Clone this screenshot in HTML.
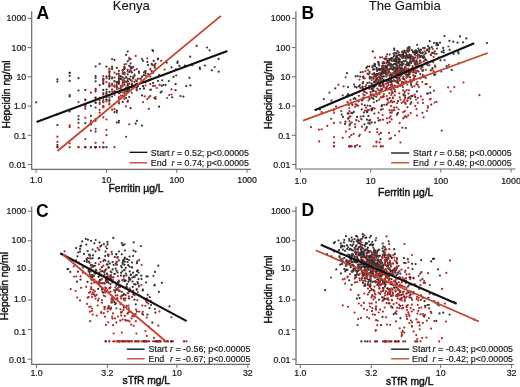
<!DOCTYPE html><html><head><meta charset="utf-8"><style>html,body{margin:0;padding:0;background:#fff;}svg{display:block;filter:blur(0.35px);}</style></head><body>
<svg width="520" height="387" viewBox="0 0 520 387" font-family='"Liberation Sans", sans-serif'>
<style>
text{font-family:"Liberation Sans",sans-serif;fill:#151515;}
.tk{font-size:8.8px;stroke:#151515;stroke-width:0.2px;}
.at{font-size:10.3px;stroke:#151515;stroke-width:0.45px;}
.lt{font-size:17.5px;font-weight:bold;fill:#000;}
.tt{font-size:13.1px;stroke:#151515;stroke-width:0.1px;}
.lg{font-size:8.9px;stroke:#151515;stroke-width:0.15px;}
</style>
<rect width="520" height="387" fill="#fff"/>
<g stroke="none">
<circle cx="150.3" cy="89.8" r="1.1" fill="#333333"/>
<circle cx="140.0" cy="78.6" r="1.1" fill="#a82c2c"/>
<circle cx="190.2" cy="56.7" r="1.1" fill="#333333"/>
<circle cx="103.3" cy="147.2" r="1.1" fill="#a82c2c"/>
<circle cx="171.5" cy="67.3" r="1.1" fill="#333333"/>
<circle cx="127.7" cy="101.8" r="1.1" fill="#333333"/>
<circle cx="127.7" cy="74.4" r="1.1" fill="#333333"/>
<circle cx="130.6" cy="70.7" r="1.1" fill="#a82c2c"/>
<circle cx="103.3" cy="89.9" r="1.1" fill="#333333"/>
<circle cx="189.4" cy="77.8" r="1.1" fill="#333333"/>
<circle cx="69.7" cy="147.2" r="1.1" fill="#a82c2c"/>
<circle cx="218.7" cy="71.7" r="1.1" fill="#333333"/>
<circle cx="106.5" cy="82.2" r="1.1" fill="#a82c2c"/>
<circle cx="109.4" cy="74.0" r="1.1" fill="#a82c2c"/>
<circle cx="127.7" cy="91.6" r="1.1" fill="#333333"/>
<circle cx="95.6" cy="78.2" r="1.1" fill="#a82c2c"/>
<circle cx="167.2" cy="98.0" r="1.1" fill="#a82c2c"/>
<circle cx="109.4" cy="83.4" r="1.1" fill="#a82c2c"/>
<circle cx="124.4" cy="96.7" r="1.1" fill="#a82c2c"/>
<circle cx="143.9" cy="72.5" r="1.1" fill="#333333"/>
<circle cx="116.8" cy="112.6" r="1.1" fill="#a82c2c"/>
<circle cx="95.6" cy="118.9" r="1.1" fill="#a82c2c"/>
<circle cx="120.8" cy="87.2" r="1.1" fill="#a82c2c"/>
<circle cx="161.7" cy="91.5" r="1.1" fill="#333333"/>
<circle cx="153.1" cy="82.9" r="1.1" fill="#333333"/>
<circle cx="137.9" cy="86.2" r="1.1" fill="#333333"/>
<circle cx="106.5" cy="119.5" r="1.1" fill="#a82c2c"/>
<circle cx="57.4" cy="147.2" r="1.1" fill="#a82c2c"/>
<circle cx="95.6" cy="88.8" r="1.1" fill="#a82c2c"/>
<circle cx="109.4" cy="86.3" r="1.1" fill="#a82c2c"/>
<circle cx="85.3" cy="123.1" r="1.1" fill="#333333"/>
<circle cx="103.3" cy="83.9" r="1.1" fill="#333333"/>
<circle cx="141.0" cy="81.5" r="1.1" fill="#333333"/>
<circle cx="148.1" cy="74.0" r="1.1" fill="#333333"/>
<circle cx="135.7" cy="84.3" r="1.1" fill="#a82c2c"/>
<circle cx="112.1" cy="69.1" r="1.1" fill="#333333"/>
<circle cx="57.4" cy="141.8" r="1.1" fill="#a82c2c"/>
<circle cx="175.9" cy="69.3" r="1.1" fill="#333333"/>
<circle cx="126.1" cy="81.8" r="1.1" fill="#333333"/>
<circle cx="95.6" cy="147.2" r="1.1" fill="#a82c2c"/>
<circle cx="162.2" cy="80.3" r="1.1" fill="#333333"/>
<circle cx="78.5" cy="147.2" r="1.1" fill="#333333"/>
<circle cx="154.4" cy="65.2" r="1.1" fill="#a82c2c"/>
<circle cx="95.6" cy="147.2" r="1.1" fill="#a82c2c"/>
<circle cx="127.7" cy="81.1" r="1.1" fill="#333333"/>
<circle cx="126.1" cy="136.8" r="1.1" fill="#a82c2c"/>
<circle cx="124.4" cy="72.7" r="1.1" fill="#a82c2c"/>
<circle cx="130.6" cy="79.8" r="1.1" fill="#333333"/>
<circle cx="106.5" cy="99.8" r="1.1" fill="#333333"/>
<circle cx="179.4" cy="65.9" r="1.1" fill="#333333"/>
<circle cx="116.8" cy="89.2" r="1.1" fill="#a82c2c"/>
<circle cx="152.4" cy="50.1" r="1.1" fill="#333333"/>
<circle cx="109.4" cy="104.5" r="1.1" fill="#a82c2c"/>
<circle cx="133.2" cy="77.5" r="1.1" fill="#333333"/>
<circle cx="114.5" cy="103.8" r="1.1" fill="#a82c2c"/>
<circle cx="95.6" cy="128.8" r="1.1" fill="#a82c2c"/>
<circle cx="114.5" cy="81.5" r="1.1" fill="#a82c2c"/>
<circle cx="103.3" cy="102.2" r="1.1" fill="#333333"/>
<circle cx="95.6" cy="97.9" r="1.1" fill="#a82c2c"/>
<circle cx="218.6" cy="58.9" r="1.1" fill="#333333"/>
<circle cx="57.4" cy="147.2" r="1.1" fill="#a82c2c"/>
<circle cx="186.2" cy="86.1" r="1.1" fill="#333333"/>
<circle cx="103.3" cy="94.4" r="1.1" fill="#333333"/>
<circle cx="106.5" cy="76.4" r="1.1" fill="#333333"/>
<circle cx="129.2" cy="90.0" r="1.1" fill="#333333"/>
<circle cx="145.6" cy="82.4" r="1.1" fill="#a82c2c"/>
<circle cx="99.7" cy="97.9" r="1.1" fill="#333333"/>
<circle cx="106.5" cy="101.4" r="1.1" fill="#a82c2c"/>
<circle cx="127.7" cy="91.1" r="1.1" fill="#333333"/>
<circle cx="112.1" cy="85.4" r="1.1" fill="#a82c2c"/>
<circle cx="116.8" cy="87.3" r="1.1" fill="#a82c2c"/>
<circle cx="130.6" cy="108.2" r="1.1" fill="#333333"/>
<circle cx="126.1" cy="106.3" r="1.1" fill="#a82c2c"/>
<circle cx="155.6" cy="98.9" r="1.1" fill="#a82c2c"/>
<circle cx="85.3" cy="147.2" r="1.1" fill="#333333"/>
<circle cx="57.4" cy="147.2" r="1.1" fill="#a82c2c"/>
<circle cx="129.2" cy="71.9" r="1.1" fill="#333333"/>
<circle cx="156.8" cy="88.0" r="1.1" fill="#a82c2c"/>
<circle cx="95.6" cy="147.2" r="1.1" fill="#333333"/>
<circle cx="103.3" cy="147.2" r="1.1" fill="#a82c2c"/>
<circle cx="69.7" cy="75.8" r="1.1" fill="#333333"/>
<circle cx="129.2" cy="65.8" r="1.1" fill="#333333"/>
<circle cx="161.7" cy="85.8" r="1.1" fill="#333333"/>
<circle cx="85.3" cy="105.2" r="1.1" fill="#a82c2c"/>
<circle cx="95.6" cy="89.9" r="1.1" fill="#333333"/>
<circle cx="124.4" cy="90.3" r="1.1" fill="#333333"/>
<circle cx="160.7" cy="92.4" r="1.1" fill="#333333"/>
<circle cx="95.6" cy="147.2" r="1.1" fill="#a82c2c"/>
<circle cx="144.7" cy="96.4" r="1.1" fill="#a82c2c"/>
<circle cx="114.5" cy="109.1" r="1.1" fill="#a82c2c"/>
<circle cx="69.7" cy="72.8" r="1.1" fill="#333333"/>
<circle cx="103.3" cy="92.9" r="1.1" fill="#a82c2c"/>
<circle cx="209.6" cy="50.3" r="1.1" fill="#333333"/>
<circle cx="99.7" cy="109.8" r="1.1" fill="#a82c2c"/>
<circle cx="85.3" cy="106.7" r="1.1" fill="#a82c2c"/>
<circle cx="103.3" cy="106.4" r="1.1" fill="#a82c2c"/>
<circle cx="118.9" cy="70.8" r="1.1" fill="#333333"/>
<circle cx="114.5" cy="91.4" r="1.1" fill="#a82c2c"/>
<circle cx="158.0" cy="59.3" r="1.1" fill="#333333"/>
<circle cx="122.7" cy="77.3" r="1.1" fill="#333333"/>
<circle cx="90.9" cy="120.6" r="1.1" fill="#a82c2c"/>
<circle cx="90.9" cy="92.7" r="1.1" fill="#a82c2c"/>
<circle cx="118.9" cy="81.8" r="1.1" fill="#333333"/>
<circle cx="109.4" cy="95.7" r="1.1" fill="#333333"/>
<circle cx="122.7" cy="80.0" r="1.1" fill="#a82c2c"/>
<circle cx="124.4" cy="68.7" r="1.1" fill="#333333"/>
<circle cx="57.4" cy="79.3" r="1.1" fill="#333333"/>
<circle cx="106.5" cy="129.8" r="1.1" fill="#a82c2c"/>
<circle cx="116.8" cy="86.6" r="1.1" fill="#333333"/>
<circle cx="118.9" cy="77.3" r="1.1" fill="#a82c2c"/>
<circle cx="122.7" cy="95.8" r="1.1" fill="#333333"/>
<circle cx="142.0" cy="58.8" r="1.1" fill="#333333"/>
<circle cx="171.5" cy="94.5" r="1.1" fill="#a82c2c"/>
<circle cx="95.6" cy="91.6" r="1.1" fill="#a82c2c"/>
<circle cx="85.3" cy="108.7" r="1.1" fill="#a82c2c"/>
<circle cx="169.2" cy="95.0" r="1.1" fill="#a82c2c"/>
<circle cx="147.3" cy="58.3" r="1.1" fill="#a82c2c"/>
<circle cx="78.5" cy="102.1" r="1.1" fill="#a82c2c"/>
<circle cx="95.6" cy="107.5" r="1.1" fill="#333333"/>
<circle cx="131.9" cy="92.8" r="1.1" fill="#a82c2c"/>
<circle cx="127.7" cy="91.4" r="1.1" fill="#333333"/>
<circle cx="155.0" cy="85.9" r="1.1" fill="#a82c2c"/>
<circle cx="69.7" cy="143.3" r="1.1" fill="#a82c2c"/>
<circle cx="130.6" cy="70.7" r="1.1" fill="#a82c2c"/>
<circle cx="106.5" cy="99.6" r="1.1" fill="#333333"/>
<circle cx="112.1" cy="77.4" r="1.1" fill="#a82c2c"/>
<circle cx="135.7" cy="87.3" r="1.1" fill="#a82c2c"/>
<circle cx="114.5" cy="77.6" r="1.1" fill="#a82c2c"/>
<circle cx="159.1" cy="75.2" r="1.1" fill="#333333"/>
<circle cx="120.8" cy="90.6" r="1.1" fill="#a82c2c"/>
<circle cx="129.2" cy="83.6" r="1.1" fill="#a82c2c"/>
<circle cx="57.4" cy="125.0" r="1.1" fill="#333333"/>
<circle cx="130.6" cy="66.9" r="1.1" fill="#333333"/>
<circle cx="122.7" cy="73.2" r="1.1" fill="#a82c2c"/>
<circle cx="145.6" cy="73.1" r="1.1" fill="#333333"/>
<circle cx="95.6" cy="131.5" r="1.1" fill="#333333"/>
<circle cx="116.8" cy="83.0" r="1.1" fill="#333333"/>
<circle cx="95.6" cy="102.8" r="1.1" fill="#333333"/>
<circle cx="175.6" cy="84.2" r="1.1" fill="#333333"/>
<circle cx="148.8" cy="108.9" r="1.1" fill="#a82c2c"/>
<circle cx="148.8" cy="97.4" r="1.1" fill="#a82c2c"/>
<circle cx="180.5" cy="96.0" r="1.1" fill="#333333"/>
<circle cx="127.7" cy="87.7" r="1.1" fill="#333333"/>
<circle cx="90.9" cy="122.8" r="1.1" fill="#a82c2c"/>
<circle cx="158.0" cy="80.8" r="1.1" fill="#333333"/>
<circle cx="122.7" cy="70.5" r="1.1" fill="#333333"/>
<circle cx="196.6" cy="45.8" r="1.1" fill="#333333"/>
<circle cx="126.1" cy="88.7" r="1.1" fill="#333333"/>
<circle cx="136.8" cy="69.1" r="1.1" fill="#a82c2c"/>
<circle cx="130.6" cy="71.4" r="1.1" fill="#a82c2c"/>
<circle cx="99.7" cy="147.2" r="1.1" fill="#a82c2c"/>
<circle cx="109.4" cy="97.7" r="1.1" fill="#a82c2c"/>
<circle cx="127.7" cy="100.6" r="1.1" fill="#a82c2c"/>
<circle cx="214.7" cy="67.1" r="1.1" fill="#a82c2c"/>
<circle cx="148.8" cy="80.2" r="1.1" fill="#333333"/>
<circle cx="103.3" cy="147.2" r="1.1" fill="#333333"/>
<circle cx="57.4" cy="81.6" r="1.1" fill="#333333"/>
<circle cx="78.5" cy="90.5" r="1.1" fill="#333333"/>
<circle cx="99.7" cy="104.0" r="1.1" fill="#a82c2c"/>
<circle cx="36.2" cy="102.3" r="1.1" fill="#333333"/>
<circle cx="122.7" cy="84.4" r="1.1" fill="#a82c2c"/>
<circle cx="116.8" cy="73.9" r="1.1" fill="#333333"/>
<circle cx="118.9" cy="98.4" r="1.1" fill="#a82c2c"/>
<circle cx="150.3" cy="84.1" r="1.1" fill="#a82c2c"/>
<circle cx="106.5" cy="93.3" r="1.1" fill="#333333"/>
<circle cx="142.0" cy="76.7" r="1.1" fill="#333333"/>
<circle cx="78.5" cy="119.3" r="1.1" fill="#333333"/>
<circle cx="129.2" cy="87.0" r="1.1" fill="#333333"/>
<circle cx="159.6" cy="84.9" r="1.1" fill="#a82c2c"/>
<circle cx="127.7" cy="89.2" r="1.1" fill="#333333"/>
<circle cx="134.5" cy="81.8" r="1.1" fill="#333333"/>
<circle cx="153.1" cy="85.9" r="1.1" fill="#a82c2c"/>
<circle cx="109.4" cy="86.4" r="1.1" fill="#333333"/>
<circle cx="106.5" cy="89.6" r="1.1" fill="#333333"/>
<circle cx="109.4" cy="71.6" r="1.1" fill="#333333"/>
<circle cx="118.9" cy="122.6" r="1.1" fill="#a82c2c"/>
<circle cx="159.1" cy="106.7" r="1.1" fill="#333333"/>
<circle cx="151.7" cy="63.9" r="1.1" fill="#333333"/>
<circle cx="153.7" cy="60.9" r="1.1" fill="#333333"/>
<circle cx="118.9" cy="80.2" r="1.1" fill="#a82c2c"/>
<circle cx="95.6" cy="142.8" r="1.1" fill="#a82c2c"/>
<circle cx="114.5" cy="72.6" r="1.1" fill="#a82c2c"/>
<circle cx="85.3" cy="90.1" r="1.1" fill="#333333"/>
<circle cx="69.7" cy="125.4" r="1.1" fill="#a82c2c"/>
<circle cx="99.7" cy="112.7" r="1.1" fill="#a82c2c"/>
<circle cx="129.2" cy="97.0" r="1.1" fill="#333333"/>
<circle cx="116.8" cy="111.1" r="1.1" fill="#a82c2c"/>
<circle cx="69.7" cy="80.9" r="1.1" fill="#333333"/>
<circle cx="127.7" cy="71.5" r="1.1" fill="#a82c2c"/>
<circle cx="124.4" cy="64.6" r="1.1" fill="#a82c2c"/>
<circle cx="95.6" cy="97.7" r="1.1" fill="#333333"/>
<circle cx="120.8" cy="88.8" r="1.1" fill="#a82c2c"/>
<circle cx="129.2" cy="124.3" r="1.1" fill="#a82c2c"/>
<circle cx="168.8" cy="81.0" r="1.1" fill="#333333"/>
<circle cx="124.4" cy="84.4" r="1.1" fill="#a82c2c"/>
<circle cx="109.4" cy="91.8" r="1.1" fill="#333333"/>
<circle cx="103.3" cy="107.3" r="1.1" fill="#a82c2c"/>
<circle cx="136.8" cy="90.2" r="1.1" fill="#333333"/>
<circle cx="95.6" cy="66.5" r="1.1" fill="#333333"/>
<circle cx="172.2" cy="97.3" r="1.1" fill="#333333"/>
<circle cx="109.4" cy="101.0" r="1.1" fill="#333333"/>
<circle cx="136.8" cy="83.6" r="1.1" fill="#a82c2c"/>
<circle cx="136.8" cy="87.8" r="1.1" fill="#333333"/>
<circle cx="127.7" cy="84.0" r="1.1" fill="#333333"/>
<circle cx="78.5" cy="127.7" r="1.1" fill="#a82c2c"/>
<circle cx="127.7" cy="78.8" r="1.1" fill="#a82c2c"/>
<circle cx="106.5" cy="147.2" r="1.1" fill="#333333"/>
<circle cx="90.9" cy="122.7" r="1.1" fill="#a82c2c"/>
<circle cx="147.3" cy="61.8" r="1.1" fill="#333333"/>
<circle cx="118.9" cy="78.8" r="1.1" fill="#333333"/>
<circle cx="95.6" cy="102.5" r="1.1" fill="#333333"/>
<circle cx="95.6" cy="147.2" r="1.1" fill="#a82c2c"/>
<circle cx="150.3" cy="69.1" r="1.1" fill="#333333"/>
<circle cx="143.0" cy="102.1" r="1.1" fill="#a82c2c"/>
<circle cx="57.4" cy="145.1" r="1.1" fill="#333333"/>
<circle cx="124.4" cy="92.1" r="1.1" fill="#a82c2c"/>
<circle cx="154.4" cy="98.1" r="1.1" fill="#333333"/>
<circle cx="112.1" cy="109.7" r="1.1" fill="#a82c2c"/>
<circle cx="144.7" cy="71.7" r="1.1" fill="#a82c2c"/>
<circle cx="103.3" cy="97.6" r="1.1" fill="#333333"/>
<circle cx="143.9" cy="75.2" r="1.1" fill="#333333"/>
<circle cx="109.4" cy="72.4" r="1.1" fill="#a82c2c"/>
<circle cx="124.4" cy="94.1" r="1.1" fill="#a82c2c"/>
<circle cx="199.7" cy="67.6" r="1.1" fill="#333333"/>
<circle cx="112.1" cy="59.2" r="1.1" fill="#a82c2c"/>
<circle cx="69.7" cy="96.4" r="1.1" fill="#333333"/>
<circle cx="143.0" cy="86.1" r="1.1" fill="#a82c2c"/>
<circle cx="112.1" cy="91.7" r="1.1" fill="#a82c2c"/>
<circle cx="116.8" cy="82.3" r="1.1" fill="#a82c2c"/>
<circle cx="131.9" cy="83.7" r="1.1" fill="#a82c2c"/>
<circle cx="69.7" cy="72.8" r="1.1" fill="#333333"/>
<circle cx="136.8" cy="81.1" r="1.1" fill="#333333"/>
<circle cx="112.1" cy="78.3" r="1.1" fill="#333333"/>
<circle cx="106.5" cy="135.2" r="1.1" fill="#a82c2c"/>
<circle cx="163.2" cy="85.0" r="1.1" fill="#333333"/>
<circle cx="122.7" cy="82.6" r="1.1" fill="#333333"/>
<circle cx="90.9" cy="147.2" r="1.1" fill="#a82c2c"/>
<circle cx="143.0" cy="60.8" r="1.1" fill="#333333"/>
<circle cx="185.0" cy="65.5" r="1.1" fill="#333333"/>
<circle cx="126.1" cy="98.0" r="1.1" fill="#333333"/>
<circle cx="122.7" cy="73.7" r="1.1" fill="#a82c2c"/>
<circle cx="161.2" cy="60.8" r="1.1" fill="#a82c2c"/>
<circle cx="154.4" cy="66.5" r="1.1" fill="#333333"/>
<circle cx="143.9" cy="88.5" r="1.1" fill="#333333"/>
<circle cx="114.5" cy="81.1" r="1.1" fill="#333333"/>
<circle cx="112.1" cy="89.4" r="1.1" fill="#a82c2c"/>
<circle cx="90.9" cy="124.6" r="1.1" fill="#333333"/>
<circle cx="120.8" cy="95.7" r="1.1" fill="#a82c2c"/>
<circle cx="114.5" cy="86.5" r="1.1" fill="#a82c2c"/>
<circle cx="120.8" cy="92.4" r="1.1" fill="#a82c2c"/>
<circle cx="126.1" cy="64.0" r="1.1" fill="#a82c2c"/>
<circle cx="112.1" cy="83.8" r="1.1" fill="#a82c2c"/>
<circle cx="130.6" cy="68.7" r="1.1" fill="#a82c2c"/>
<circle cx="124.4" cy="73.2" r="1.1" fill="#333333"/>
<circle cx="127.7" cy="61.3" r="1.1" fill="#333333"/>
<circle cx="151.0" cy="89.7" r="1.1" fill="#a82c2c"/>
<circle cx="136.8" cy="120.8" r="1.1" fill="#333333"/>
<circle cx="129.2" cy="57.9" r="1.1" fill="#a82c2c"/>
<circle cx="99.7" cy="85.1" r="1.1" fill="#333333"/>
<circle cx="131.9" cy="87.4" r="1.1" fill="#a82c2c"/>
<circle cx="120.8" cy="79.0" r="1.1" fill="#333333"/>
<circle cx="103.3" cy="78.7" r="1.1" fill="#a82c2c"/>
<circle cx="106.5" cy="92.1" r="1.1" fill="#333333"/>
<circle cx="124.4" cy="66.9" r="1.1" fill="#333333"/>
<circle cx="103.3" cy="76.0" r="1.1" fill="#a82c2c"/>
<circle cx="109.4" cy="71.7" r="1.1" fill="#a82c2c"/>
<circle cx="126.1" cy="91.6" r="1.1" fill="#333333"/>
<circle cx="129.2" cy="88.4" r="1.1" fill="#333333"/>
<circle cx="118.9" cy="73.7" r="1.1" fill="#a82c2c"/>
<circle cx="131.9" cy="87.3" r="1.1" fill="#a82c2c"/>
<circle cx="122.7" cy="70.4" r="1.1" fill="#333333"/>
<circle cx="141.0" cy="82.9" r="1.1" fill="#a82c2c"/>
<circle cx="116.8" cy="67.9" r="1.1" fill="#333333"/>
<circle cx="190.4" cy="85.4" r="1.1" fill="#333333"/>
<circle cx="109.4" cy="78.9" r="1.1" fill="#333333"/>
<circle cx="116.8" cy="122.4" r="1.1" fill="#333333"/>
<circle cx="166.8" cy="62.6" r="1.1" fill="#333333"/>
<circle cx="150.3" cy="96.0" r="1.1" fill="#333333"/>
<circle cx="109.4" cy="69.5" r="1.1" fill="#a82c2c"/>
<circle cx="118.9" cy="103.3" r="1.1" fill="#333333"/>
<circle cx="90.9" cy="147.2" r="1.1" fill="#a82c2c"/>
<circle cx="120.8" cy="85.8" r="1.1" fill="#a82c2c"/>
<circle cx="114.5" cy="59.8" r="1.1" fill="#333333"/>
<circle cx="173.6" cy="76.8" r="1.1" fill="#333333"/>
<circle cx="85.3" cy="100.2" r="1.1" fill="#a82c2c"/>
<circle cx="90.9" cy="147.2" r="1.1" fill="#333333"/>
<circle cx="90.9" cy="115.8" r="1.1" fill="#333333"/>
<circle cx="133.2" cy="86.8" r="1.1" fill="#a82c2c"/>
<circle cx="139.0" cy="73.1" r="1.1" fill="#a82c2c"/>
<circle cx="127.7" cy="88.8" r="1.1" fill="#333333"/>
<circle cx="114.5" cy="85.4" r="1.1" fill="#a82c2c"/>
<circle cx="155.6" cy="63.6" r="1.1" fill="#a82c2c"/>
<circle cx="103.3" cy="117.4" r="1.1" fill="#a82c2c"/>
<circle cx="134.5" cy="74.7" r="1.1" fill="#a82c2c"/>
<circle cx="131.9" cy="84.9" r="1.1" fill="#a82c2c"/>
<circle cx="85.3" cy="117.8" r="1.1" fill="#a82c2c"/>
<circle cx="127.7" cy="81.6" r="1.1" fill="#333333"/>
<circle cx="136.8" cy="89.7" r="1.1" fill="#a82c2c"/>
<circle cx="78.5" cy="147.2" r="1.1" fill="#a82c2c"/>
<circle cx="164.6" cy="69.5" r="1.1" fill="#a82c2c"/>
<circle cx="95.6" cy="147.2" r="1.1" fill="#333333"/>
<circle cx="109.4" cy="68.5" r="1.1" fill="#a82c2c"/>
<circle cx="139.0" cy="71.7" r="1.1" fill="#333333"/>
<circle cx="85.3" cy="139.1" r="1.1" fill="#a82c2c"/>
<circle cx="95.6" cy="81.3" r="1.1" fill="#333333"/>
<circle cx="204.9" cy="65.5" r="1.1" fill="#333333"/>
<circle cx="183.4" cy="96.6" r="1.1" fill="#333333"/>
<circle cx="90.9" cy="130.7" r="1.1" fill="#a82c2c"/>
<circle cx="114.5" cy="91.3" r="1.1" fill="#333333"/>
<circle cx="127.7" cy="88.7" r="1.1" fill="#a82c2c"/>
<circle cx="126.1" cy="54.8" r="1.1" fill="#333333"/>
<circle cx="155.0" cy="64.4" r="1.1" fill="#a82c2c"/>
<circle cx="112.1" cy="96.5" r="1.1" fill="#333333"/>
<circle cx="177.4" cy="62.9" r="1.1" fill="#333333"/>
<circle cx="78.5" cy="78.2" r="1.1" fill="#333333"/>
<circle cx="147.3" cy="99.1" r="1.1" fill="#a82c2c"/>
<circle cx="103.3" cy="79.4" r="1.1" fill="#333333"/>
<circle cx="112.1" cy="66.7" r="1.1" fill="#333333"/>
<circle cx="118.9" cy="88.6" r="1.1" fill="#a82c2c"/>
<circle cx="114.5" cy="92.9" r="1.1" fill="#a82c2c"/>
<circle cx="153.1" cy="72.8" r="1.1" fill="#a82c2c"/>
<circle cx="124.4" cy="67.7" r="1.1" fill="#a82c2c"/>
<circle cx="106.5" cy="94.3" r="1.1" fill="#a82c2c"/>
<circle cx="118.9" cy="97.0" r="1.1" fill="#a82c2c"/>
<circle cx="69.7" cy="95.0" r="1.1" fill="#333333"/>
<circle cx="103.3" cy="147.2" r="1.1" fill="#a82c2c"/>
<circle cx="133.2" cy="77.2" r="1.1" fill="#a82c2c"/>
<circle cx="155.6" cy="97.1" r="1.1" fill="#a82c2c"/>
<circle cx="95.6" cy="76.2" r="1.1" fill="#333333"/>
<circle cx="57.4" cy="136.7" r="1.1" fill="#a82c2c"/>
<circle cx="135.7" cy="55.9" r="1.1" fill="#a82c2c"/>
<circle cx="85.3" cy="147.2" r="1.1" fill="#a82c2c"/>
<circle cx="103.3" cy="106.4" r="1.1" fill="#a82c2c"/>
<circle cx="118.9" cy="100.8" r="1.1" fill="#a82c2c"/>
<circle cx="99.7" cy="115.9" r="1.1" fill="#333333"/>
<circle cx="120.8" cy="76.6" r="1.1" fill="#333333"/>
<circle cx="148.1" cy="64.9" r="1.1" fill="#333333"/>
<circle cx="131.9" cy="72.4" r="1.1" fill="#333333"/>
<circle cx="78.5" cy="116.0" r="1.1" fill="#333333"/>
<circle cx="118.9" cy="93.3" r="1.1" fill="#333333"/>
<circle cx="133.2" cy="66.8" r="1.1" fill="#333333"/>
<circle cx="124.4" cy="84.9" r="1.1" fill="#a82c2c"/>
<circle cx="155.0" cy="67.8" r="1.1" fill="#a82c2c"/>
<circle cx="137.9" cy="78.8" r="1.1" fill="#333333"/>
<circle cx="118.9" cy="83.8" r="1.1" fill="#333333"/>
<circle cx="124.4" cy="74.4" r="1.1" fill="#a82c2c"/>
<circle cx="130.6" cy="76.5" r="1.1" fill="#333333"/>
<circle cx="122.7" cy="101.9" r="1.1" fill="#333333"/>
<circle cx="211.8" cy="70.3" r="1.1" fill="#333333"/>
<circle cx="120.8" cy="98.3" r="1.1" fill="#a82c2c"/>
<circle cx="57.4" cy="114.4" r="1.1" fill="#333333"/>
<circle cx="192.3" cy="65.2" r="1.1" fill="#333333"/>
<circle cx="129.2" cy="78.8" r="1.1" fill="#333333"/>
<circle cx="106.5" cy="66.6" r="1.1" fill="#333333"/>
<circle cx="124.4" cy="99.0" r="1.1" fill="#a82c2c"/>
<circle cx="114.5" cy="94.8" r="1.1" fill="#a82c2c"/>
<circle cx="200.0" cy="68.9" r="1.1" fill="#333333"/>
<circle cx="158.0" cy="58.6" r="1.1" fill="#333333"/>
<circle cx="85.3" cy="105.0" r="1.1" fill="#a82c2c"/>
<circle cx="140.0" cy="88.8" r="1.1" fill="#333333"/>
<circle cx="118.9" cy="82.2" r="1.1" fill="#a82c2c"/>
<circle cx="141.0" cy="79.1" r="1.1" fill="#a82c2c"/>
<circle cx="95.6" cy="120.9" r="1.1" fill="#a82c2c"/>
<circle cx="118.9" cy="120.8" r="1.1" fill="#333333"/>
<circle cx="130.6" cy="63.5" r="1.1" fill="#333333"/>
<circle cx="99.7" cy="100.6" r="1.1" fill="#a82c2c"/>
<circle cx="120.8" cy="76.3" r="1.1" fill="#333333"/>
<circle cx="134.5" cy="70.1" r="1.1" fill="#333333"/>
<circle cx="207.1" cy="47.5" r="1.1" fill="#333333"/>
<circle cx="78.5" cy="122.9" r="1.1" fill="#a82c2c"/>
<circle cx="109.4" cy="86.1" r="1.1" fill="#a82c2c"/>
<circle cx="126.1" cy="94.4" r="1.1" fill="#a82c2c"/>
<circle cx="134.5" cy="75.8" r="1.1" fill="#333333"/>
<circle cx="131.9" cy="84.8" r="1.1" fill="#333333"/>
<circle cx="124.4" cy="78.7" r="1.1" fill="#333333"/>
<circle cx="148.8" cy="80.5" r="1.1" fill="#333333"/>
<circle cx="163.2" cy="75.3" r="1.1" fill="#a82c2c"/>
<circle cx="150.3" cy="80.0" r="1.1" fill="#333333"/>
<circle cx="124.4" cy="68.8" r="1.1" fill="#333333"/>
<circle cx="126.1" cy="89.4" r="1.1" fill="#333333"/>
<circle cx="109.4" cy="100.1" r="1.1" fill="#333333"/>
<circle cx="85.3" cy="99.5" r="1.1" fill="#333333"/>
<circle cx="120.8" cy="78.9" r="1.1" fill="#333333"/>
<circle cx="122.7" cy="86.4" r="1.1" fill="#a82c2c"/>
<circle cx="106.5" cy="78.2" r="1.1" fill="#a82c2c"/>
<circle cx="133.2" cy="78.5" r="1.1" fill="#333333"/>
<circle cx="127.7" cy="51.5" r="1.1" fill="#333333"/>
<circle cx="116.8" cy="84.9" r="1.1" fill="#a82c2c"/>
<circle cx="153.1" cy="51.1" r="1.1" fill="#333333"/>
<circle cx="118.9" cy="92.2" r="1.1" fill="#a82c2c"/>
<circle cx="135.7" cy="80.0" r="1.1" fill="#a82c2c"/>
<circle cx="127.7" cy="78.6" r="1.1" fill="#a82c2c"/>
<circle cx="114.5" cy="86.5" r="1.1" fill="#a82c2c"/>
<circle cx="103.3" cy="81.0" r="1.1" fill="#a82c2c"/>
<circle cx="165.5" cy="84.9" r="1.1" fill="#333333"/>
<circle cx="114.5" cy="112.1" r="1.1" fill="#333333"/>
<circle cx="122.7" cy="80.6" r="1.1" fill="#a82c2c"/>
<circle cx="176.2" cy="75.4" r="1.1" fill="#a82c2c"/>
<circle cx="118.9" cy="75.6" r="1.1" fill="#333333"/>
<circle cx="103.3" cy="106.0" r="1.1" fill="#a82c2c"/>
<circle cx="130.6" cy="59.0" r="1.1" fill="#333333"/>
<circle cx="135.7" cy="123.7" r="1.1" fill="#333333"/>
<circle cx="124.4" cy="81.7" r="1.1" fill="#333333"/>
<circle cx="103.3" cy="99.9" r="1.1" fill="#a82c2c"/>
<circle cx="124.4" cy="81.8" r="1.1" fill="#a82c2c"/>
<circle cx="131.9" cy="68.2" r="1.1" fill="#333333"/>
<circle cx="116.8" cy="81.9" r="1.1" fill="#333333"/>
<circle cx="122.7" cy="70.5" r="1.1" fill="#a82c2c"/>
<circle cx="103.3" cy="101.5" r="1.1" fill="#a82c2c"/>
<circle cx="142.0" cy="125.5" r="1.1" fill="#333333"/>
<circle cx="129.2" cy="59.7" r="1.1" fill="#a82c2c"/>
<circle cx="177.7" cy="61.5" r="1.1" fill="#333333"/>
<circle cx="103.3" cy="79.6" r="1.1" fill="#333333"/>
<circle cx="175.6" cy="90.2" r="1.1" fill="#333333"/>
<circle cx="131.9" cy="81.2" r="1.1" fill="#a82c2c"/>
<circle cx="143.9" cy="88.3" r="1.1" fill="#333333"/>
<circle cx="143.0" cy="86.0" r="1.1" fill="#333333"/>
<circle cx="106.5" cy="97.2" r="1.1" fill="#333333"/>
<circle cx="112.1" cy="67.1" r="1.1" fill="#a82c2c"/>
<circle cx="127.7" cy="85.4" r="1.1" fill="#333333"/>
<circle cx="118.9" cy="103.1" r="1.1" fill="#a82c2c"/>
<circle cx="152.4" cy="65.0" r="1.1" fill="#333333"/>
<circle cx="103.3" cy="142.7" r="1.1" fill="#a82c2c"/>
<circle cx="109.4" cy="76.9" r="1.1" fill="#333333"/>
<circle cx="126.1" cy="77.2" r="1.1" fill="#333333"/>
<circle cx="126.1" cy="87.3" r="1.1" fill="#a82c2c"/>
<circle cx="109.4" cy="75.9" r="1.1" fill="#333333"/>
<circle cx="114.5" cy="147.2" r="1.1" fill="#a82c2c"/>
<circle cx="124.4" cy="81.2" r="1.1" fill="#a82c2c"/>
<circle cx="109.4" cy="84.9" r="1.1" fill="#a82c2c"/>
<circle cx="145.6" cy="71.1" r="1.1" fill="#333333"/>
<circle cx="171.5" cy="89.3" r="1.1" fill="#a82c2c"/>
<circle cx="90.9" cy="105.8" r="1.1" fill="#333333"/>
<circle cx="122.7" cy="97.1" r="1.1" fill="#333333"/>
<circle cx="103.3" cy="82.6" r="1.1" fill="#333333"/>
<circle cx="145.6" cy="75.5" r="1.1" fill="#333333"/>
<circle cx="90.9" cy="147.2" r="1.1" fill="#a82c2c"/>
<circle cx="95.6" cy="147.2" r="1.1" fill="#333333"/>
<circle cx="127.7" cy="69.8" r="1.1" fill="#333333"/>
<circle cx="109.4" cy="103.3" r="1.1" fill="#a82c2c"/>
<circle cx="122.7" cy="92.4" r="1.1" fill="#a82c2c"/>
<circle cx="69.7" cy="111.5" r="1.1" fill="#333333"/>
<circle cx="103.3" cy="102.2" r="1.1" fill="#a82c2c"/>
<circle cx="103.3" cy="80.2" r="1.1" fill="#a82c2c"/>
<circle cx="99.7" cy="102.9" r="1.1" fill="#a82c2c"/>
<circle cx="151.7" cy="71.1" r="1.1" fill="#333333"/>
<circle cx="118.9" cy="82.4" r="1.1" fill="#333333"/>
<circle cx="129.2" cy="83.8" r="1.1" fill="#a82c2c"/>
<circle cx="85.3" cy="147.2" r="1.1" fill="#333333"/>
<circle cx="143.0" cy="81.6" r="1.1" fill="#333333"/>
<circle cx="116.8" cy="110.5" r="1.1" fill="#333333"/>
<circle cx="142.0" cy="95.4" r="1.1" fill="#333333"/>
<circle cx="69.7" cy="127.2" r="1.1" fill="#a82c2c"/>
<circle cx="99.7" cy="63.9" r="1.1" fill="#333333"/>
<circle cx="145.6" cy="85.5" r="1.1" fill="#a82c2c"/>
<circle cx="150.3" cy="76.7" r="1.1" fill="#a82c2c"/>
</g>
<line x1="36.5" y1="122.1" x2="227.4" y2="51.1" stroke="#111" stroke-width="2.1"/>
<line x1="57.5" y1="151.0" x2="220.9" y2="15.9" stroke="#c6432f" stroke-width="1.8"/>
<path d="M31.7 11.2 V169.3 H251.0" fill="none" stroke="#6c6c6c" stroke-width="1.2"/>
<line x1="27.7" y1="18.3" x2="31.7" y2="18.3" stroke="#6c6c6c" stroke-width="1"/>
<text x="26.2" y="21.3" class="tk" text-anchor="end">1000</text>
<line x1="27.7" y1="47.6" x2="31.7" y2="47.6" stroke="#6c6c6c" stroke-width="1"/>
<text x="26.2" y="50.6" class="tk" text-anchor="end">100</text>
<line x1="27.7" y1="76.8" x2="31.7" y2="76.8" stroke="#6c6c6c" stroke-width="1"/>
<text x="26.2" y="79.8" class="tk" text-anchor="end">10</text>
<line x1="27.7" y1="106.1" x2="31.7" y2="106.1" stroke="#6c6c6c" stroke-width="1"/>
<text x="26.2" y="109.1" class="tk" text-anchor="end">1.0</text>
<line x1="27.7" y1="135.3" x2="31.7" y2="135.3" stroke="#6c6c6c" stroke-width="1"/>
<text x="26.2" y="139.1" class="tk" text-anchor="end">0.1</text>
<line x1="27.7" y1="164.6" x2="31.7" y2="164.6" stroke="#6c6c6c" stroke-width="1"/>
<text x="26.2" y="168.4" class="tk" text-anchor="end">0.01</text>
<line x1="36.2" y1="169.3" x2="36.2" y2="172.8" stroke="#6c6c6c" stroke-width="1"/>
<text x="36.2" y="182.7" class="tk" text-anchor="middle">1.0</text>
<line x1="106.5" y1="169.3" x2="106.5" y2="172.8" stroke="#6c6c6c" stroke-width="1"/>
<text x="106.5" y="182.7" class="tk" text-anchor="middle">10</text>
<line x1="176.8" y1="169.3" x2="176.8" y2="172.8" stroke="#6c6c6c" stroke-width="1"/>
<text x="176.8" y="182.7" class="tk" text-anchor="middle">100</text>
<line x1="247.1" y1="169.3" x2="247.1" y2="172.8" stroke="#6c6c6c" stroke-width="1"/>
<text x="247.1" y="182.7" class="tk" text-anchor="middle">1000</text>
<text x="136.0" y="191.9" class="at" text-anchor="middle">Ferritin µg/L</text>
<text transform="translate(9.5,94.5) rotate(-90)" class="at" text-anchor="middle">Hepcidin ng/ml</text>
<text x="36.6" y="19.2" class="lt">A</text>
<text x="131.3" y="9.6" class="tt" text-anchor="middle">Kenya</text>
<line x1="129.5" y1="152.3" x2="147.4" y2="152.3" stroke="#111" stroke-width="1.35"/>
<line x1="129.5" y1="162.8" x2="147.4" y2="162.8" stroke="#c6432f" stroke-width="1.35"/>
<text x="150.8" y="156.2" class="lg">Start</text>
<text x="150.8" y="166.4" class="lg">End</text>
<text x="171.5" y="156.2" class="lg"><tspan font-style="italic">r</tspan> = 0.52; p&lt;0.00005</text>
<text x="171.5" y="166.4" class="lg"><tspan font-style="italic">r</tspan> = 0.74; p&lt;0.00005</text>
<g stroke="none">
<circle cx="345.9" cy="131.6" r="1.1" fill="#a82c2c"/>
<circle cx="367.1" cy="112.2" r="1.1" fill="#333333"/>
<circle cx="413.8" cy="59.0" r="1.1" fill="#333333"/>
<circle cx="384.2" cy="104.8" r="1.1" fill="#a82c2c"/>
<circle cx="376.2" cy="80.7" r="1.1" fill="#333333"/>
<circle cx="373.5" cy="99.1" r="1.1" fill="#333333"/>
<circle cx="423.5" cy="55.4" r="1.1" fill="#a82c2c"/>
<circle cx="411.9" cy="50.2" r="1.1" fill="#333333"/>
<circle cx="349.5" cy="125.4" r="1.1" fill="#a82c2c"/>
<circle cx="403.4" cy="64.2" r="1.1" fill="#333333"/>
<circle cx="440.0" cy="42.7" r="1.1" fill="#333333"/>
<circle cx="366.1" cy="107.7" r="1.1" fill="#a82c2c"/>
<circle cx="373.8" cy="78.8" r="1.1" fill="#a82c2c"/>
<circle cx="420.8" cy="53.0" r="1.1" fill="#333333"/>
<circle cx="398.6" cy="109.3" r="1.1" fill="#a82c2c"/>
<circle cx="371.6" cy="122.4" r="1.1" fill="#333333"/>
<circle cx="374.3" cy="75.4" r="1.1" fill="#a82c2c"/>
<circle cx="372.8" cy="51.4" r="1.1" fill="#333333"/>
<circle cx="418.8" cy="65.9" r="1.1" fill="#a82c2c"/>
<circle cx="397.7" cy="113.2" r="1.1" fill="#a82c2c"/>
<circle cx="423.0" cy="103.1" r="1.1" fill="#a82c2c"/>
<circle cx="363.3" cy="97.7" r="1.1" fill="#333333"/>
<circle cx="397.6" cy="87.2" r="1.1" fill="#a82c2c"/>
<circle cx="392.5" cy="102.3" r="1.1" fill="#a82c2c"/>
<circle cx="346.9" cy="73.2" r="1.1" fill="#333333"/>
<circle cx="429.5" cy="48.9" r="1.1" fill="#333333"/>
<circle cx="361.9" cy="104.2" r="1.1" fill="#a82c2c"/>
<circle cx="432.4" cy="68.9" r="1.1" fill="#a82c2c"/>
<circle cx="400.2" cy="73.2" r="1.1" fill="#333333"/>
<circle cx="432.1" cy="52.9" r="1.1" fill="#333333"/>
<circle cx="390.3" cy="112.6" r="1.1" fill="#333333"/>
<circle cx="410.8" cy="61.1" r="1.1" fill="#a82c2c"/>
<circle cx="387.6" cy="83.1" r="1.1" fill="#a82c2c"/>
<circle cx="380.6" cy="81.4" r="1.1" fill="#333333"/>
<circle cx="394.0" cy="60.5" r="1.1" fill="#a82c2c"/>
<circle cx="425.8" cy="69.8" r="1.1" fill="#a82c2c"/>
<circle cx="363.5" cy="76.3" r="1.1" fill="#a82c2c"/>
<circle cx="417.0" cy="115.5" r="1.1" fill="#a82c2c"/>
<circle cx="381.9" cy="96.8" r="1.1" fill="#a82c2c"/>
<circle cx="387.6" cy="74.6" r="1.1" fill="#a82c2c"/>
<circle cx="398.8" cy="73.5" r="1.1" fill="#333333"/>
<circle cx="367.4" cy="73.7" r="1.1" fill="#a82c2c"/>
<circle cx="396.8" cy="53.5" r="1.1" fill="#a82c2c"/>
<circle cx="393.3" cy="77.3" r="1.1" fill="#333333"/>
<circle cx="400.2" cy="86.1" r="1.1" fill="#a82c2c"/>
<circle cx="364.9" cy="110.7" r="1.1" fill="#a82c2c"/>
<circle cx="377.4" cy="78.0" r="1.1" fill="#333333"/>
<circle cx="412.7" cy="67.8" r="1.1" fill="#a82c2c"/>
<circle cx="416.7" cy="66.7" r="1.1" fill="#333333"/>
<circle cx="479.4" cy="95.2" r="1.1" fill="#a82c2c"/>
<circle cx="410.4" cy="57.0" r="1.1" fill="#a82c2c"/>
<circle cx="404.8" cy="52.0" r="1.1" fill="#333333"/>
<circle cx="413.2" cy="75.1" r="1.1" fill="#a82c2c"/>
<circle cx="369.0" cy="120.4" r="1.1" fill="#a82c2c"/>
<circle cx="390.4" cy="65.2" r="1.1" fill="#333333"/>
<circle cx="380.3" cy="73.2" r="1.1" fill="#a82c2c"/>
<circle cx="405.3" cy="98.5" r="1.1" fill="#a82c2c"/>
<circle cx="368.2" cy="123.1" r="1.1" fill="#333333"/>
<circle cx="411.1" cy="80.7" r="1.1" fill="#333333"/>
<circle cx="440.5" cy="60.3" r="1.1" fill="#333333"/>
<circle cx="411.7" cy="57.7" r="1.1" fill="#333333"/>
<circle cx="342.7" cy="95.4" r="1.1" fill="#a82c2c"/>
<circle cx="414.7" cy="64.1" r="1.1" fill="#333333"/>
<circle cx="396.1" cy="74.8" r="1.1" fill="#333333"/>
<circle cx="405.4" cy="67.9" r="1.1" fill="#a82c2c"/>
<circle cx="417.4" cy="51.4" r="1.1" fill="#333333"/>
<circle cx="408.7" cy="63.4" r="1.1" fill="#a82c2c"/>
<circle cx="382.2" cy="66.3" r="1.1" fill="#333333"/>
<circle cx="413.3" cy="60.6" r="1.1" fill="#333333"/>
<circle cx="379.4" cy="85.5" r="1.1" fill="#a82c2c"/>
<circle cx="412.2" cy="57.0" r="1.1" fill="#a82c2c"/>
<circle cx="402.3" cy="57.6" r="1.1" fill="#333333"/>
<circle cx="383.0" cy="146.3" r="1.1" fill="#a82c2c"/>
<circle cx="364.5" cy="124.3" r="1.1" fill="#333333"/>
<circle cx="402.4" cy="69.6" r="1.1" fill="#a82c2c"/>
<circle cx="376.0" cy="91.7" r="1.1" fill="#333333"/>
<circle cx="458.1" cy="52.0" r="1.1" fill="#333333"/>
<circle cx="417.1" cy="70.6" r="1.1" fill="#a82c2c"/>
<circle cx="413.5" cy="79.3" r="1.1" fill="#333333"/>
<circle cx="417.9" cy="85.1" r="1.1" fill="#a82c2c"/>
<circle cx="377.1" cy="71.1" r="1.1" fill="#333333"/>
<circle cx="404.3" cy="50.6" r="1.1" fill="#333333"/>
<circle cx="407.9" cy="74.8" r="1.1" fill="#a82c2c"/>
<circle cx="419.3" cy="50.2" r="1.1" fill="#333333"/>
<circle cx="374.0" cy="87.4" r="1.1" fill="#333333"/>
<circle cx="371.7" cy="83.6" r="1.1" fill="#333333"/>
<circle cx="385.3" cy="70.4" r="1.1" fill="#a82c2c"/>
<circle cx="414.0" cy="60.6" r="1.1" fill="#333333"/>
<circle cx="397.4" cy="66.4" r="1.1" fill="#a82c2c"/>
<circle cx="391.6" cy="90.4" r="1.1" fill="#a82c2c"/>
<circle cx="351.4" cy="146.3" r="1.1" fill="#a82c2c"/>
<circle cx="432.9" cy="52.8" r="1.1" fill="#333333"/>
<circle cx="403.7" cy="70.7" r="1.1" fill="#333333"/>
<circle cx="431.3" cy="104.6" r="1.1" fill="#333333"/>
<circle cx="349.5" cy="146.3" r="1.1" fill="#333333"/>
<circle cx="383.4" cy="62.4" r="1.1" fill="#333333"/>
<circle cx="384.6" cy="72.4" r="1.1" fill="#a82c2c"/>
<circle cx="349.5" cy="146.3" r="1.1" fill="#a82c2c"/>
<circle cx="386.6" cy="58.7" r="1.1" fill="#333333"/>
<circle cx="402.2" cy="85.5" r="1.1" fill="#a82c2c"/>
<circle cx="400.5" cy="99.5" r="1.1" fill="#a82c2c"/>
<circle cx="403.8" cy="56.5" r="1.1" fill="#333333"/>
<circle cx="366.3" cy="67.9" r="1.1" fill="#333333"/>
<circle cx="411.6" cy="57.1" r="1.1" fill="#333333"/>
<circle cx="394.0" cy="107.6" r="1.1" fill="#a82c2c"/>
<circle cx="323.8" cy="99.1" r="1.1" fill="#333333"/>
<circle cx="345.5" cy="121.7" r="1.1" fill="#333333"/>
<circle cx="399.3" cy="75.2" r="1.1" fill="#a82c2c"/>
<circle cx="404.2" cy="72.2" r="1.1" fill="#333333"/>
<circle cx="394.7" cy="60.4" r="1.1" fill="#333333"/>
<circle cx="416.9" cy="91.4" r="1.1" fill="#333333"/>
<circle cx="391.1" cy="75.0" r="1.1" fill="#333333"/>
<circle cx="422.7" cy="99.6" r="1.1" fill="#a82c2c"/>
<circle cx="383.4" cy="80.5" r="1.1" fill="#333333"/>
<circle cx="385.5" cy="71.9" r="1.1" fill="#333333"/>
<circle cx="360.5" cy="87.9" r="1.1" fill="#a82c2c"/>
<circle cx="374.1" cy="95.8" r="1.1" fill="#333333"/>
<circle cx="351.6" cy="146.3" r="1.1" fill="#a82c2c"/>
<circle cx="416.8" cy="52.8" r="1.1" fill="#333333"/>
<circle cx="350.0" cy="124.1" r="1.1" fill="#333333"/>
<circle cx="403.2" cy="56.3" r="1.1" fill="#333333"/>
<circle cx="371.7" cy="80.1" r="1.1" fill="#a82c2c"/>
<circle cx="380.4" cy="119.8" r="1.1" fill="#a82c2c"/>
<circle cx="406.0" cy="53.3" r="1.1" fill="#333333"/>
<circle cx="381.1" cy="70.3" r="1.1" fill="#333333"/>
<circle cx="387.4" cy="86.1" r="1.1" fill="#a82c2c"/>
<circle cx="404.2" cy="61.5" r="1.1" fill="#333333"/>
<circle cx="372.7" cy="67.4" r="1.1" fill="#a82c2c"/>
<circle cx="406.7" cy="117.1" r="1.1" fill="#a82c2c"/>
<circle cx="403.4" cy="101.6" r="1.1" fill="#a82c2c"/>
<circle cx="453.6" cy="54.0" r="1.1" fill="#333333"/>
<circle cx="421.0" cy="68.8" r="1.1" fill="#a82c2c"/>
<circle cx="383.3" cy="96.7" r="1.1" fill="#a82c2c"/>
<circle cx="390.6" cy="73.0" r="1.1" fill="#a82c2c"/>
<circle cx="411.8" cy="68.8" r="1.1" fill="#333333"/>
<circle cx="402.9" cy="87.1" r="1.1" fill="#a82c2c"/>
<circle cx="349.4" cy="137.2" r="1.1" fill="#a82c2c"/>
<circle cx="393.2" cy="73.1" r="1.1" fill="#333333"/>
<circle cx="401.8" cy="54.8" r="1.1" fill="#333333"/>
<circle cx="400.2" cy="68.8" r="1.1" fill="#a82c2c"/>
<circle cx="378.5" cy="69.9" r="1.1" fill="#333333"/>
<circle cx="427.5" cy="64.9" r="1.1" fill="#333333"/>
<circle cx="348.1" cy="87.1" r="1.1" fill="#333333"/>
<circle cx="405.8" cy="128.0" r="1.1" fill="#333333"/>
<circle cx="412.6" cy="67.9" r="1.1" fill="#333333"/>
<circle cx="394.7" cy="85.6" r="1.1" fill="#a82c2c"/>
<circle cx="393.5" cy="53.5" r="1.1" fill="#333333"/>
<circle cx="391.6" cy="74.8" r="1.1" fill="#a82c2c"/>
<circle cx="466.3" cy="38.4" r="1.1" fill="#333333"/>
<circle cx="403.5" cy="78.9" r="1.1" fill="#333333"/>
<circle cx="362.8" cy="71.9" r="1.1" fill="#a82c2c"/>
<circle cx="372.8" cy="77.9" r="1.1" fill="#a82c2c"/>
<circle cx="421.3" cy="62.5" r="1.1" fill="#a82c2c"/>
<circle cx="386.2" cy="56.7" r="1.1" fill="#a82c2c"/>
<circle cx="394.3" cy="50.0" r="1.1" fill="#333333"/>
<circle cx="449.7" cy="49.8" r="1.1" fill="#333333"/>
<circle cx="407.3" cy="84.6" r="1.1" fill="#a82c2c"/>
<circle cx="386.4" cy="76.4" r="1.1" fill="#333333"/>
<circle cx="400.5" cy="75.9" r="1.1" fill="#333333"/>
<circle cx="392.0" cy="60.8" r="1.1" fill="#333333"/>
<circle cx="377.4" cy="88.6" r="1.1" fill="#333333"/>
<circle cx="398.0" cy="73.1" r="1.1" fill="#333333"/>
<circle cx="415.6" cy="62.2" r="1.1" fill="#333333"/>
<circle cx="389.7" cy="80.7" r="1.1" fill="#333333"/>
<circle cx="410.5" cy="59.1" r="1.1" fill="#333333"/>
<circle cx="460.0" cy="36.4" r="1.1" fill="#333333"/>
<circle cx="381.0" cy="86.3" r="1.1" fill="#333333"/>
<circle cx="383.7" cy="70.1" r="1.1" fill="#a82c2c"/>
<circle cx="365.5" cy="86.5" r="1.1" fill="#333333"/>
<circle cx="369.4" cy="86.0" r="1.1" fill="#333333"/>
<circle cx="448.8" cy="64.8" r="1.1" fill="#a82c2c"/>
<circle cx="397.2" cy="67.0" r="1.1" fill="#a82c2c"/>
<circle cx="396.5" cy="78.1" r="1.1" fill="#333333"/>
<circle cx="341.7" cy="114.6" r="1.1" fill="#333333"/>
<circle cx="354.1" cy="84.4" r="1.1" fill="#a82c2c"/>
<circle cx="430.4" cy="92.8" r="1.1" fill="#333333"/>
<circle cx="444.6" cy="60.2" r="1.1" fill="#a82c2c"/>
<circle cx="397.9" cy="74.4" r="1.1" fill="#a82c2c"/>
<circle cx="399.1" cy="70.4" r="1.1" fill="#a82c2c"/>
<circle cx="353.6" cy="133.8" r="1.1" fill="#a82c2c"/>
<circle cx="379.1" cy="134.3" r="1.1" fill="#a82c2c"/>
<circle cx="378.7" cy="77.2" r="1.1" fill="#a82c2c"/>
<circle cx="373.0" cy="90.3" r="1.1" fill="#a82c2c"/>
<circle cx="403.6" cy="57.6" r="1.1" fill="#333333"/>
<circle cx="387.0" cy="70.6" r="1.1" fill="#333333"/>
<circle cx="401.9" cy="70.4" r="1.1" fill="#a82c2c"/>
<circle cx="370.9" cy="77.5" r="1.1" fill="#333333"/>
<circle cx="407.9" cy="56.2" r="1.1" fill="#a82c2c"/>
<circle cx="385.6" cy="59.3" r="1.1" fill="#333333"/>
<circle cx="422.4" cy="112.8" r="1.1" fill="#a82c2c"/>
<circle cx="387.1" cy="54.4" r="1.1" fill="#a82c2c"/>
<circle cx="396.7" cy="81.9" r="1.1" fill="#333333"/>
<circle cx="334.0" cy="142.7" r="1.1" fill="#a82c2c"/>
<circle cx="392.0" cy="93.0" r="1.1" fill="#a82c2c"/>
<circle cx="416.5" cy="109.2" r="1.1" fill="#a82c2c"/>
<circle cx="415.0" cy="51.4" r="1.1" fill="#333333"/>
<circle cx="367.6" cy="105.5" r="1.1" fill="#333333"/>
<circle cx="406.2" cy="56.0" r="1.1" fill="#333333"/>
<circle cx="396.5" cy="66.7" r="1.1" fill="#a82c2c"/>
<circle cx="408.1" cy="52.0" r="1.1" fill="#a82c2c"/>
<circle cx="389.8" cy="98.0" r="1.1" fill="#333333"/>
<circle cx="394.3" cy="110.0" r="1.1" fill="#333333"/>
<circle cx="385.6" cy="65.6" r="1.1" fill="#333333"/>
<circle cx="375.6" cy="85.8" r="1.1" fill="#333333"/>
<circle cx="394.0" cy="80.1" r="1.1" fill="#a82c2c"/>
<circle cx="390.4" cy="80.9" r="1.1" fill="#a82c2c"/>
<circle cx="395.2" cy="77.0" r="1.1" fill="#333333"/>
<circle cx="416.0" cy="73.0" r="1.1" fill="#a82c2c"/>
<circle cx="411.3" cy="63.0" r="1.1" fill="#a82c2c"/>
<circle cx="395.6" cy="63.6" r="1.1" fill="#333333"/>
<circle cx="349.5" cy="121.2" r="1.1" fill="#a82c2c"/>
<circle cx="395.6" cy="68.3" r="1.1" fill="#a82c2c"/>
<circle cx="364.8" cy="105.3" r="1.1" fill="#333333"/>
<circle cx="411.2" cy="71.6" r="1.1" fill="#a82c2c"/>
<circle cx="395.0" cy="135.3" r="1.1" fill="#a82c2c"/>
<circle cx="403.7" cy="95.5" r="1.1" fill="#a82c2c"/>
<circle cx="434.0" cy="90.7" r="1.1" fill="#a82c2c"/>
<circle cx="408.3" cy="74.8" r="1.1" fill="#333333"/>
<circle cx="407.0" cy="50.5" r="1.1" fill="#333333"/>
<circle cx="407.0" cy="65.4" r="1.1" fill="#333333"/>
<circle cx="408.9" cy="56.8" r="1.1" fill="#333333"/>
<circle cx="380.6" cy="97.6" r="1.1" fill="#a82c2c"/>
<circle cx="351.1" cy="112.9" r="1.1" fill="#a82c2c"/>
<circle cx="404.4" cy="117.1" r="1.1" fill="#a82c2c"/>
<circle cx="379.0" cy="80.2" r="1.1" fill="#333333"/>
<circle cx="417.5" cy="57.9" r="1.1" fill="#a82c2c"/>
<circle cx="386.7" cy="96.0" r="1.1" fill="#a82c2c"/>
<circle cx="390.0" cy="65.5" r="1.1" fill="#333333"/>
<circle cx="389.4" cy="75.8" r="1.1" fill="#a82c2c"/>
<circle cx="398.0" cy="113.2" r="1.1" fill="#a82c2c"/>
<circle cx="421.0" cy="49.7" r="1.1" fill="#333333"/>
<circle cx="437.1" cy="43.1" r="1.1" fill="#333333"/>
<circle cx="355.1" cy="146.3" r="1.1" fill="#a82c2c"/>
<circle cx="403.5" cy="94.7" r="1.1" fill="#a82c2c"/>
<circle cx="383.7" cy="69.6" r="1.1" fill="#a82c2c"/>
<circle cx="443.6" cy="50.3" r="1.1" fill="#333333"/>
<circle cx="398.1" cy="59.1" r="1.1" fill="#a82c2c"/>
<circle cx="407.5" cy="107.2" r="1.1" fill="#a82c2c"/>
<circle cx="416.4" cy="61.9" r="1.1" fill="#a82c2c"/>
<circle cx="417.2" cy="44.8" r="1.1" fill="#333333"/>
<circle cx="419.6" cy="51.9" r="1.1" fill="#333333"/>
<circle cx="334.0" cy="146.3" r="1.1" fill="#a82c2c"/>
<circle cx="391.9" cy="84.4" r="1.1" fill="#333333"/>
<circle cx="385.5" cy="68.5" r="1.1" fill="#333333"/>
<circle cx="409.8" cy="61.9" r="1.1" fill="#333333"/>
<circle cx="420.3" cy="74.1" r="1.1" fill="#333333"/>
<circle cx="402.0" cy="65.7" r="1.1" fill="#a82c2c"/>
<circle cx="372.5" cy="74.2" r="1.1" fill="#a82c2c"/>
<circle cx="391.7" cy="60.6" r="1.1" fill="#a82c2c"/>
<circle cx="372.1" cy="94.9" r="1.1" fill="#a82c2c"/>
<circle cx="414.1" cy="60.1" r="1.1" fill="#333333"/>
<circle cx="415.2" cy="72.5" r="1.1" fill="#a82c2c"/>
<circle cx="349.3" cy="108.0" r="1.1" fill="#a82c2c"/>
<circle cx="386.9" cy="66.7" r="1.1" fill="#a82c2c"/>
<circle cx="389.8" cy="80.2" r="1.1" fill="#a82c2c"/>
<circle cx="356.6" cy="87.4" r="1.1" fill="#333333"/>
<circle cx="373.2" cy="65.5" r="1.1" fill="#333333"/>
<circle cx="389.7" cy="121.9" r="1.1" fill="#a82c2c"/>
<circle cx="422.5" cy="53.1" r="1.1" fill="#a82c2c"/>
<circle cx="362.0" cy="126.7" r="1.1" fill="#a82c2c"/>
<circle cx="380.9" cy="146.3" r="1.1" fill="#a82c2c"/>
<circle cx="407.0" cy="55.1" r="1.1" fill="#333333"/>
<circle cx="386.2" cy="87.8" r="1.1" fill="#333333"/>
<circle cx="375.8" cy="80.6" r="1.1" fill="#a82c2c"/>
<circle cx="382.6" cy="66.7" r="1.1" fill="#333333"/>
<circle cx="391.2" cy="82.6" r="1.1" fill="#333333"/>
<circle cx="422.7" cy="52.4" r="1.1" fill="#333333"/>
<circle cx="375.1" cy="66.2" r="1.1" fill="#333333"/>
<circle cx="401.4" cy="68.0" r="1.1" fill="#333333"/>
<circle cx="382.5" cy="85.0" r="1.1" fill="#a82c2c"/>
<circle cx="398.8" cy="58.3" r="1.1" fill="#333333"/>
<circle cx="399.2" cy="62.4" r="1.1" fill="#a82c2c"/>
<circle cx="431.1" cy="55.2" r="1.1" fill="#a82c2c"/>
<circle cx="387.8" cy="100.1" r="1.1" fill="#a82c2c"/>
<circle cx="404.5" cy="69.1" r="1.1" fill="#a82c2c"/>
<circle cx="463.4" cy="82.5" r="1.1" fill="#a82c2c"/>
<circle cx="406.3" cy="72.3" r="1.1" fill="#333333"/>
<circle cx="399.3" cy="93.3" r="1.1" fill="#a82c2c"/>
<circle cx="359.8" cy="85.4" r="1.1" fill="#333333"/>
<circle cx="394.0" cy="101.7" r="1.1" fill="#a82c2c"/>
<circle cx="410.1" cy="77.2" r="1.1" fill="#a82c2c"/>
<circle cx="348.9" cy="105.0" r="1.1" fill="#333333"/>
<circle cx="392.6" cy="92.5" r="1.1" fill="#333333"/>
<circle cx="410.4" cy="103.9" r="1.1" fill="#a82c2c"/>
<circle cx="376.7" cy="69.6" r="1.1" fill="#333333"/>
<circle cx="383.0" cy="119.7" r="1.1" fill="#a82c2c"/>
<circle cx="408.5" cy="81.8" r="1.1" fill="#333333"/>
<circle cx="385.4" cy="65.9" r="1.1" fill="#a82c2c"/>
<circle cx="397.6" cy="79.4" r="1.1" fill="#333333"/>
<circle cx="394.2" cy="48.6" r="1.1" fill="#333333"/>
<circle cx="378.4" cy="90.0" r="1.1" fill="#a82c2c"/>
<circle cx="395.3" cy="75.0" r="1.1" fill="#a82c2c"/>
<circle cx="417.9" cy="97.8" r="1.1" fill="#a82c2c"/>
<circle cx="419.8" cy="61.3" r="1.1" fill="#a82c2c"/>
<circle cx="414.7" cy="54.4" r="1.1" fill="#333333"/>
<circle cx="409.3" cy="56.5" r="1.1" fill="#a82c2c"/>
<circle cx="387.5" cy="61.4" r="1.1" fill="#a82c2c"/>
<circle cx="368.0" cy="70.0" r="1.1" fill="#a82c2c"/>
<circle cx="422.3" cy="77.0" r="1.1" fill="#333333"/>
<circle cx="426.9" cy="49.6" r="1.1" fill="#a82c2c"/>
<circle cx="382.2" cy="72.6" r="1.1" fill="#333333"/>
<circle cx="399.7" cy="62.1" r="1.1" fill="#333333"/>
<circle cx="396.7" cy="63.0" r="1.1" fill="#333333"/>
<circle cx="402.8" cy="54.9" r="1.1" fill="#333333"/>
<circle cx="429.4" cy="47.8" r="1.1" fill="#333333"/>
<circle cx="389.1" cy="132.9" r="1.1" fill="#a82c2c"/>
<circle cx="407.4" cy="63.4" r="1.1" fill="#333333"/>
<circle cx="369.9" cy="120.5" r="1.1" fill="#333333"/>
<circle cx="408.5" cy="64.8" r="1.1" fill="#a82c2c"/>
<circle cx="404.6" cy="79.6" r="1.1" fill="#a82c2c"/>
<circle cx="370.1" cy="119.8" r="1.1" fill="#a82c2c"/>
<circle cx="373.9" cy="102.3" r="1.1" fill="#a82c2c"/>
<circle cx="398.3" cy="83.3" r="1.1" fill="#333333"/>
<circle cx="406.7" cy="69.1" r="1.1" fill="#a82c2c"/>
<circle cx="398.7" cy="55.0" r="1.1" fill="#333333"/>
<circle cx="396.4" cy="56.2" r="1.1" fill="#333333"/>
<circle cx="399.7" cy="123.1" r="1.1" fill="#a82c2c"/>
<circle cx="401.6" cy="68.2" r="1.1" fill="#333333"/>
<circle cx="367.1" cy="111.2" r="1.1" fill="#333333"/>
<circle cx="362.8" cy="83.3" r="1.1" fill="#333333"/>
<circle cx="389.5" cy="110.2" r="1.1" fill="#a82c2c"/>
<circle cx="414.5" cy="79.3" r="1.1" fill="#a82c2c"/>
<circle cx="354.9" cy="86.7" r="1.1" fill="#333333"/>
<circle cx="403.3" cy="118.4" r="1.1" fill="#a82c2c"/>
<circle cx="414.7" cy="52.7" r="1.1" fill="#333333"/>
<circle cx="374.9" cy="122.5" r="1.1" fill="#333333"/>
<circle cx="371.8" cy="110.5" r="1.1" fill="#333333"/>
<circle cx="406.4" cy="71.3" r="1.1" fill="#a82c2c"/>
<circle cx="362.8" cy="77.1" r="1.1" fill="#333333"/>
<circle cx="384.0" cy="62.9" r="1.1" fill="#333333"/>
<circle cx="396.9" cy="56.3" r="1.1" fill="#333333"/>
<circle cx="379.3" cy="85.8" r="1.1" fill="#333333"/>
<circle cx="387.4" cy="122.9" r="1.1" fill="#a82c2c"/>
<circle cx="410.6" cy="56.5" r="1.1" fill="#333333"/>
<circle cx="386.3" cy="62.9" r="1.1" fill="#a82c2c"/>
<circle cx="398.6" cy="52.4" r="1.1" fill="#333333"/>
<circle cx="385.7" cy="67.5" r="1.1" fill="#333333"/>
<circle cx="393.2" cy="75.0" r="1.1" fill="#a82c2c"/>
<circle cx="416.3" cy="72.2" r="1.1" fill="#a82c2c"/>
<circle cx="397.0" cy="61.4" r="1.1" fill="#a82c2c"/>
<circle cx="429.1" cy="51.3" r="1.1" fill="#333333"/>
<circle cx="391.2" cy="67.1" r="1.1" fill="#333333"/>
<circle cx="373.6" cy="146.3" r="1.1" fill="#a82c2c"/>
<circle cx="411.1" cy="85.1" r="1.1" fill="#333333"/>
<circle cx="385.9" cy="74.5" r="1.1" fill="#333333"/>
<circle cx="417.0" cy="61.9" r="1.1" fill="#333333"/>
<circle cx="406.4" cy="74.8" r="1.1" fill="#333333"/>
<circle cx="402.5" cy="56.6" r="1.1" fill="#a82c2c"/>
<circle cx="367.6" cy="110.2" r="1.1" fill="#a82c2c"/>
<circle cx="410.9" cy="83.1" r="1.1" fill="#333333"/>
<circle cx="423.3" cy="58.0" r="1.1" fill="#333333"/>
<circle cx="410.4" cy="58.9" r="1.1" fill="#333333"/>
<circle cx="424.7" cy="60.4" r="1.1" fill="#a82c2c"/>
<circle cx="415.1" cy="76.0" r="1.1" fill="#a82c2c"/>
<circle cx="400.7" cy="75.1" r="1.1" fill="#a82c2c"/>
<circle cx="360.7" cy="116.6" r="1.1" fill="#a82c2c"/>
<circle cx="409.0" cy="72.6" r="1.1" fill="#333333"/>
<circle cx="334.0" cy="146.3" r="1.1" fill="#a82c2c"/>
<circle cx="397.2" cy="103.0" r="1.1" fill="#a82c2c"/>
<circle cx="382.7" cy="115.0" r="1.1" fill="#a82c2c"/>
<circle cx="371.4" cy="109.3" r="1.1" fill="#a82c2c"/>
<circle cx="399.7" cy="66.0" r="1.1" fill="#333333"/>
<circle cx="416.3" cy="52.3" r="1.1" fill="#333333"/>
<circle cx="374.4" cy="85.9" r="1.1" fill="#333333"/>
<circle cx="390.6" cy="116.3" r="1.1" fill="#a82c2c"/>
<circle cx="349.5" cy="129.0" r="1.1" fill="#a82c2c"/>
<circle cx="383.9" cy="94.0" r="1.1" fill="#a82c2c"/>
<circle cx="423.1" cy="75.9" r="1.1" fill="#a82c2c"/>
<circle cx="403.8" cy="72.2" r="1.1" fill="#a82c2c"/>
<circle cx="355.1" cy="127.2" r="1.1" fill="#a82c2c"/>
<circle cx="378.0" cy="74.2" r="1.1" fill="#a82c2c"/>
<circle cx="355.6" cy="76.3" r="1.1" fill="#333333"/>
<circle cx="374.7" cy="108.6" r="1.1" fill="#a82c2c"/>
<circle cx="411.3" cy="102.4" r="1.1" fill="#333333"/>
<circle cx="376.7" cy="79.7" r="1.1" fill="#333333"/>
<circle cx="397.7" cy="62.2" r="1.1" fill="#333333"/>
<circle cx="388.3" cy="89.1" r="1.1" fill="#a82c2c"/>
<circle cx="413.3" cy="60.5" r="1.1" fill="#a82c2c"/>
<circle cx="436.5" cy="101.8" r="1.1" fill="#a82c2c"/>
<circle cx="343.0" cy="116.9" r="1.1" fill="#333333"/>
<circle cx="393.8" cy="67.0" r="1.1" fill="#333333"/>
<circle cx="390.4" cy="79.0" r="1.1" fill="#a82c2c"/>
<circle cx="373.9" cy="85.2" r="1.1" fill="#a82c2c"/>
<circle cx="413.8" cy="78.9" r="1.1" fill="#a82c2c"/>
<circle cx="411.5" cy="96.4" r="1.1" fill="#333333"/>
<circle cx="382.9" cy="71.5" r="1.1" fill="#333333"/>
<circle cx="358.9" cy="95.8" r="1.1" fill="#a82c2c"/>
<circle cx="431.8" cy="47.1" r="1.1" fill="#333333"/>
<circle cx="411.2" cy="96.1" r="1.1" fill="#a82c2c"/>
<circle cx="384.2" cy="70.8" r="1.1" fill="#a82c2c"/>
<circle cx="369.7" cy="123.6" r="1.1" fill="#333333"/>
<circle cx="369.7" cy="132.0" r="1.1" fill="#a82c2c"/>
<circle cx="416.3" cy="50.6" r="1.1" fill="#333333"/>
<circle cx="389.8" cy="54.5" r="1.1" fill="#333333"/>
<circle cx="391.6" cy="86.9" r="1.1" fill="#a82c2c"/>
<circle cx="382.5" cy="63.1" r="1.1" fill="#333333"/>
<circle cx="400.5" cy="70.9" r="1.1" fill="#333333"/>
<circle cx="391.7" cy="110.3" r="1.1" fill="#a82c2c"/>
<circle cx="403.5" cy="52.1" r="1.1" fill="#333333"/>
<circle cx="368.4" cy="115.9" r="1.1" fill="#333333"/>
<circle cx="433.5" cy="71.1" r="1.1" fill="#a82c2c"/>
<circle cx="373.8" cy="91.0" r="1.1" fill="#333333"/>
<circle cx="427.0" cy="93.7" r="1.1" fill="#a82c2c"/>
<circle cx="422.4" cy="57.0" r="1.1" fill="#333333"/>
<circle cx="401.4" cy="70.2" r="1.1" fill="#333333"/>
<circle cx="428.5" cy="48.9" r="1.1" fill="#a82c2c"/>
<circle cx="373.0" cy="94.7" r="1.1" fill="#a82c2c"/>
<circle cx="406.7" cy="57.0" r="1.1" fill="#333333"/>
<circle cx="423.0" cy="70.2" r="1.1" fill="#a82c2c"/>
<circle cx="396.7" cy="55.5" r="1.1" fill="#333333"/>
<circle cx="370.9" cy="94.3" r="1.1" fill="#333333"/>
<circle cx="412.4" cy="66.1" r="1.1" fill="#a82c2c"/>
<circle cx="404.8" cy="111.1" r="1.1" fill="#a82c2c"/>
<circle cx="404.9" cy="67.0" r="1.1" fill="#a82c2c"/>
<circle cx="432.4" cy="68.0" r="1.1" fill="#333333"/>
<circle cx="359.0" cy="136.1" r="1.1" fill="#a82c2c"/>
<circle cx="392.1" cy="68.9" r="1.1" fill="#333333"/>
<circle cx="361.8" cy="109.3" r="1.1" fill="#333333"/>
<circle cx="407.6" cy="48.3" r="1.1" fill="#333333"/>
<circle cx="329.4" cy="92.7" r="1.1" fill="#a82c2c"/>
<circle cx="398.3" cy="71.2" r="1.1" fill="#a82c2c"/>
<circle cx="405.1" cy="97.9" r="1.1" fill="#a82c2c"/>
<circle cx="350.4" cy="116.4" r="1.1" fill="#a82c2c"/>
<circle cx="400.6" cy="71.4" r="1.1" fill="#333333"/>
<circle cx="380.3" cy="69.2" r="1.1" fill="#333333"/>
<circle cx="406.6" cy="72.5" r="1.1" fill="#333333"/>
<circle cx="372.0" cy="109.5" r="1.1" fill="#333333"/>
<circle cx="368.5" cy="100.5" r="1.1" fill="#a82c2c"/>
<circle cx="372.8" cy="88.8" r="1.1" fill="#a82c2c"/>
<circle cx="399.6" cy="60.1" r="1.1" fill="#a82c2c"/>
<circle cx="405.4" cy="116.1" r="1.1" fill="#a82c2c"/>
<circle cx="408.3" cy="57.6" r="1.1" fill="#333333"/>
<circle cx="370.2" cy="105.9" r="1.1" fill="#333333"/>
<circle cx="375.6" cy="82.6" r="1.1" fill="#a82c2c"/>
<circle cx="441.7" cy="130.7" r="1.1" fill="#a82c2c"/>
<circle cx="416.1" cy="63.7" r="1.1" fill="#333333"/>
<circle cx="413.0" cy="57.4" r="1.1" fill="#333333"/>
<circle cx="395.1" cy="60.9" r="1.1" fill="#333333"/>
<circle cx="402.1" cy="63.7" r="1.1" fill="#333333"/>
<circle cx="391.1" cy="66.7" r="1.1" fill="#333333"/>
<circle cx="396.8" cy="69.8" r="1.1" fill="#333333"/>
<circle cx="430.7" cy="98.8" r="1.1" fill="#a82c2c"/>
<circle cx="410.5" cy="55.7" r="1.1" fill="#333333"/>
<circle cx="376.9" cy="74.5" r="1.1" fill="#a82c2c"/>
<circle cx="394.8" cy="95.4" r="1.1" fill="#a82c2c"/>
<circle cx="406.5" cy="57.5" r="1.1" fill="#a82c2c"/>
<circle cx="415.2" cy="105.9" r="1.1" fill="#a82c2c"/>
<circle cx="391.6" cy="75.9" r="1.1" fill="#333333"/>
<circle cx="438.0" cy="45.3" r="1.1" fill="#333333"/>
<circle cx="400.1" cy="55.3" r="1.1" fill="#333333"/>
<circle cx="458.6" cy="53.4" r="1.1" fill="#333333"/>
<circle cx="395.8" cy="53.2" r="1.1" fill="#333333"/>
<circle cx="381.9" cy="105.2" r="1.1" fill="#a82c2c"/>
<circle cx="412.6" cy="95.8" r="1.1" fill="#333333"/>
<circle cx="429.4" cy="65.4" r="1.1" fill="#a82c2c"/>
<circle cx="403.2" cy="53.9" r="1.1" fill="#333333"/>
<circle cx="347.8" cy="113.4" r="1.1" fill="#333333"/>
<circle cx="404.8" cy="91.8" r="1.1" fill="#333333"/>
<circle cx="415.2" cy="96.9" r="1.1" fill="#333333"/>
<circle cx="373.9" cy="73.7" r="1.1" fill="#333333"/>
<circle cx="380.2" cy="78.1" r="1.1" fill="#a82c2c"/>
<circle cx="379.2" cy="70.1" r="1.1" fill="#a82c2c"/>
<circle cx="427.0" cy="110.8" r="1.1" fill="#a82c2c"/>
<circle cx="390.8" cy="64.1" r="1.1" fill="#333333"/>
<circle cx="393.7" cy="73.1" r="1.1" fill="#a82c2c"/>
<circle cx="425.6" cy="63.2" r="1.1" fill="#a82c2c"/>
<circle cx="386.8" cy="81.4" r="1.1" fill="#a82c2c"/>
<circle cx="386.3" cy="66.3" r="1.1" fill="#a82c2c"/>
<circle cx="360.1" cy="76.5" r="1.1" fill="#333333"/>
<circle cx="387.3" cy="60.6" r="1.1" fill="#a82c2c"/>
<circle cx="321.6" cy="129.3" r="1.1" fill="#a82c2c"/>
<circle cx="392.9" cy="97.5" r="1.1" fill="#333333"/>
<circle cx="382.4" cy="82.9" r="1.1" fill="#333333"/>
<circle cx="409.0" cy="50.5" r="1.1" fill="#333333"/>
<circle cx="432.8" cy="49.0" r="1.1" fill="#a82c2c"/>
<circle cx="408.1" cy="98.2" r="1.1" fill="#a82c2c"/>
<circle cx="353.8" cy="111.9" r="1.1" fill="#333333"/>
<circle cx="355.7" cy="99.0" r="1.1" fill="#a82c2c"/>
<circle cx="365.1" cy="130.3" r="1.1" fill="#a82c2c"/>
<circle cx="388.2" cy="61.1" r="1.1" fill="#333333"/>
<circle cx="372.4" cy="89.6" r="1.1" fill="#333333"/>
<circle cx="373.5" cy="77.2" r="1.1" fill="#a82c2c"/>
<circle cx="367.4" cy="66.7" r="1.1" fill="#333333"/>
<circle cx="390.8" cy="80.5" r="1.1" fill="#a82c2c"/>
<circle cx="408.5" cy="93.7" r="1.1" fill="#a82c2c"/>
<circle cx="390.6" cy="89.7" r="1.1" fill="#a82c2c"/>
<circle cx="391.0" cy="65.5" r="1.1" fill="#a82c2c"/>
<circle cx="399.5" cy="78.3" r="1.1" fill="#a82c2c"/>
<circle cx="378.1" cy="82.0" r="1.1" fill="#333333"/>
<circle cx="382.5" cy="72.6" r="1.1" fill="#333333"/>
<circle cx="423.6" cy="117.3" r="1.1" fill="#a82c2c"/>
<circle cx="402.5" cy="78.3" r="1.1" fill="#a82c2c"/>
<circle cx="374.4" cy="113.5" r="1.1" fill="#333333"/>
<circle cx="402.2" cy="82.0" r="1.1" fill="#a82c2c"/>
<circle cx="486.9" cy="43.0" r="1.1" fill="#333333"/>
<circle cx="401.8" cy="62.6" r="1.1" fill="#a82c2c"/>
<circle cx="382.1" cy="73.6" r="1.1" fill="#333333"/>
<circle cx="382.2" cy="89.2" r="1.1" fill="#333333"/>
<circle cx="418.3" cy="48.5" r="1.1" fill="#333333"/>
<circle cx="397.2" cy="72.4" r="1.1" fill="#a82c2c"/>
<circle cx="409.8" cy="74.0" r="1.1" fill="#333333"/>
<circle cx="396.4" cy="86.8" r="1.1" fill="#a82c2c"/>
<circle cx="396.2" cy="60.8" r="1.1" fill="#333333"/>
<circle cx="383.6" cy="68.9" r="1.1" fill="#333333"/>
<circle cx="395.3" cy="73.6" r="1.1" fill="#333333"/>
<circle cx="391.6" cy="58.0" r="1.1" fill="#333333"/>
<circle cx="363.1" cy="82.2" r="1.1" fill="#333333"/>
<circle cx="401.5" cy="62.3" r="1.1" fill="#333333"/>
<circle cx="374.6" cy="63.8" r="1.1" fill="#333333"/>
<circle cx="386.9" cy="69.3" r="1.1" fill="#a82c2c"/>
<circle cx="399.6" cy="64.6" r="1.1" fill="#333333"/>
<circle cx="377.4" cy="94.6" r="1.1" fill="#a82c2c"/>
<circle cx="420.1" cy="60.6" r="1.1" fill="#333333"/>
<circle cx="395.1" cy="91.4" r="1.1" fill="#333333"/>
<circle cx="394.2" cy="63.9" r="1.1" fill="#333333"/>
<circle cx="446.6" cy="66.1" r="1.1" fill="#333333"/>
<circle cx="397.2" cy="65.7" r="1.1" fill="#a82c2c"/>
<circle cx="412.2" cy="57.8" r="1.1" fill="#a82c2c"/>
<circle cx="409.2" cy="97.3" r="1.1" fill="#333333"/>
<circle cx="399.2" cy="131.4" r="1.1" fill="#a82c2c"/>
<circle cx="383.3" cy="96.4" r="1.1" fill="#a82c2c"/>
<circle cx="377.2" cy="129.1" r="1.1" fill="#a82c2c"/>
<circle cx="393.6" cy="68.6" r="1.1" fill="#333333"/>
<circle cx="362.6" cy="86.5" r="1.1" fill="#333333"/>
<circle cx="391.7" cy="112.7" r="1.1" fill="#a82c2c"/>
<circle cx="370.5" cy="92.2" r="1.1" fill="#a82c2c"/>
<circle cx="389.1" cy="78.5" r="1.1" fill="#a82c2c"/>
<circle cx="399.9" cy="73.3" r="1.1" fill="#a82c2c"/>
<circle cx="318.9" cy="129.6" r="1.1" fill="#a82c2c"/>
<circle cx="387.3" cy="99.0" r="1.1" fill="#a82c2c"/>
<circle cx="424.3" cy="57.6" r="1.1" fill="#333333"/>
<circle cx="376.6" cy="67.9" r="1.1" fill="#333333"/>
<circle cx="375.1" cy="64.7" r="1.1" fill="#333333"/>
<circle cx="405.6" cy="74.6" r="1.1" fill="#a82c2c"/>
<circle cx="374.8" cy="76.6" r="1.1" fill="#a82c2c"/>
<circle cx="400.4" cy="142.5" r="1.1" fill="#a82c2c"/>
<circle cx="397.3" cy="71.1" r="1.1" fill="#a82c2c"/>
<circle cx="406.6" cy="77.7" r="1.1" fill="#a82c2c"/>
<circle cx="398.2" cy="77.6" r="1.1" fill="#a82c2c"/>
<circle cx="396.5" cy="72.4" r="1.1" fill="#a82c2c"/>
<circle cx="334.0" cy="109.5" r="1.1" fill="#a82c2c"/>
<circle cx="380.9" cy="86.1" r="1.1" fill="#a82c2c"/>
<circle cx="434.6" cy="102.5" r="1.1" fill="#a82c2c"/>
<circle cx="428.1" cy="46.2" r="1.1" fill="#333333"/>
<circle cx="390.8" cy="101.7" r="1.1" fill="#a82c2c"/>
<circle cx="365.2" cy="92.0" r="1.1" fill="#a82c2c"/>
<circle cx="392.7" cy="92.4" r="1.1" fill="#a82c2c"/>
<circle cx="410.9" cy="55.4" r="1.1" fill="#a82c2c"/>
<circle cx="406.4" cy="58.8" r="1.1" fill="#a82c2c"/>
<circle cx="394.9" cy="52.9" r="1.1" fill="#a82c2c"/>
<circle cx="417.1" cy="53.1" r="1.1" fill="#333333"/>
<circle cx="409.2" cy="70.6" r="1.1" fill="#a82c2c"/>
<circle cx="417.2" cy="64.2" r="1.1" fill="#333333"/>
<circle cx="408.9" cy="65.3" r="1.1" fill="#333333"/>
<circle cx="393.8" cy="56.6" r="1.1" fill="#333333"/>
<circle cx="413.5" cy="60.8" r="1.1" fill="#333333"/>
<circle cx="359.0" cy="86.4" r="1.1" fill="#333333"/>
<circle cx="409.0" cy="90.3" r="1.1" fill="#a82c2c"/>
<circle cx="373.9" cy="81.7" r="1.1" fill="#a82c2c"/>
<circle cx="399.0" cy="62.9" r="1.1" fill="#333333"/>
<circle cx="374.7" cy="75.5" r="1.1" fill="#a82c2c"/>
<circle cx="416.0" cy="67.9" r="1.1" fill="#333333"/>
<circle cx="449.4" cy="40.8" r="1.1" fill="#333333"/>
<circle cx="413.3" cy="59.3" r="1.1" fill="#333333"/>
<circle cx="378.7" cy="112.7" r="1.1" fill="#a82c2c"/>
<circle cx="363.7" cy="78.5" r="1.1" fill="#a82c2c"/>
<circle cx="374.3" cy="82.4" r="1.1" fill="#333333"/>
<circle cx="390.9" cy="106.1" r="1.1" fill="#a82c2c"/>
<circle cx="380.7" cy="79.2" r="1.1" fill="#a82c2c"/>
<circle cx="457.5" cy="42.7" r="1.1" fill="#333333"/>
<circle cx="389.1" cy="71.4" r="1.1" fill="#333333"/>
<circle cx="387.7" cy="65.7" r="1.1" fill="#333333"/>
<circle cx="351.3" cy="135.2" r="1.1" fill="#a82c2c"/>
<circle cx="426.7" cy="83.9" r="1.1" fill="#a82c2c"/>
<circle cx="419.6" cy="63.4" r="1.1" fill="#333333"/>
<circle cx="399.4" cy="54.7" r="1.1" fill="#333333"/>
<circle cx="349.5" cy="146.3" r="1.1" fill="#a82c2c"/>
<circle cx="381.0" cy="89.9" r="1.1" fill="#a82c2c"/>
<circle cx="362.4" cy="87.7" r="1.1" fill="#333333"/>
<circle cx="435.3" cy="74.3" r="1.1" fill="#a82c2c"/>
<circle cx="399.6" cy="85.7" r="1.1" fill="#a82c2c"/>
<circle cx="380.9" cy="146.3" r="1.1" fill="#a82c2c"/>
<circle cx="411.4" cy="55.6" r="1.1" fill="#a82c2c"/>
<circle cx="370.8" cy="77.4" r="1.1" fill="#333333"/>
<circle cx="424.6" cy="54.3" r="1.1" fill="#a82c2c"/>
<circle cx="427.0" cy="50.3" r="1.1" fill="#333333"/>
<circle cx="413.1" cy="52.3" r="1.1" fill="#333333"/>
<circle cx="395.7" cy="69.2" r="1.1" fill="#333333"/>
<circle cx="381.7" cy="72.2" r="1.1" fill="#333333"/>
<circle cx="402.9" cy="73.5" r="1.1" fill="#333333"/>
<circle cx="369.3" cy="66.3" r="1.1" fill="#333333"/>
<circle cx="391.7" cy="66.8" r="1.1" fill="#333333"/>
<circle cx="404.7" cy="56.0" r="1.1" fill="#333333"/>
<circle cx="319.2" cy="141.4" r="1.1" fill="#a82c2c"/>
<circle cx="342.7" cy="137.8" r="1.1" fill="#a82c2c"/>
<circle cx="413.9" cy="61.7" r="1.1" fill="#a82c2c"/>
<circle cx="397.7" cy="82.8" r="1.1" fill="#a82c2c"/>
<circle cx="375.9" cy="74.8" r="1.1" fill="#333333"/>
<circle cx="355.1" cy="146.3" r="1.1" fill="#333333"/>
<circle cx="430.8" cy="54.3" r="1.1" fill="#a82c2c"/>
<circle cx="434.5" cy="74.5" r="1.1" fill="#333333"/>
<circle cx="422.5" cy="70.9" r="1.1" fill="#333333"/>
<circle cx="423.5" cy="61.6" r="1.1" fill="#a82c2c"/>
<circle cx="407.5" cy="75.9" r="1.1" fill="#a82c2c"/>
<circle cx="363.4" cy="116.2" r="1.1" fill="#333333"/>
<circle cx="373.0" cy="108.2" r="1.1" fill="#a82c2c"/>
<circle cx="384.3" cy="63.0" r="1.1" fill="#333333"/>
<circle cx="428.2" cy="93.5" r="1.1" fill="#333333"/>
<circle cx="444.5" cy="36.1" r="1.1" fill="#333333"/>
<circle cx="441.2" cy="71.6" r="1.1" fill="#a82c2c"/>
<circle cx="415.5" cy="72.7" r="1.1" fill="#a82c2c"/>
<circle cx="392.6" cy="85.7" r="1.1" fill="#a82c2c"/>
<circle cx="450.6" cy="91.5" r="1.1" fill="#a82c2c"/>
<circle cx="378.1" cy="61.8" r="1.1" fill="#333333"/>
<circle cx="380.4" cy="82.5" r="1.1" fill="#a82c2c"/>
<circle cx="355.1" cy="124.3" r="1.1" fill="#a82c2c"/>
<circle cx="434.7" cy="51.3" r="1.1" fill="#333333"/>
<circle cx="414.7" cy="94.7" r="1.1" fill="#a82c2c"/>
<circle cx="406.3" cy="51.0" r="1.1" fill="#a82c2c"/>
<circle cx="362.7" cy="89.5" r="1.1" fill="#333333"/>
<circle cx="383.9" cy="76.4" r="1.1" fill="#333333"/>
<circle cx="419.7" cy="57.4" r="1.1" fill="#333333"/>
<circle cx="389.7" cy="60.2" r="1.1" fill="#333333"/>
<circle cx="377.4" cy="82.6" r="1.1" fill="#333333"/>
<circle cx="352.5" cy="104.9" r="1.1" fill="#333333"/>
<circle cx="382.9" cy="76.5" r="1.1" fill="#333333"/>
<circle cx="398.2" cy="67.7" r="1.1" fill="#a82c2c"/>
<circle cx="344.9" cy="123.9" r="1.1" fill="#333333"/>
<circle cx="425.9" cy="53.1" r="1.1" fill="#333333"/>
<circle cx="415.3" cy="76.1" r="1.1" fill="#333333"/>
<circle cx="413.1" cy="51.6" r="1.1" fill="#333333"/>
<circle cx="372.2" cy="66.9" r="1.1" fill="#a82c2c"/>
<circle cx="394.1" cy="61.0" r="1.1" fill="#333333"/>
<circle cx="387.8" cy="62.2" r="1.1" fill="#333333"/>
<circle cx="401.6" cy="65.1" r="1.1" fill="#333333"/>
<circle cx="425.6" cy="84.2" r="1.1" fill="#a82c2c"/>
<circle cx="409.3" cy="54.7" r="1.1" fill="#333333"/>
<circle cx="419.1" cy="55.3" r="1.1" fill="#333333"/>
<circle cx="401.5" cy="68.0" r="1.1" fill="#333333"/>
<circle cx="354.6" cy="98.0" r="1.1" fill="#333333"/>
<circle cx="410.7" cy="71.8" r="1.1" fill="#a82c2c"/>
<circle cx="379.6" cy="90.9" r="1.1" fill="#a82c2c"/>
<circle cx="398.6" cy="78.1" r="1.1" fill="#a82c2c"/>
<circle cx="369.5" cy="82.6" r="1.1" fill="#333333"/>
<circle cx="361.9" cy="100.6" r="1.1" fill="#333333"/>
<circle cx="331.5" cy="100.6" r="1.1" fill="#333333"/>
<circle cx="443.2" cy="47.9" r="1.1" fill="#333333"/>
<circle cx="429.7" cy="41.2" r="1.1" fill="#333333"/>
<circle cx="434.7" cy="53.6" r="1.1" fill="#333333"/>
<circle cx="383.6" cy="87.1" r="1.1" fill="#a82c2c"/>
<circle cx="430.3" cy="87.1" r="1.1" fill="#a82c2c"/>
<circle cx="348.6" cy="118.3" r="1.1" fill="#333333"/>
<circle cx="391.8" cy="81.3" r="1.1" fill="#a82c2c"/>
<circle cx="390.2" cy="74.3" r="1.1" fill="#a82c2c"/>
<circle cx="369.1" cy="97.1" r="1.1" fill="#333333"/>
<circle cx="382.5" cy="70.6" r="1.1" fill="#333333"/>
<circle cx="393.6" cy="89.1" r="1.1" fill="#a82c2c"/>
<circle cx="334.0" cy="137.1" r="1.1" fill="#a82c2c"/>
<circle cx="371.8" cy="88.6" r="1.1" fill="#333333"/>
<circle cx="353.7" cy="98.8" r="1.1" fill="#333333"/>
<circle cx="402.4" cy="72.0" r="1.1" fill="#a82c2c"/>
<circle cx="412.3" cy="86.9" r="1.1" fill="#a82c2c"/>
<circle cx="443.7" cy="52.4" r="1.1" fill="#333333"/>
<circle cx="363.2" cy="88.6" r="1.1" fill="#333333"/>
<circle cx="361.4" cy="119.2" r="1.1" fill="#333333"/>
<circle cx="334.0" cy="122.9" r="1.1" fill="#a82c2c"/>
<circle cx="421.0" cy="53.3" r="1.1" fill="#333333"/>
<circle cx="389.5" cy="93.2" r="1.1" fill="#a82c2c"/>
<circle cx="448.1" cy="87.3" r="1.1" fill="#a82c2c"/>
<circle cx="399.1" cy="77.5" r="1.1" fill="#333333"/>
<circle cx="376.5" cy="141.6" r="1.1" fill="#a82c2c"/>
<circle cx="392.6" cy="69.6" r="1.1" fill="#333333"/>
<circle cx="369.5" cy="73.0" r="1.1" fill="#333333"/>
<circle cx="355.1" cy="107.0" r="1.1" fill="#a82c2c"/>
<circle cx="379.1" cy="73.3" r="1.1" fill="#a82c2c"/>
<circle cx="383.6" cy="96.7" r="1.1" fill="#a82c2c"/>
<circle cx="356.6" cy="104.6" r="1.1" fill="#333333"/>
<circle cx="381.2" cy="75.9" r="1.1" fill="#333333"/>
<circle cx="388.7" cy="102.4" r="1.1" fill="#a82c2c"/>
<circle cx="416.7" cy="64.6" r="1.1" fill="#333333"/>
<circle cx="424.7" cy="51.3" r="1.1" fill="#a82c2c"/>
<circle cx="383.5" cy="62.2" r="1.1" fill="#a82c2c"/>
<circle cx="395.7" cy="70.2" r="1.1" fill="#a82c2c"/>
<circle cx="433.6" cy="56.9" r="1.1" fill="#a82c2c"/>
<circle cx="400.6" cy="56.3" r="1.1" fill="#333333"/>
<circle cx="392.6" cy="87.0" r="1.1" fill="#a82c2c"/>
<circle cx="383.5" cy="84.6" r="1.1" fill="#333333"/>
<circle cx="380.1" cy="74.4" r="1.1" fill="#a82c2c"/>
<circle cx="403.6" cy="56.3" r="1.1" fill="#333333"/>
<circle cx="331.1" cy="118.8" r="1.1" fill="#a82c2c"/>
<circle cx="409.6" cy="55.8" r="1.1" fill="#333333"/>
<circle cx="364.3" cy="91.9" r="1.1" fill="#a82c2c"/>
<circle cx="400.4" cy="75.1" r="1.1" fill="#333333"/>
<circle cx="424.2" cy="57.0" r="1.1" fill="#333333"/>
<circle cx="375.3" cy="85.4" r="1.1" fill="#a82c2c"/>
<circle cx="410.0" cy="57.6" r="1.1" fill="#333333"/>
<circle cx="408.4" cy="68.7" r="1.1" fill="#a82c2c"/>
<circle cx="403.1" cy="82.2" r="1.1" fill="#a82c2c"/>
<circle cx="375.0" cy="57.7" r="1.1" fill="#a82c2c"/>
<circle cx="389.3" cy="80.8" r="1.1" fill="#a82c2c"/>
<circle cx="403.5" cy="78.3" r="1.1" fill="#333333"/>
<circle cx="422.4" cy="66.8" r="1.1" fill="#333333"/>
<circle cx="393.3" cy="81.5" r="1.1" fill="#a82c2c"/>
<circle cx="399.3" cy="63.0" r="1.1" fill="#a82c2c"/>
<circle cx="408.9" cy="73.6" r="1.1" fill="#333333"/>
<circle cx="403.8" cy="60.8" r="1.1" fill="#a82c2c"/>
<circle cx="310.9" cy="127.2" r="1.1" fill="#a82c2c"/>
<circle cx="419.6" cy="51.4" r="1.1" fill="#333333"/>
<circle cx="399.8" cy="59.6" r="1.1" fill="#333333"/>
<circle cx="369.0" cy="87.3" r="1.1" fill="#333333"/>
<circle cx="389.5" cy="138.8" r="1.1" fill="#a82c2c"/>
<circle cx="390.2" cy="77.6" r="1.1" fill="#a82c2c"/>
<circle cx="409.0" cy="63.3" r="1.1" fill="#333333"/>
<circle cx="434.9" cy="65.7" r="1.1" fill="#a82c2c"/>
<circle cx="391.6" cy="119.4" r="1.1" fill="#a82c2c"/>
<circle cx="399.3" cy="61.0" r="1.1" fill="#333333"/>
<circle cx="377.6" cy="74.5" r="1.1" fill="#333333"/>
<circle cx="385.5" cy="72.8" r="1.1" fill="#a82c2c"/>
<circle cx="363.1" cy="99.4" r="1.1" fill="#a82c2c"/>
<circle cx="389.5" cy="117.8" r="1.1" fill="#a82c2c"/>
<circle cx="369.7" cy="123.6" r="1.1" fill="#a82c2c"/>
<circle cx="451.7" cy="69.9" r="1.1" fill="#333333"/>
<circle cx="390.1" cy="68.8" r="1.1" fill="#333333"/>
<circle cx="395.4" cy="77.2" r="1.1" fill="#333333"/>
<circle cx="386.1" cy="73.3" r="1.1" fill="#333333"/>
<circle cx="402.3" cy="58.0" r="1.1" fill="#333333"/>
<circle cx="401.7" cy="102.8" r="1.1" fill="#a82c2c"/>
<circle cx="417.8" cy="55.9" r="1.1" fill="#333333"/>
<circle cx="409.4" cy="49.3" r="1.1" fill="#333333"/>
<circle cx="425.8" cy="77.9" r="1.1" fill="#a82c2c"/>
<circle cx="402.3" cy="62.0" r="1.1" fill="#333333"/>
<circle cx="402.1" cy="83.9" r="1.1" fill="#a82c2c"/>
<circle cx="414.0" cy="79.5" r="1.1" fill="#333333"/>
<circle cx="351.1" cy="102.5" r="1.1" fill="#a82c2c"/>
<circle cx="383.5" cy="85.5" r="1.1" fill="#333333"/>
<circle cx="413.7" cy="67.6" r="1.1" fill="#a82c2c"/>
<circle cx="434.0" cy="43.0" r="1.1" fill="#333333"/>
<circle cx="411.7" cy="70.1" r="1.1" fill="#a82c2c"/>
<circle cx="362.8" cy="82.6" r="1.1" fill="#a82c2c"/>
<circle cx="381.7" cy="81.6" r="1.1" fill="#a82c2c"/>
<circle cx="395.3" cy="70.9" r="1.1" fill="#333333"/>
<circle cx="397.2" cy="57.1" r="1.1" fill="#333333"/>
<circle cx="372.5" cy="91.5" r="1.1" fill="#a82c2c"/>
<circle cx="374.3" cy="85.6" r="1.1" fill="#333333"/>
<circle cx="426.5" cy="60.3" r="1.1" fill="#a82c2c"/>
<circle cx="382.8" cy="109.0" r="1.1" fill="#a82c2c"/>
<circle cx="406.0" cy="81.3" r="1.1" fill="#a82c2c"/>
<circle cx="413.0" cy="72.5" r="1.1" fill="#a82c2c"/>
<circle cx="382.8" cy="73.3" r="1.1" fill="#333333"/>
<circle cx="375.6" cy="80.6" r="1.1" fill="#333333"/>
<circle cx="383.6" cy="66.4" r="1.1" fill="#333333"/>
<circle cx="380.1" cy="84.3" r="1.1" fill="#333333"/>
<circle cx="380.0" cy="79.9" r="1.1" fill="#a82c2c"/>
<circle cx="387.4" cy="98.9" r="1.1" fill="#a82c2c"/>
<circle cx="371.6" cy="97.7" r="1.1" fill="#333333"/>
<circle cx="395.2" cy="77.1" r="1.1" fill="#333333"/>
<circle cx="448.0" cy="67.4" r="1.1" fill="#333333"/>
<circle cx="417.1" cy="63.5" r="1.1" fill="#a82c2c"/>
<circle cx="424.1" cy="76.8" r="1.1" fill="#333333"/>
<circle cx="402.4" cy="57.6" r="1.1" fill="#a82c2c"/>
<circle cx="421.3" cy="56.1" r="1.1" fill="#333333"/>
<circle cx="388.8" cy="82.3" r="1.1" fill="#333333"/>
<circle cx="416.6" cy="60.1" r="1.1" fill="#a82c2c"/>
<circle cx="348.5" cy="113.6" r="1.1" fill="#333333"/>
<circle cx="398.2" cy="59.4" r="1.1" fill="#333333"/>
<circle cx="421.6" cy="67.4" r="1.1" fill="#a82c2c"/>
<circle cx="410.4" cy="98.8" r="1.1" fill="#a82c2c"/>
<circle cx="399.4" cy="67.7" r="1.1" fill="#333333"/>
<circle cx="364.8" cy="78.3" r="1.1" fill="#a82c2c"/>
<circle cx="383.7" cy="87.0" r="1.1" fill="#a82c2c"/>
<circle cx="334.0" cy="146.3" r="1.1" fill="#a82c2c"/>
<circle cx="392.6" cy="69.3" r="1.1" fill="#333333"/>
<circle cx="358.7" cy="121.3" r="1.1" fill="#a82c2c"/>
<circle cx="390.7" cy="64.2" r="1.1" fill="#333333"/>
<circle cx="404.9" cy="82.5" r="1.1" fill="#a82c2c"/>
<circle cx="401.9" cy="74.2" r="1.1" fill="#333333"/>
<circle cx="355.1" cy="146.3" r="1.1" fill="#333333"/>
<circle cx="415.8" cy="55.5" r="1.1" fill="#a82c2c"/>
<circle cx="367.5" cy="82.9" r="1.1" fill="#333333"/>
<circle cx="379.2" cy="99.7" r="1.1" fill="#a82c2c"/>
<circle cx="378.6" cy="64.0" r="1.1" fill="#333333"/>
<circle cx="383.4" cy="83.0" r="1.1" fill="#a82c2c"/>
<circle cx="386.6" cy="87.1" r="1.1" fill="#a82c2c"/>
<circle cx="397.1" cy="81.2" r="1.1" fill="#a82c2c"/>
<circle cx="429.1" cy="62.2" r="1.1" fill="#333333"/>
<circle cx="364.6" cy="95.3" r="1.1" fill="#333333"/>
<circle cx="388.5" cy="64.1" r="1.1" fill="#333333"/>
<circle cx="404.3" cy="70.2" r="1.1" fill="#333333"/>
<circle cx="417.2" cy="82.0" r="1.1" fill="#a82c2c"/>
<circle cx="395.3" cy="60.1" r="1.1" fill="#a82c2c"/>
<circle cx="333.7" cy="110.6" r="1.1" fill="#a82c2c"/>
<circle cx="371.6" cy="108.7" r="1.1" fill="#333333"/>
<circle cx="403.6" cy="72.5" r="1.1" fill="#a82c2c"/>
<circle cx="374.3" cy="69.3" r="1.1" fill="#333333"/>
<circle cx="405.4" cy="67.4" r="1.1" fill="#a82c2c"/>
<circle cx="436.4" cy="45.1" r="1.1" fill="#333333"/>
<circle cx="397.3" cy="82.4" r="1.1" fill="#333333"/>
<circle cx="412.8" cy="60.2" r="1.1" fill="#a82c2c"/>
<circle cx="371.7" cy="84.3" r="1.1" fill="#333333"/>
<circle cx="381.6" cy="106.2" r="1.1" fill="#333333"/>
<circle cx="438.6" cy="57.5" r="1.1" fill="#333333"/>
<circle cx="396.1" cy="59.1" r="1.1" fill="#333333"/>
<circle cx="376.2" cy="96.7" r="1.1" fill="#333333"/>
<circle cx="382.8" cy="65.4" r="1.1" fill="#333333"/>
<circle cx="398.1" cy="101.1" r="1.1" fill="#333333"/>
<circle cx="418.7" cy="71.6" r="1.1" fill="#333333"/>
<circle cx="397.0" cy="73.9" r="1.1" fill="#333333"/>
<circle cx="396.5" cy="107.4" r="1.1" fill="#a82c2c"/>
<circle cx="397.4" cy="51.1" r="1.1" fill="#333333"/>
<circle cx="369.6" cy="88.9" r="1.1" fill="#a82c2c"/>
<circle cx="338.4" cy="84.8" r="1.1" fill="#a82c2c"/>
<circle cx="349.5" cy="146.3" r="1.1" fill="#333333"/>
<circle cx="386.5" cy="104.8" r="1.1" fill="#333333"/>
<circle cx="403.3" cy="112.2" r="1.1" fill="#a82c2c"/>
<circle cx="380.9" cy="146.3" r="1.1" fill="#a82c2c"/>
<circle cx="399.9" cy="75.2" r="1.1" fill="#a82c2c"/>
<circle cx="414.0" cy="77.0" r="1.1" fill="#a82c2c"/>
<circle cx="387.9" cy="70.3" r="1.1" fill="#a82c2c"/>
<circle cx="385.3" cy="58.9" r="1.1" fill="#a82c2c"/>
<circle cx="408.6" cy="76.2" r="1.1" fill="#a82c2c"/>
<circle cx="366.2" cy="88.1" r="1.1" fill="#a82c2c"/>
<circle cx="418.2" cy="54.7" r="1.1" fill="#333333"/>
<circle cx="379.9" cy="77.6" r="1.1" fill="#333333"/>
<circle cx="418.1" cy="55.1" r="1.1" fill="#a82c2c"/>
<circle cx="376.4" cy="79.1" r="1.1" fill="#333333"/>
<circle cx="401.9" cy="52.0" r="1.1" fill="#333333"/>
<circle cx="376.8" cy="100.9" r="1.1" fill="#333333"/>
<circle cx="359.8" cy="134.8" r="1.1" fill="#a82c2c"/>
<circle cx="365.4" cy="71.1" r="1.1" fill="#a82c2c"/>
<circle cx="396.9" cy="114.7" r="1.1" fill="#333333"/>
<circle cx="341.3" cy="111.0" r="1.1" fill="#a82c2c"/>
<circle cx="356.3" cy="120.2" r="1.1" fill="#333333"/>
<circle cx="350.5" cy="100.1" r="1.1" fill="#a82c2c"/>
<circle cx="359.8" cy="146.3" r="1.1" fill="#333333"/>
<circle cx="411.1" cy="62.4" r="1.1" fill="#333333"/>
<circle cx="401.8" cy="82.2" r="1.1" fill="#a82c2c"/>
<circle cx="380.5" cy="139.1" r="1.1" fill="#333333"/>
<circle cx="423.1" cy="48.0" r="1.1" fill="#333333"/>
<circle cx="399.7" cy="97.3" r="1.1" fill="#a82c2c"/>
<circle cx="355.1" cy="146.3" r="1.1" fill="#a82c2c"/>
<circle cx="414.0" cy="80.1" r="1.1" fill="#a82c2c"/>
<circle cx="396.3" cy="74.6" r="1.1" fill="#a82c2c"/>
<circle cx="391.2" cy="60.0" r="1.1" fill="#333333"/>
<circle cx="433.3" cy="62.1" r="1.1" fill="#a82c2c"/>
<circle cx="397.9" cy="68.8" r="1.1" fill="#a82c2c"/>
<circle cx="355.6" cy="104.3" r="1.1" fill="#a82c2c"/>
<circle cx="425.6" cy="59.4" r="1.1" fill="#333333"/>
<circle cx="380.7" cy="75.4" r="1.1" fill="#a82c2c"/>
<circle cx="403.5" cy="69.4" r="1.1" fill="#333333"/>
<circle cx="360.6" cy="72.3" r="1.1" fill="#333333"/>
<circle cx="335.3" cy="88.3" r="1.1" fill="#333333"/>
<circle cx="376.5" cy="142.3" r="1.1" fill="#a82c2c"/>
<circle cx="376.4" cy="74.2" r="1.1" fill="#333333"/>
<circle cx="420.7" cy="56.0" r="1.1" fill="#333333"/>
<circle cx="405.7" cy="53.5" r="1.1" fill="#333333"/>
<circle cx="392.9" cy="64.9" r="1.1" fill="#333333"/>
<circle cx="321.6" cy="112.1" r="1.1" fill="#a82c2c"/>
<circle cx="395.6" cy="68.0" r="1.1" fill="#333333"/>
<circle cx="366.8" cy="127.2" r="1.1" fill="#333333"/>
<circle cx="407.5" cy="100.4" r="1.1" fill="#a82c2c"/>
<circle cx="381.3" cy="89.6" r="1.1" fill="#a82c2c"/>
<circle cx="386.0" cy="88.4" r="1.1" fill="#a82c2c"/>
<circle cx="404.3" cy="100.3" r="1.1" fill="#a82c2c"/>
<circle cx="378.9" cy="64.6" r="1.1" fill="#a82c2c"/>
<circle cx="349.5" cy="146.3" r="1.1" fill="#a82c2c"/>
<circle cx="448.4" cy="46.5" r="1.1" fill="#a82c2c"/>
<circle cx="349.5" cy="111.2" r="1.1" fill="#a82c2c"/>
<circle cx="394.7" cy="89.3" r="1.1" fill="#a82c2c"/>
<circle cx="396.3" cy="70.7" r="1.1" fill="#a82c2c"/>
<circle cx="389.7" cy="80.8" r="1.1" fill="#333333"/>
<circle cx="408.5" cy="70.3" r="1.1" fill="#333333"/>
<circle cx="377.3" cy="75.2" r="1.1" fill="#333333"/>
<circle cx="392.3" cy="58.3" r="1.1" fill="#333333"/>
<circle cx="349.5" cy="146.3" r="1.1" fill="#a82c2c"/>
<circle cx="427.9" cy="107.7" r="1.1" fill="#a82c2c"/>
<circle cx="379.6" cy="142.4" r="1.1" fill="#a82c2c"/>
<circle cx="336.1" cy="106.5" r="1.1" fill="#333333"/>
<circle cx="407.0" cy="62.3" r="1.1" fill="#333333"/>
<circle cx="369.8" cy="78.5" r="1.1" fill="#333333"/>
<circle cx="420.3" cy="78.5" r="1.1" fill="#333333"/>
<circle cx="383.2" cy="73.3" r="1.1" fill="#333333"/>
<circle cx="415.2" cy="53.3" r="1.1" fill="#333333"/>
<circle cx="409.2" cy="51.1" r="1.1" fill="#a82c2c"/>
<circle cx="369.8" cy="77.2" r="1.1" fill="#333333"/>
<circle cx="405.5" cy="60.9" r="1.1" fill="#333333"/>
<circle cx="349.5" cy="146.3" r="1.1" fill="#333333"/>
<circle cx="408.3" cy="115.3" r="1.1" fill="#a82c2c"/>
<circle cx="390.1" cy="64.7" r="1.1" fill="#333333"/>
<circle cx="390.9" cy="74.9" r="1.1" fill="#333333"/>
<circle cx="380.1" cy="57.4" r="1.1" fill="#a82c2c"/>
<circle cx="420.8" cy="96.4" r="1.1" fill="#a82c2c"/>
<circle cx="357.2" cy="145.0" r="1.1" fill="#a82c2c"/>
<circle cx="387.1" cy="79.8" r="1.1" fill="#a82c2c"/>
<circle cx="347.6" cy="102.1" r="1.1" fill="#333333"/>
<circle cx="380.7" cy="80.0" r="1.1" fill="#a82c2c"/>
<circle cx="357.0" cy="116.9" r="1.1" fill="#333333"/>
<circle cx="403.9" cy="93.8" r="1.1" fill="#a82c2c"/>
<circle cx="388.4" cy="72.7" r="1.1" fill="#333333"/>
<circle cx="463.0" cy="42.3" r="1.1" fill="#333333"/>
<circle cx="413.5" cy="71.9" r="1.1" fill="#a82c2c"/>
<circle cx="389.1" cy="62.1" r="1.1" fill="#333333"/>
<circle cx="347.9" cy="118.5" r="1.1" fill="#333333"/>
<circle cx="441.7" cy="51.8" r="1.1" fill="#333333"/>
<circle cx="395.0" cy="71.6" r="1.1" fill="#333333"/>
<circle cx="395.3" cy="81.2" r="1.1" fill="#333333"/>
<circle cx="386.2" cy="66.8" r="1.1" fill="#333333"/>
<circle cx="383.6" cy="79.9" r="1.1" fill="#333333"/>
<circle cx="422.3" cy="82.0" r="1.1" fill="#a82c2c"/>
<circle cx="406.0" cy="70.2" r="1.1" fill="#a82c2c"/>
<circle cx="400.0" cy="80.2" r="1.1" fill="#333333"/>
<circle cx="368.5" cy="74.5" r="1.1" fill="#333333"/>
<circle cx="369.5" cy="71.5" r="1.1" fill="#a82c2c"/>
<circle cx="386.3" cy="72.8" r="1.1" fill="#333333"/>
<circle cx="436.6" cy="53.9" r="1.1" fill="#a82c2c"/>
<circle cx="379.2" cy="69.7" r="1.1" fill="#333333"/>
<circle cx="382.2" cy="71.2" r="1.1" fill="#a82c2c"/>
<circle cx="384.4" cy="58.5" r="1.1" fill="#333333"/>
<circle cx="416.1" cy="99.5" r="1.1" fill="#a82c2c"/>
<circle cx="384.9" cy="72.4" r="1.1" fill="#333333"/>
<circle cx="416.4" cy="84.0" r="1.1" fill="#333333"/>
<circle cx="407.2" cy="101.1" r="1.1" fill="#a82c2c"/>
<circle cx="352.1" cy="104.3" r="1.1" fill="#a82c2c"/>
<circle cx="381.0" cy="74.6" r="1.1" fill="#333333"/>
<circle cx="413.5" cy="70.5" r="1.1" fill="#333333"/>
<circle cx="376.2" cy="146.3" r="1.1" fill="#a82c2c"/>
<circle cx="392.8" cy="110.6" r="1.1" fill="#a82c2c"/>
<circle cx="382.1" cy="78.4" r="1.1" fill="#333333"/>
<circle cx="366.9" cy="119.7" r="1.1" fill="#333333"/>
<circle cx="389.8" cy="87.9" r="1.1" fill="#a82c2c"/>
<circle cx="382.7" cy="67.0" r="1.1" fill="#333333"/>
<circle cx="358.7" cy="101.3" r="1.1" fill="#a82c2c"/>
<circle cx="369.6" cy="99.1" r="1.1" fill="#333333"/>
<circle cx="372.9" cy="87.4" r="1.1" fill="#a82c2c"/>
<circle cx="411.3" cy="69.1" r="1.1" fill="#333333"/>
<circle cx="417.8" cy="102.8" r="1.1" fill="#a82c2c"/>
<circle cx="400.6" cy="73.1" r="1.1" fill="#333333"/>
<circle cx="409.5" cy="65.2" r="1.1" fill="#a82c2c"/>
<circle cx="414.4" cy="86.1" r="1.1" fill="#a82c2c"/>
<circle cx="382.7" cy="66.7" r="1.1" fill="#a82c2c"/>
<circle cx="406.1" cy="71.4" r="1.1" fill="#a82c2c"/>
<circle cx="400.4" cy="84.8" r="1.1" fill="#a82c2c"/>
<circle cx="409.8" cy="77.5" r="1.1" fill="#a82c2c"/>
<circle cx="427.8" cy="106.0" r="1.1" fill="#a82c2c"/>
<circle cx="424.2" cy="48.4" r="1.1" fill="#a82c2c"/>
<circle cx="358.2" cy="105.8" r="1.1" fill="#a82c2c"/>
<circle cx="391.4" cy="100.7" r="1.1" fill="#a82c2c"/>
<circle cx="405.7" cy="103.8" r="1.1" fill="#a82c2c"/>
<circle cx="382.8" cy="97.1" r="1.1" fill="#a82c2c"/>
<circle cx="402.5" cy="127.7" r="1.1" fill="#a82c2c"/>
<circle cx="379.2" cy="65.5" r="1.1" fill="#333333"/>
<circle cx="406.6" cy="90.2" r="1.1" fill="#a82c2c"/>
<circle cx="428.8" cy="51.7" r="1.1" fill="#333333"/>
<circle cx="391.3" cy="79.3" r="1.1" fill="#a82c2c"/>
<circle cx="412.8" cy="60.5" r="1.1" fill="#a82c2c"/>
<circle cx="415.7" cy="73.2" r="1.1" fill="#a82c2c"/>
<circle cx="395.9" cy="63.5" r="1.1" fill="#333333"/>
<circle cx="381.3" cy="68.6" r="1.1" fill="#a82c2c"/>
<circle cx="415.1" cy="70.4" r="1.1" fill="#a82c2c"/>
<circle cx="363.2" cy="94.3" r="1.1" fill="#a82c2c"/>
<circle cx="377.3" cy="132.1" r="1.1" fill="#a82c2c"/>
<circle cx="408.5" cy="64.2" r="1.1" fill="#333333"/>
<circle cx="346.9" cy="95.9" r="1.1" fill="#333333"/>
<circle cx="356.6" cy="105.5" r="1.1" fill="#a82c2c"/>
<circle cx="380.8" cy="89.4" r="1.1" fill="#a82c2c"/>
<circle cx="388.8" cy="69.3" r="1.1" fill="#333333"/>
<circle cx="351.7" cy="122.6" r="1.1" fill="#333333"/>
<circle cx="340.4" cy="122.7" r="1.1" fill="#a82c2c"/>
<circle cx="394.2" cy="59.3" r="1.1" fill="#333333"/>
<circle cx="378.6" cy="62.8" r="1.1" fill="#333333"/>
<circle cx="410.1" cy="71.7" r="1.1" fill="#333333"/>
<circle cx="391.1" cy="138.2" r="1.1" fill="#a82c2c"/>
<circle cx="389.8" cy="63.3" r="1.1" fill="#a82c2c"/>
<circle cx="368.8" cy="110.2" r="1.1" fill="#a82c2c"/>
<circle cx="327.3" cy="125.9" r="1.1" fill="#a82c2c"/>
<circle cx="405.0" cy="102.7" r="1.1" fill="#a82c2c"/>
<circle cx="415.9" cy="66.8" r="1.1" fill="#333333"/>
<circle cx="409.1" cy="65.2" r="1.1" fill="#333333"/>
<circle cx="381.0" cy="109.7" r="1.1" fill="#333333"/>
<circle cx="390.1" cy="68.4" r="1.1" fill="#a82c2c"/>
<circle cx="401.3" cy="71.3" r="1.1" fill="#333333"/>
<circle cx="357.7" cy="76.1" r="1.1" fill="#333333"/>
<circle cx="418.9" cy="87.0" r="1.1" fill="#a82c2c"/>
<circle cx="388.8" cy="64.6" r="1.1" fill="#333333"/>
<circle cx="415.0" cy="57.5" r="1.1" fill="#333333"/>
<circle cx="373.0" cy="69.6" r="1.1" fill="#333333"/>
<circle cx="390.4" cy="58.5" r="1.1" fill="#333333"/>
<circle cx="417.7" cy="64.2" r="1.1" fill="#a82c2c"/>
<circle cx="352.4" cy="113.2" r="1.1" fill="#333333"/>
<circle cx="386.9" cy="68.1" r="1.1" fill="#333333"/>
<circle cx="408.4" cy="47.7" r="1.1" fill="#333333"/>
<circle cx="378.0" cy="118.1" r="1.1" fill="#a82c2c"/>
<circle cx="343.6" cy="86.4" r="1.1" fill="#a82c2c"/>
<circle cx="406.0" cy="64.6" r="1.1" fill="#333333"/>
<circle cx="397.5" cy="78.3" r="1.1" fill="#a82c2c"/>
<circle cx="395.9" cy="57.9" r="1.1" fill="#333333"/>
<circle cx="376.7" cy="81.2" r="1.1" fill="#a82c2c"/>
<circle cx="434.4" cy="74.9" r="1.1" fill="#333333"/>
<circle cx="387.4" cy="103.7" r="1.1" fill="#a82c2c"/>
<circle cx="363.8" cy="90.6" r="1.1" fill="#a82c2c"/>
<circle cx="394.4" cy="71.4" r="1.1" fill="#333333"/>
<circle cx="359.5" cy="79.6" r="1.1" fill="#a82c2c"/>
<circle cx="405.1" cy="95.7" r="1.1" fill="#333333"/>
<circle cx="384.5" cy="73.0" r="1.1" fill="#333333"/>
<circle cx="386.4" cy="72.5" r="1.1" fill="#a82c2c"/>
<circle cx="403.0" cy="84.2" r="1.1" fill="#a82c2c"/>
<circle cx="400.3" cy="71.1" r="1.1" fill="#333333"/>
<circle cx="369.5" cy="86.2" r="1.1" fill="#a82c2c"/>
<circle cx="389.2" cy="59.2" r="1.1" fill="#333333"/>
<circle cx="405.6" cy="57.9" r="1.1" fill="#333333"/>
<circle cx="412.1" cy="81.4" r="1.1" fill="#a82c2c"/>
<circle cx="388.8" cy="61.3" r="1.1" fill="#a82c2c"/>
<circle cx="436.5" cy="43.1" r="1.1" fill="#333333"/>
<circle cx="415.9" cy="63.0" r="1.1" fill="#333333"/>
<circle cx="349.5" cy="146.3" r="1.1" fill="#a82c2c"/>
<circle cx="395.0" cy="86.8" r="1.1" fill="#333333"/>
<circle cx="402.7" cy="73.3" r="1.1" fill="#a82c2c"/>
<circle cx="374.2" cy="73.4" r="1.1" fill="#333333"/>
<circle cx="391.6" cy="74.5" r="1.1" fill="#333333"/>
<circle cx="410.2" cy="80.1" r="1.1" fill="#a82c2c"/>
<circle cx="409.5" cy="48.0" r="1.1" fill="#333333"/>
<circle cx="385.7" cy="88.9" r="1.1" fill="#a82c2c"/>
<circle cx="430.8" cy="70.4" r="1.1" fill="#333333"/>
<circle cx="386.0" cy="83.8" r="1.1" fill="#a82c2c"/>
<circle cx="378.8" cy="120.6" r="1.1" fill="#333333"/>
<circle cx="394.3" cy="55.1" r="1.1" fill="#333333"/>
<circle cx="398.4" cy="61.9" r="1.1" fill="#333333"/>
<circle cx="375.9" cy="76.5" r="1.1" fill="#333333"/>
<circle cx="413.3" cy="61.2" r="1.1" fill="#333333"/>
<circle cx="416.4" cy="64.7" r="1.1" fill="#a82c2c"/>
<circle cx="415.5" cy="50.3" r="1.1" fill="#333333"/>
<circle cx="319.9" cy="109.5" r="1.1" fill="#333333"/>
<circle cx="382.4" cy="72.1" r="1.1" fill="#333333"/>
<circle cx="390.7" cy="85.1" r="1.1" fill="#a82c2c"/>
<circle cx="396.0" cy="64.7" r="1.1" fill="#333333"/>
<circle cx="352.0" cy="95.2" r="1.1" fill="#a82c2c"/>
<circle cx="386.5" cy="89.2" r="1.1" fill="#333333"/>
<circle cx="391.8" cy="80.9" r="1.1" fill="#333333"/>
<circle cx="389.5" cy="88.2" r="1.1" fill="#333333"/>
<circle cx="372.8" cy="97.9" r="1.1" fill="#a82c2c"/>
<circle cx="409.4" cy="47.1" r="1.1" fill="#333333"/>
<circle cx="388.5" cy="84.8" r="1.1" fill="#a82c2c"/>
<circle cx="422.8" cy="75.1" r="1.1" fill="#a82c2c"/>
<circle cx="409.9" cy="71.5" r="1.1" fill="#a82c2c"/>
<circle cx="376.1" cy="77.2" r="1.1" fill="#a82c2c"/>
<circle cx="380.9" cy="132.9" r="1.1" fill="#a82c2c"/>
<circle cx="334.0" cy="113.0" r="1.1" fill="#a82c2c"/>
<circle cx="391.4" cy="94.9" r="1.1" fill="#a82c2c"/>
<circle cx="366.2" cy="128.4" r="1.1" fill="#a82c2c"/>
<circle cx="409.2" cy="70.1" r="1.1" fill="#333333"/>
<circle cx="410.6" cy="113.2" r="1.1" fill="#a82c2c"/>
<circle cx="366.2" cy="85.1" r="1.1" fill="#a82c2c"/>
<circle cx="379.5" cy="93.9" r="1.1" fill="#a82c2c"/>
<circle cx="403.4" cy="76.5" r="1.1" fill="#a82c2c"/>
<circle cx="345.1" cy="123.8" r="1.1" fill="#a82c2c"/>
<circle cx="454.3" cy="87.1" r="1.1" fill="#a82c2c"/>
<circle cx="379.4" cy="69.4" r="1.1" fill="#333333"/>
<circle cx="407.4" cy="50.6" r="1.1" fill="#333333"/>
<circle cx="397.0" cy="65.4" r="1.1" fill="#333333"/>
<circle cx="382.3" cy="68.9" r="1.1" fill="#333333"/>
<circle cx="394.9" cy="68.4" r="1.1" fill="#333333"/>
<circle cx="399.1" cy="80.8" r="1.1" fill="#a82c2c"/>
<circle cx="398.3" cy="74.2" r="1.1" fill="#a82c2c"/>
<circle cx="407.7" cy="74.9" r="1.1" fill="#333333"/>
<circle cx="382.2" cy="57.4" r="1.1" fill="#a82c2c"/>
<circle cx="366.8" cy="93.2" r="1.1" fill="#a82c2c"/>
<circle cx="411.5" cy="70.0" r="1.1" fill="#a82c2c"/>
<circle cx="402.3" cy="51.5" r="1.1" fill="#a82c2c"/>
<circle cx="458.4" cy="63.4" r="1.1" fill="#333333"/>
<circle cx="406.6" cy="77.2" r="1.1" fill="#a82c2c"/>
<circle cx="401.0" cy="64.9" r="1.1" fill="#333333"/>
<circle cx="414.6" cy="60.5" r="1.1" fill="#a82c2c"/>
<circle cx="429.8" cy="99.5" r="1.1" fill="#a82c2c"/>
<circle cx="395.1" cy="61.0" r="1.1" fill="#333333"/>
<circle cx="438.0" cy="44.6" r="1.1" fill="#333333"/>
<circle cx="403.1" cy="90.4" r="1.1" fill="#a82c2c"/>
<circle cx="415.6" cy="66.1" r="1.1" fill="#a82c2c"/>
<circle cx="424.6" cy="47.8" r="1.1" fill="#333333"/>
<circle cx="391.2" cy="66.7" r="1.1" fill="#a82c2c"/>
<circle cx="392.9" cy="98.2" r="1.1" fill="#a82c2c"/>
<circle cx="427.1" cy="62.6" r="1.1" fill="#a82c2c"/>
<circle cx="385.2" cy="69.6" r="1.1" fill="#a82c2c"/>
<circle cx="349.5" cy="116.8" r="1.1" fill="#a82c2c"/>
<circle cx="397.1" cy="69.2" r="1.1" fill="#333333"/>
<circle cx="378.4" cy="68.9" r="1.1" fill="#333333"/>
<circle cx="387.8" cy="61.6" r="1.1" fill="#333333"/>
<circle cx="385.4" cy="67.4" r="1.1" fill="#333333"/>
<circle cx="408.0" cy="57.5" r="1.1" fill="#333333"/>
<circle cx="453.3" cy="41.7" r="1.1" fill="#333333"/>
<circle cx="403.3" cy="69.9" r="1.1" fill="#a82c2c"/>
<circle cx="363.9" cy="112.5" r="1.1" fill="#333333"/>
<circle cx="384.8" cy="70.8" r="1.1" fill="#333333"/>
<circle cx="379.7" cy="76.5" r="1.1" fill="#a82c2c"/>
<circle cx="385.5" cy="69.2" r="1.1" fill="#a82c2c"/>
<circle cx="410.5" cy="60.1" r="1.1" fill="#a82c2c"/>
<circle cx="405.5" cy="73.6" r="1.1" fill="#a82c2c"/>
<circle cx="348.1" cy="94.2" r="1.1" fill="#333333"/>
<circle cx="437.0" cy="48.6" r="1.1" fill="#a82c2c"/>
<circle cx="435.3" cy="66.9" r="1.1" fill="#a82c2c"/>
<circle cx="345.6" cy="77.3" r="1.1" fill="#a82c2c"/>
<circle cx="413.4" cy="52.2" r="1.1" fill="#333333"/>
<circle cx="387.0" cy="118.3" r="1.1" fill="#a82c2c"/>
<circle cx="400.2" cy="71.2" r="1.1" fill="#333333"/>
<circle cx="399.7" cy="70.9" r="1.1" fill="#a82c2c"/>
</g>
<line x1="314.6" y1="110.2" x2="474.2" y2="43.3" stroke="#111" stroke-width="2.1"/>
<line x1="303.0" y1="120.6" x2="487.7" y2="53.0" stroke="#c6432f" stroke-width="1.8"/>
<path d="M295.9 11.2 V169.0 H515.4" fill="none" stroke="#6c6c6c" stroke-width="1.2"/>
<line x1="291.9" y1="18.3" x2="295.9" y2="18.3" stroke="#6c6c6c" stroke-width="1"/>
<text x="290.4" y="21.3" class="tk" text-anchor="end">1000</text>
<line x1="291.9" y1="47.6" x2="295.9" y2="47.6" stroke="#6c6c6c" stroke-width="1"/>
<text x="290.4" y="50.6" class="tk" text-anchor="end">100</text>
<line x1="291.9" y1="76.8" x2="295.9" y2="76.8" stroke="#6c6c6c" stroke-width="1"/>
<text x="290.4" y="79.8" class="tk" text-anchor="end">10</text>
<line x1="291.9" y1="106.1" x2="295.9" y2="106.1" stroke="#6c6c6c" stroke-width="1"/>
<text x="290.4" y="109.1" class="tk" text-anchor="end">1.0</text>
<line x1="291.9" y1="135.3" x2="295.9" y2="135.3" stroke="#6c6c6c" stroke-width="1"/>
<text x="290.4" y="139.1" class="tk" text-anchor="end">0.1</text>
<line x1="291.9" y1="164.6" x2="295.9" y2="164.6" stroke="#6c6c6c" stroke-width="1"/>
<text x="290.4" y="168.4" class="tk" text-anchor="end">0.01</text>
<line x1="300.5" y1="169.0" x2="300.5" y2="172.5" stroke="#6c6c6c" stroke-width="1"/>
<text x="300.5" y="183.8" class="tk" text-anchor="middle">1.0</text>
<line x1="370.7" y1="169.0" x2="370.7" y2="172.5" stroke="#6c6c6c" stroke-width="1"/>
<text x="370.7" y="183.8" class="tk" text-anchor="middle">10</text>
<line x1="440.8" y1="169.0" x2="440.8" y2="172.5" stroke="#6c6c6c" stroke-width="1"/>
<text x="440.8" y="183.8" class="tk" text-anchor="middle">100</text>
<line x1="511.0" y1="169.0" x2="511.0" y2="172.5" stroke="#6c6c6c" stroke-width="1"/>
<text x="511.0" y="183.8" class="tk" text-anchor="middle">1000</text>
<text x="405.7" y="195.8" class="at" text-anchor="middle">Ferritin µg/L</text>
<text transform="translate(271.5,95.0) rotate(-90)" class="at" text-anchor="middle">Hepcidin ng/ml</text>
<text x="301.6" y="19.1" class="lt">B</text>
<text x="404.7" y="9.6" class="tt" text-anchor="middle">The Gambia</text>
<line x1="391.1" y1="153.0" x2="409.2" y2="153.0" stroke="#111" stroke-width="1.35"/>
<line x1="391.1" y1="162.8" x2="409.2" y2="162.8" stroke="#c6432f" stroke-width="1.35"/>
<text x="413.1" y="156.2" class="lg">Start</text>
<text x="413.1" y="166.3" class="lg">End</text>
<text x="434.2" y="156.2" class="lg"><tspan font-style="italic">r</tspan> = 0.58; p&lt;0.00005</text>
<text x="434.2" y="166.3" class="lg"><tspan font-style="italic">r</tspan> = 0.49; p&lt;0.00005</text>
<g stroke="none">
<circle cx="118.8" cy="260.4" r="1.1" fill="#333333"/>
<circle cx="92.6" cy="265.8" r="1.1" fill="#333333"/>
<circle cx="145.5" cy="331.1" r="1.1" fill="#a82c2c"/>
<circle cx="87.7" cy="251.1" r="1.1" fill="#333333"/>
<circle cx="84.5" cy="261.0" r="1.1" fill="#333333"/>
<circle cx="156.7" cy="341.3" r="1.1" fill="#a82c2c"/>
<circle cx="146.9" cy="341.3" r="1.1" fill="#a82c2c"/>
<circle cx="113.0" cy="313.4" r="1.1" fill="#a82c2c"/>
<circle cx="91.0" cy="271.6" r="1.1" fill="#a82c2c"/>
<circle cx="70.3" cy="271.9" r="1.1" fill="#333333"/>
<circle cx="113.6" cy="333.5" r="1.1" fill="#a82c2c"/>
<circle cx="133.6" cy="250.6" r="1.1" fill="#333333"/>
<circle cx="149.3" cy="341.3" r="1.1" fill="#a82c2c"/>
<circle cx="138.4" cy="341.3" r="1.1" fill="#a82c2c"/>
<circle cx="120.9" cy="312.5" r="1.1" fill="#333333"/>
<circle cx="107.7" cy="311.5" r="1.1" fill="#a82c2c"/>
<circle cx="104.5" cy="283.8" r="1.1" fill="#a82c2c"/>
<circle cx="85.8" cy="238.9" r="1.1" fill="#333333"/>
<circle cx="167.8" cy="341.3" r="1.1" fill="#a82c2c"/>
<circle cx="122.8" cy="264.1" r="1.1" fill="#333333"/>
<circle cx="108.5" cy="307.7" r="1.1" fill="#333333"/>
<circle cx="101.2" cy="271.5" r="1.1" fill="#333333"/>
<circle cx="110.8" cy="308.5" r="1.1" fill="#a82c2c"/>
<circle cx="105.9" cy="324.9" r="1.1" fill="#a82c2c"/>
<circle cx="109.3" cy="341.3" r="1.1" fill="#a82c2c"/>
<circle cx="146.7" cy="317.6" r="1.1" fill="#a82c2c"/>
<circle cx="92.3" cy="276.9" r="1.1" fill="#333333"/>
<circle cx="119.4" cy="341.3" r="1.1" fill="#a82c2c"/>
<circle cx="81.1" cy="287.8" r="1.1" fill="#a82c2c"/>
<circle cx="144.5" cy="341.3" r="1.1" fill="#a82c2c"/>
<circle cx="94.6" cy="281.9" r="1.1" fill="#333333"/>
<circle cx="97.6" cy="247.8" r="1.1" fill="#a82c2c"/>
<circle cx="80.5" cy="279.6" r="1.1" fill="#333333"/>
<circle cx="158.1" cy="341.3" r="1.1" fill="#a82c2c"/>
<circle cx="121.9" cy="311.8" r="1.1" fill="#a82c2c"/>
<circle cx="145.9" cy="341.3" r="1.1" fill="#a82c2c"/>
<circle cx="131.2" cy="324.6" r="1.1" fill="#a82c2c"/>
<circle cx="73.8" cy="266.4" r="1.1" fill="#a82c2c"/>
<circle cx="133.1" cy="272.7" r="1.1" fill="#333333"/>
<circle cx="136.7" cy="289.2" r="1.1" fill="#a82c2c"/>
<circle cx="90.3" cy="291.9" r="1.1" fill="#a82c2c"/>
<circle cx="136.0" cy="309.6" r="1.1" fill="#a82c2c"/>
<circle cx="124.0" cy="279.5" r="1.1" fill="#333333"/>
<circle cx="89.2" cy="269.5" r="1.1" fill="#333333"/>
<circle cx="128.5" cy="305.5" r="1.1" fill="#a82c2c"/>
<circle cx="118.6" cy="341.3" r="1.1" fill="#a82c2c"/>
<circle cx="116.4" cy="308.3" r="1.1" fill="#a82c2c"/>
<circle cx="99.9" cy="279.9" r="1.1" fill="#333333"/>
<circle cx="108.2" cy="279.5" r="1.1" fill="#333333"/>
<circle cx="142.7" cy="290.4" r="1.1" fill="#333333"/>
<circle cx="121.0" cy="275.6" r="1.1" fill="#333333"/>
<circle cx="94.2" cy="282.6" r="1.1" fill="#a82c2c"/>
<circle cx="157.7" cy="341.3" r="1.1" fill="#a82c2c"/>
<circle cx="123.9" cy="299.4" r="1.1" fill="#333333"/>
<circle cx="125.2" cy="341.3" r="1.1" fill="#a82c2c"/>
<circle cx="128.1" cy="312.5" r="1.1" fill="#a82c2c"/>
<circle cx="100.8" cy="279.9" r="1.1" fill="#333333"/>
<circle cx="145.7" cy="299.7" r="1.1" fill="#333333"/>
<circle cx="139.1" cy="259.9" r="1.1" fill="#a82c2c"/>
<circle cx="116.9" cy="264.6" r="1.1" fill="#333333"/>
<circle cx="126.5" cy="286.4" r="1.1" fill="#333333"/>
<circle cx="92.1" cy="311.0" r="1.1" fill="#a82c2c"/>
<circle cx="96.0" cy="269.9" r="1.1" fill="#333333"/>
<circle cx="105.4" cy="341.3" r="1.1" fill="#a82c2c"/>
<circle cx="86.3" cy="244.5" r="1.1" fill="#333333"/>
<circle cx="148.3" cy="303.6" r="1.1" fill="#a82c2c"/>
<circle cx="110.4" cy="309.4" r="1.1" fill="#333333"/>
<circle cx="87.1" cy="303.9" r="1.1" fill="#a82c2c"/>
<circle cx="137.8" cy="270.3" r="1.1" fill="#333333"/>
<circle cx="146.1" cy="301.1" r="1.1" fill="#a82c2c"/>
<circle cx="136.1" cy="341.3" r="1.1" fill="#a82c2c"/>
<circle cx="115.9" cy="303.1" r="1.1" fill="#a82c2c"/>
<circle cx="128.2" cy="341.3" r="1.1" fill="#a82c2c"/>
<circle cx="105.4" cy="292.5" r="1.1" fill="#a82c2c"/>
<circle cx="109.4" cy="278.8" r="1.1" fill="#333333"/>
<circle cx="116.5" cy="261.8" r="1.1" fill="#a82c2c"/>
<circle cx="128.7" cy="308.2" r="1.1" fill="#a82c2c"/>
<circle cx="124.7" cy="281.2" r="1.1" fill="#333333"/>
<circle cx="119.0" cy="290.9" r="1.1" fill="#a82c2c"/>
<circle cx="123.5" cy="294.8" r="1.1" fill="#333333"/>
<circle cx="137.5" cy="282.1" r="1.1" fill="#333333"/>
<circle cx="82.7" cy="267.6" r="1.1" fill="#a82c2c"/>
<circle cx="122.6" cy="319.6" r="1.1" fill="#a82c2c"/>
<circle cx="133.1" cy="256.0" r="1.1" fill="#333333"/>
<circle cx="158.9" cy="291.8" r="1.1" fill="#333333"/>
<circle cx="88.6" cy="297.1" r="1.1" fill="#a82c2c"/>
<circle cx="112.4" cy="282.5" r="1.1" fill="#a82c2c"/>
<circle cx="102.8" cy="283.3" r="1.1" fill="#333333"/>
<circle cx="112.1" cy="254.2" r="1.1" fill="#a82c2c"/>
<circle cx="91.9" cy="294.3" r="1.1" fill="#a82c2c"/>
<circle cx="118.9" cy="251.5" r="1.1" fill="#333333"/>
<circle cx="154.9" cy="341.3" r="1.1" fill="#a82c2c"/>
<circle cx="172.8" cy="341.3" r="1.1" fill="#a82c2c"/>
<circle cx="127.2" cy="284.1" r="1.1" fill="#333333"/>
<circle cx="107.6" cy="244.4" r="1.1" fill="#333333"/>
<circle cx="131.8" cy="341.3" r="1.1" fill="#a82c2c"/>
<circle cx="115.3" cy="290.6" r="1.1" fill="#333333"/>
<circle cx="137.8" cy="292.3" r="1.1" fill="#a82c2c"/>
<circle cx="87.7" cy="297.7" r="1.1" fill="#a82c2c"/>
<circle cx="91.0" cy="289.3" r="1.1" fill="#a82c2c"/>
<circle cx="134.1" cy="284.1" r="1.1" fill="#333333"/>
<circle cx="148.8" cy="326.7" r="1.1" fill="#a82c2c"/>
<circle cx="124.8" cy="341.3" r="1.1" fill="#a82c2c"/>
<circle cx="90.6" cy="275.7" r="1.1" fill="#333333"/>
<circle cx="145.6" cy="341.3" r="1.1" fill="#a82c2c"/>
<circle cx="104.3" cy="272.5" r="1.1" fill="#a82c2c"/>
<circle cx="119.1" cy="286.2" r="1.1" fill="#a82c2c"/>
<circle cx="133.3" cy="294.3" r="1.1" fill="#333333"/>
<circle cx="124.1" cy="279.6" r="1.1" fill="#a82c2c"/>
<circle cx="86.8" cy="262.0" r="1.1" fill="#333333"/>
<circle cx="97.9" cy="300.5" r="1.1" fill="#333333"/>
<circle cx="141.3" cy="284.8" r="1.1" fill="#a82c2c"/>
<circle cx="123.7" cy="276.6" r="1.1" fill="#a82c2c"/>
<circle cx="81.1" cy="245.7" r="1.1" fill="#333333"/>
<circle cx="138.9" cy="286.4" r="1.1" fill="#333333"/>
<circle cx="113.3" cy="237.9" r="1.1" fill="#333333"/>
<circle cx="96.9" cy="281.5" r="1.1" fill="#a82c2c"/>
<circle cx="132.7" cy="286.9" r="1.1" fill="#333333"/>
<circle cx="141.6" cy="265.0" r="1.1" fill="#a82c2c"/>
<circle cx="123.9" cy="294.1" r="1.1" fill="#333333"/>
<circle cx="68.2" cy="269.0" r="1.1" fill="#333333"/>
<circle cx="125.6" cy="295.0" r="1.1" fill="#333333"/>
<circle cx="123.0" cy="245.2" r="1.1" fill="#333333"/>
<circle cx="103.9" cy="244.1" r="1.1" fill="#333333"/>
<circle cx="95.4" cy="296.0" r="1.1" fill="#a82c2c"/>
<circle cx="131.7" cy="267.3" r="1.1" fill="#a82c2c"/>
<circle cx="111.2" cy="279.1" r="1.1" fill="#a82c2c"/>
<circle cx="121.8" cy="243.1" r="1.1" fill="#333333"/>
<circle cx="108.6" cy="267.2" r="1.1" fill="#333333"/>
<circle cx="115.8" cy="263.6" r="1.1" fill="#333333"/>
<circle cx="149.5" cy="308.1" r="1.1" fill="#333333"/>
<circle cx="124.8" cy="261.8" r="1.1" fill="#333333"/>
<circle cx="142.3" cy="305.6" r="1.1" fill="#a82c2c"/>
<circle cx="109.8" cy="263.6" r="1.1" fill="#333333"/>
<circle cx="154.9" cy="309.1" r="1.1" fill="#a82c2c"/>
<circle cx="134.5" cy="299.7" r="1.1" fill="#333333"/>
<circle cx="151.0" cy="305.0" r="1.1" fill="#333333"/>
<circle cx="129.7" cy="271.4" r="1.1" fill="#333333"/>
<circle cx="127.8" cy="341.3" r="1.1" fill="#a82c2c"/>
<circle cx="117.3" cy="257.5" r="1.1" fill="#a82c2c"/>
<circle cx="106.0" cy="341.3" r="1.1" fill="#333333"/>
<circle cx="118.8" cy="281.9" r="1.1" fill="#a82c2c"/>
<circle cx="160.3" cy="341.3" r="1.1" fill="#a82c2c"/>
<circle cx="111.5" cy="272.3" r="1.1" fill="#333333"/>
<circle cx="112.5" cy="318.6" r="1.1" fill="#a82c2c"/>
<circle cx="116.8" cy="262.0" r="1.1" fill="#a82c2c"/>
<circle cx="122.6" cy="341.3" r="1.1" fill="#a82c2c"/>
<circle cx="121.8" cy="267.5" r="1.1" fill="#333333"/>
<circle cx="146.6" cy="341.3" r="1.1" fill="#a82c2c"/>
<circle cx="105.3" cy="287.3" r="1.1" fill="#a82c2c"/>
<circle cx="95.6" cy="298.6" r="1.1" fill="#a82c2c"/>
<circle cx="90.7" cy="258.4" r="1.1" fill="#333333"/>
<circle cx="106.0" cy="279.3" r="1.1" fill="#a82c2c"/>
<circle cx="114.2" cy="290.4" r="1.1" fill="#333333"/>
<circle cx="113.6" cy="264.8" r="1.1" fill="#333333"/>
<circle cx="135.9" cy="341.3" r="1.1" fill="#a82c2c"/>
<circle cx="120.4" cy="304.1" r="1.1" fill="#a82c2c"/>
<circle cx="76.1" cy="260.4" r="1.1" fill="#a82c2c"/>
<circle cx="106.1" cy="278.9" r="1.1" fill="#333333"/>
<circle cx="117.3" cy="298.4" r="1.1" fill="#a82c2c"/>
<circle cx="140.9" cy="246.0" r="1.1" fill="#333333"/>
<circle cx="130.8" cy="274.6" r="1.1" fill="#333333"/>
<circle cx="117.1" cy="289.8" r="1.1" fill="#333333"/>
<circle cx="109.6" cy="287.9" r="1.1" fill="#333333"/>
<circle cx="117.2" cy="298.6" r="1.1" fill="#333333"/>
<circle cx="144.9" cy="341.3" r="1.1" fill="#a82c2c"/>
<circle cx="105.8" cy="280.8" r="1.1" fill="#333333"/>
<circle cx="77.5" cy="256.3" r="1.1" fill="#333333"/>
<circle cx="135.8" cy="275.3" r="1.1" fill="#333333"/>
<circle cx="113.3" cy="341.3" r="1.1" fill="#a82c2c"/>
<circle cx="95.5" cy="251.3" r="1.1" fill="#333333"/>
<circle cx="157.5" cy="341.3" r="1.1" fill="#a82c2c"/>
<circle cx="104.6" cy="274.7" r="1.1" fill="#333333"/>
<circle cx="124.9" cy="250.5" r="1.1" fill="#333333"/>
<circle cx="117.9" cy="316.5" r="1.1" fill="#a82c2c"/>
<circle cx="127.5" cy="313.5" r="1.1" fill="#a82c2c"/>
<circle cx="125.9" cy="273.5" r="1.1" fill="#333333"/>
<circle cx="93.4" cy="290.1" r="1.1" fill="#a82c2c"/>
<circle cx="127.1" cy="259.2" r="1.1" fill="#333333"/>
<circle cx="98.7" cy="258.5" r="1.1" fill="#333333"/>
<circle cx="123.4" cy="309.9" r="1.1" fill="#a82c2c"/>
<circle cx="158.8" cy="341.3" r="1.1" fill="#a82c2c"/>
<circle cx="107.4" cy="281.1" r="1.1" fill="#a82c2c"/>
<circle cx="94.8" cy="295.4" r="1.1" fill="#a82c2c"/>
<circle cx="91.3" cy="277.2" r="1.1" fill="#333333"/>
<circle cx="124.8" cy="315.9" r="1.1" fill="#a82c2c"/>
<circle cx="106.2" cy="269.2" r="1.1" fill="#a82c2c"/>
<circle cx="133.7" cy="325.8" r="1.1" fill="#a82c2c"/>
<circle cx="90.0" cy="258.3" r="1.1" fill="#a82c2c"/>
<circle cx="129.1" cy="260.0" r="1.1" fill="#333333"/>
<circle cx="102.1" cy="278.8" r="1.1" fill="#a82c2c"/>
<circle cx="125.8" cy="267.8" r="1.1" fill="#333333"/>
<circle cx="92.1" cy="308.5" r="1.1" fill="#a82c2c"/>
<circle cx="126.8" cy="305.9" r="1.1" fill="#a82c2c"/>
<circle cx="124.2" cy="259.6" r="1.1" fill="#333333"/>
<circle cx="124.9" cy="257.7" r="1.1" fill="#333333"/>
<circle cx="136.7" cy="289.8" r="1.1" fill="#333333"/>
<circle cx="124.1" cy="275.6" r="1.1" fill="#333333"/>
<circle cx="171.7" cy="341.3" r="1.1" fill="#a82c2c"/>
<circle cx="129.4" cy="311.8" r="1.1" fill="#a82c2c"/>
<circle cx="64.6" cy="251.3" r="1.1" fill="#a82c2c"/>
<circle cx="108.6" cy="308.0" r="1.1" fill="#a82c2c"/>
<circle cx="115.3" cy="287.5" r="1.1" fill="#a82c2c"/>
<circle cx="124.8" cy="300.4" r="1.1" fill="#a82c2c"/>
<circle cx="143.3" cy="341.3" r="1.1" fill="#a82c2c"/>
<circle cx="104.3" cy="307.0" r="1.1" fill="#a82c2c"/>
<circle cx="87.9" cy="239.7" r="1.1" fill="#333333"/>
<circle cx="121.8" cy="254.3" r="1.1" fill="#333333"/>
<circle cx="128.9" cy="290.9" r="1.1" fill="#333333"/>
<circle cx="109.5" cy="288.3" r="1.1" fill="#a82c2c"/>
<circle cx="102.4" cy="271.0" r="1.1" fill="#333333"/>
<circle cx="116.5" cy="341.3" r="1.1" fill="#a82c2c"/>
<circle cx="116.4" cy="285.6" r="1.1" fill="#333333"/>
<circle cx="93.1" cy="255.3" r="1.1" fill="#333333"/>
<circle cx="86.2" cy="286.9" r="1.1" fill="#a82c2c"/>
<circle cx="99.4" cy="281.2" r="1.1" fill="#a82c2c"/>
<circle cx="91.1" cy="240.8" r="1.1" fill="#333333"/>
<circle cx="127.9" cy="341.3" r="1.1" fill="#a82c2c"/>
<circle cx="129.5" cy="321.4" r="1.1" fill="#a82c2c"/>
<circle cx="87.9" cy="258.2" r="1.1" fill="#333333"/>
<circle cx="107.8" cy="254.8" r="1.1" fill="#333333"/>
<circle cx="133.7" cy="276.7" r="1.1" fill="#333333"/>
<circle cx="142.1" cy="313.6" r="1.1" fill="#a82c2c"/>
<circle cx="89.1" cy="292.8" r="1.1" fill="#a82c2c"/>
<circle cx="171.1" cy="341.3" r="1.1" fill="#a82c2c"/>
<circle cx="104.8" cy="290.2" r="1.1" fill="#a82c2c"/>
<circle cx="103.3" cy="292.7" r="1.1" fill="#333333"/>
<circle cx="150.8" cy="301.0" r="1.1" fill="#333333"/>
<circle cx="132.0" cy="296.9" r="1.1" fill="#a82c2c"/>
<circle cx="158.3" cy="325.7" r="1.1" fill="#a82c2c"/>
<circle cx="103.4" cy="265.6" r="1.1" fill="#a82c2c"/>
<circle cx="104.3" cy="282.9" r="1.1" fill="#a82c2c"/>
<circle cx="122.9" cy="280.4" r="1.1" fill="#a82c2c"/>
<circle cx="116.4" cy="322.4" r="1.1" fill="#a82c2c"/>
<circle cx="146.4" cy="276.5" r="1.1" fill="#333333"/>
<circle cx="80.5" cy="276.4" r="1.1" fill="#a82c2c"/>
<circle cx="100.4" cy="286.6" r="1.1" fill="#a82c2c"/>
<circle cx="89.3" cy="307.0" r="1.1" fill="#a82c2c"/>
<circle cx="123.6" cy="298.4" r="1.1" fill="#a82c2c"/>
<circle cx="184.3" cy="341.3" r="1.1" fill="#a82c2c"/>
<circle cx="118.8" cy="280.7" r="1.1" fill="#333333"/>
<circle cx="125.8" cy="280.6" r="1.1" fill="#333333"/>
<circle cx="103.7" cy="295.6" r="1.1" fill="#a82c2c"/>
<circle cx="101.5" cy="245.3" r="1.1" fill="#333333"/>
<circle cx="159.5" cy="311.4" r="1.1" fill="#a82c2c"/>
<circle cx="124.5" cy="259.0" r="1.1" fill="#333333"/>
<circle cx="112.2" cy="316.7" r="1.1" fill="#a82c2c"/>
<circle cx="114.7" cy="257.1" r="1.1" fill="#333333"/>
<circle cx="159.3" cy="341.3" r="1.1" fill="#a82c2c"/>
<circle cx="132.2" cy="277.6" r="1.1" fill="#a82c2c"/>
<circle cx="124.0" cy="306.4" r="1.1" fill="#333333"/>
<circle cx="146.8" cy="335.9" r="1.1" fill="#a82c2c"/>
<circle cx="117.7" cy="257.0" r="1.1" fill="#333333"/>
<circle cx="122.4" cy="279.9" r="1.1" fill="#a82c2c"/>
<circle cx="128.5" cy="281.6" r="1.1" fill="#333333"/>
<circle cx="112.6" cy="269.4" r="1.1" fill="#333333"/>
<circle cx="122.7" cy="341.3" r="1.1" fill="#a82c2c"/>
<circle cx="122.6" cy="262.8" r="1.1" fill="#333333"/>
<circle cx="109.4" cy="341.3" r="1.1" fill="#a82c2c"/>
<circle cx="171.9" cy="341.3" r="1.1" fill="#a82c2c"/>
<circle cx="122.3" cy="271.3" r="1.1" fill="#333333"/>
<circle cx="106.5" cy="282.4" r="1.1" fill="#a82c2c"/>
<circle cx="112.8" cy="280.0" r="1.1" fill="#a82c2c"/>
<circle cx="161.9" cy="282.8" r="1.1" fill="#333333"/>
<circle cx="110.5" cy="287.3" r="1.1" fill="#a82c2c"/>
<circle cx="146.1" cy="282.5" r="1.1" fill="#333333"/>
<circle cx="117.8" cy="341.3" r="1.1" fill="#a82c2c"/>
<circle cx="135.5" cy="284.4" r="1.1" fill="#333333"/>
<circle cx="90.9" cy="265.2" r="1.1" fill="#333333"/>
<circle cx="125.7" cy="288.1" r="1.1" fill="#333333"/>
<circle cx="129.0" cy="277.6" r="1.1" fill="#333333"/>
<circle cx="144.1" cy="341.3" r="1.1" fill="#a82c2c"/>
<circle cx="91.2" cy="287.1" r="1.1" fill="#a82c2c"/>
<circle cx="78.8" cy="262.5" r="1.1" fill="#a82c2c"/>
<circle cx="123.8" cy="307.5" r="1.1" fill="#333333"/>
<circle cx="105.1" cy="270.4" r="1.1" fill="#333333"/>
<circle cx="121.9" cy="292.0" r="1.1" fill="#a82c2c"/>
<circle cx="129.5" cy="266.6" r="1.1" fill="#333333"/>
<circle cx="119.9" cy="341.3" r="1.1" fill="#a82c2c"/>
<circle cx="122.9" cy="260.7" r="1.1" fill="#333333"/>
<circle cx="131.9" cy="341.3" r="1.1" fill="#a82c2c"/>
<circle cx="111.6" cy="299.0" r="1.1" fill="#a82c2c"/>
<circle cx="102.0" cy="300.0" r="1.1" fill="#a82c2c"/>
<circle cx="89.3" cy="271.9" r="1.1" fill="#333333"/>
<circle cx="110.5" cy="291.7" r="1.1" fill="#a82c2c"/>
<circle cx="119.2" cy="341.3" r="1.1" fill="#a82c2c"/>
<circle cx="110.4" cy="275.5" r="1.1" fill="#a82c2c"/>
<circle cx="142.9" cy="289.7" r="1.1" fill="#333333"/>
<circle cx="76.1" cy="248.1" r="1.1" fill="#333333"/>
<circle cx="114.8" cy="273.8" r="1.1" fill="#a82c2c"/>
<circle cx="92.9" cy="292.6" r="1.1" fill="#a82c2c"/>
<circle cx="166.3" cy="341.3" r="1.1" fill="#a82c2c"/>
<circle cx="67.5" cy="269.2" r="1.1" fill="#333333"/>
<circle cx="111.4" cy="277.2" r="1.1" fill="#a82c2c"/>
<circle cx="105.1" cy="307.1" r="1.1" fill="#a82c2c"/>
<circle cx="124.5" cy="341.3" r="1.1" fill="#a82c2c"/>
<circle cx="113.5" cy="277.0" r="1.1" fill="#a82c2c"/>
<circle cx="129.0" cy="298.4" r="1.1" fill="#333333"/>
<circle cx="105.7" cy="341.3" r="1.1" fill="#a82c2c"/>
<circle cx="89.6" cy="262.8" r="1.1" fill="#333333"/>
<circle cx="124.6" cy="269.9" r="1.1" fill="#a82c2c"/>
<circle cx="96.4" cy="270.7" r="1.1" fill="#a82c2c"/>
<circle cx="129.7" cy="278.6" r="1.1" fill="#333333"/>
<circle cx="135.8" cy="304.3" r="1.1" fill="#333333"/>
<circle cx="91.6" cy="283.4" r="1.1" fill="#a82c2c"/>
<circle cx="129.1" cy="341.3" r="1.1" fill="#a82c2c"/>
<circle cx="111.6" cy="251.9" r="1.1" fill="#a82c2c"/>
<circle cx="121.2" cy="266.1" r="1.1" fill="#333333"/>
<circle cx="108.5" cy="254.6" r="1.1" fill="#333333"/>
<circle cx="94.7" cy="280.0" r="1.1" fill="#a82c2c"/>
<circle cx="108.4" cy="261.7" r="1.1" fill="#333333"/>
<circle cx="136.4" cy="333.5" r="1.1" fill="#a82c2c"/>
<circle cx="101.2" cy="312.1" r="1.1" fill="#a82c2c"/>
<circle cx="155.0" cy="271.9" r="1.1" fill="#333333"/>
<circle cx="123.3" cy="341.3" r="1.1" fill="#a82c2c"/>
<circle cx="92.7" cy="249.6" r="1.1" fill="#333333"/>
<circle cx="121.3" cy="312.4" r="1.1" fill="#a82c2c"/>
<circle cx="99.5" cy="242.4" r="1.1" fill="#333333"/>
<circle cx="101.8" cy="267.2" r="1.1" fill="#333333"/>
<circle cx="183.9" cy="341.3" r="1.1" fill="#a82c2c"/>
<circle cx="107.8" cy="264.6" r="1.1" fill="#a82c2c"/>
<circle cx="95.7" cy="240.0" r="1.1" fill="#333333"/>
<circle cx="139.2" cy="311.6" r="1.1" fill="#a82c2c"/>
<circle cx="149.7" cy="297.0" r="1.1" fill="#333333"/>
<circle cx="100.2" cy="269.5" r="1.1" fill="#a82c2c"/>
<circle cx="115.1" cy="304.2" r="1.1" fill="#333333"/>
<circle cx="110.6" cy="271.3" r="1.1" fill="#a82c2c"/>
<circle cx="124.2" cy="270.1" r="1.1" fill="#333333"/>
<circle cx="103.4" cy="260.8" r="1.1" fill="#333333"/>
<circle cx="100.6" cy="262.1" r="1.1" fill="#a82c2c"/>
<circle cx="144.0" cy="298.6" r="1.1" fill="#a82c2c"/>
<circle cx="92.2" cy="297.1" r="1.1" fill="#a82c2c"/>
<circle cx="102.0" cy="288.8" r="1.1" fill="#a82c2c"/>
<circle cx="108.7" cy="267.8" r="1.1" fill="#333333"/>
<circle cx="111.3" cy="302.6" r="1.1" fill="#a82c2c"/>
<circle cx="98.9" cy="264.3" r="1.1" fill="#a82c2c"/>
<circle cx="127.7" cy="293.2" r="1.1" fill="#a82c2c"/>
<circle cx="126.8" cy="287.8" r="1.1" fill="#333333"/>
<circle cx="117.9" cy="288.0" r="1.1" fill="#a82c2c"/>
<circle cx="113.5" cy="299.8" r="1.1" fill="#333333"/>
<circle cx="139.7" cy="295.5" r="1.1" fill="#333333"/>
<circle cx="153.9" cy="337.9" r="1.1" fill="#a82c2c"/>
<circle cx="115.6" cy="268.7" r="1.1" fill="#333333"/>
<circle cx="99.0" cy="282.6" r="1.1" fill="#333333"/>
<circle cx="171.3" cy="341.3" r="1.1" fill="#333333"/>
<circle cx="147.7" cy="294.8" r="1.1" fill="#333333"/>
<circle cx="86.5" cy="258.6" r="1.1" fill="#a82c2c"/>
<circle cx="128.4" cy="292.9" r="1.1" fill="#a82c2c"/>
<circle cx="116.7" cy="288.8" r="1.1" fill="#a82c2c"/>
<circle cx="102.0" cy="289.4" r="1.1" fill="#333333"/>
<circle cx="92.3" cy="264.9" r="1.1" fill="#a82c2c"/>
<circle cx="142.8" cy="311.8" r="1.1" fill="#a82c2c"/>
<circle cx="80.0" cy="300.4" r="1.1" fill="#a82c2c"/>
<circle cx="117.3" cy="257.8" r="1.1" fill="#a82c2c"/>
<circle cx="155.4" cy="312.6" r="1.1" fill="#333333"/>
<circle cx="131.5" cy="318.4" r="1.1" fill="#a82c2c"/>
<circle cx="115.2" cy="292.5" r="1.1" fill="#a82c2c"/>
<circle cx="91.3" cy="267.7" r="1.1" fill="#a82c2c"/>
<circle cx="119.9" cy="291.2" r="1.1" fill="#a82c2c"/>
<circle cx="105.5" cy="251.6" r="1.1" fill="#333333"/>
<circle cx="110.5" cy="279.5" r="1.1" fill="#333333"/>
<circle cx="122.6" cy="245.1" r="1.1" fill="#333333"/>
<circle cx="92.0" cy="275.0" r="1.1" fill="#333333"/>
<circle cx="104.4" cy="259.9" r="1.1" fill="#333333"/>
<circle cx="80.4" cy="246.3" r="1.1" fill="#333333"/>
<circle cx="112.2" cy="297.5" r="1.1" fill="#a82c2c"/>
<circle cx="98.1" cy="288.9" r="1.1" fill="#333333"/>
<circle cx="117.5" cy="272.5" r="1.1" fill="#333333"/>
<circle cx="93.4" cy="275.3" r="1.1" fill="#a82c2c"/>
<circle cx="120.4" cy="309.3" r="1.1" fill="#a82c2c"/>
<circle cx="86.9" cy="260.2" r="1.1" fill="#333333"/>
<circle cx="141.3" cy="275.7" r="1.1" fill="#333333"/>
<circle cx="133.1" cy="290.9" r="1.1" fill="#333333"/>
<circle cx="153.4" cy="275.9" r="1.1" fill="#a82c2c"/>
<circle cx="80.0" cy="248.9" r="1.1" fill="#333333"/>
<circle cx="144.0" cy="341.3" r="1.1" fill="#a82c2c"/>
<circle cx="108.5" cy="282.8" r="1.1" fill="#333333"/>
<circle cx="107.4" cy="241.9" r="1.1" fill="#333333"/>
<circle cx="158.3" cy="265.7" r="1.1" fill="#333333"/>
<circle cx="121.1" cy="315.5" r="1.1" fill="#a82c2c"/>
<circle cx="125.2" cy="319.9" r="1.1" fill="#a82c2c"/>
<circle cx="135.6" cy="314.2" r="1.1" fill="#a82c2c"/>
<circle cx="80.0" cy="251.6" r="1.1" fill="#333333"/>
<circle cx="112.6" cy="262.1" r="1.1" fill="#333333"/>
<circle cx="171.3" cy="317.3" r="1.1" fill="#a82c2c"/>
<circle cx="107.4" cy="281.8" r="1.1" fill="#333333"/>
<circle cx="82.9" cy="272.7" r="1.1" fill="#a82c2c"/>
<circle cx="113.1" cy="277.6" r="1.1" fill="#a82c2c"/>
<circle cx="115.1" cy="290.3" r="1.1" fill="#a82c2c"/>
<circle cx="120.3" cy="320.7" r="1.1" fill="#a82c2c"/>
<circle cx="76.3" cy="276.5" r="1.1" fill="#a82c2c"/>
<circle cx="141.5" cy="341.3" r="1.1" fill="#a82c2c"/>
<circle cx="128.3" cy="341.3" r="1.1" fill="#a82c2c"/>
<circle cx="113.1" cy="325.2" r="1.1" fill="#a82c2c"/>
<circle cx="147.6" cy="276.3" r="1.1" fill="#333333"/>
<circle cx="169.5" cy="306.4" r="1.1" fill="#333333"/>
<circle cx="114.4" cy="274.0" r="1.1" fill="#333333"/>
<circle cx="134.8" cy="341.3" r="1.1" fill="#a82c2c"/>
<circle cx="93.1" cy="266.7" r="1.1" fill="#333333"/>
<circle cx="120.7" cy="296.6" r="1.1" fill="#a82c2c"/>
<circle cx="91.4" cy="279.8" r="1.1" fill="#333333"/>
<circle cx="157.4" cy="341.3" r="1.1" fill="#a82c2c"/>
<circle cx="121.9" cy="341.3" r="1.1" fill="#a82c2c"/>
<circle cx="136.9" cy="311.6" r="1.1" fill="#333333"/>
<circle cx="127.9" cy="320.5" r="1.1" fill="#a82c2c"/>
<circle cx="129.7" cy="341.3" r="1.1" fill="#a82c2c"/>
<circle cx="115.7" cy="295.5" r="1.1" fill="#a82c2c"/>
<circle cx="128.8" cy="296.3" r="1.1" fill="#a82c2c"/>
<circle cx="94.3" cy="272.8" r="1.1" fill="#a82c2c"/>
<circle cx="127.7" cy="313.6" r="1.1" fill="#a82c2c"/>
<circle cx="106.9" cy="248.5" r="1.1" fill="#333333"/>
<circle cx="154.6" cy="284.9" r="1.1" fill="#333333"/>
<circle cx="109.1" cy="278.7" r="1.1" fill="#333333"/>
<circle cx="87.5" cy="281.9" r="1.1" fill="#333333"/>
<circle cx="106.9" cy="277.4" r="1.1" fill="#a82c2c"/>
<circle cx="99.1" cy="249.8" r="1.1" fill="#333333"/>
<circle cx="129.5" cy="256.5" r="1.1" fill="#333333"/>
<circle cx="108.2" cy="322.3" r="1.1" fill="#a82c2c"/>
<circle cx="146.9" cy="298.4" r="1.1" fill="#a82c2c"/>
<circle cx="124.5" cy="264.8" r="1.1" fill="#333333"/>
<circle cx="152.3" cy="322.7" r="1.1" fill="#333333"/>
<circle cx="130.3" cy="341.3" r="1.1" fill="#a82c2c"/>
<circle cx="126.5" cy="275.5" r="1.1" fill="#333333"/>
<circle cx="99.3" cy="272.7" r="1.1" fill="#a82c2c"/>
<circle cx="132.5" cy="316.2" r="1.1" fill="#a82c2c"/>
<circle cx="116.2" cy="254.4" r="1.1" fill="#333333"/>
<circle cx="105.2" cy="296.3" r="1.1" fill="#a82c2c"/>
<circle cx="108.8" cy="276.6" r="1.1" fill="#a82c2c"/>
<circle cx="132.5" cy="315.8" r="1.1" fill="#a82c2c"/>
<circle cx="95.6" cy="263.1" r="1.1" fill="#333333"/>
<circle cx="112.1" cy="299.6" r="1.1" fill="#a82c2c"/>
<circle cx="108.4" cy="256.1" r="1.1" fill="#a82c2c"/>
<circle cx="136.7" cy="275.1" r="1.1" fill="#333333"/>
<circle cx="77.9" cy="271.7" r="1.1" fill="#333333"/>
<circle cx="135.6" cy="251.6" r="1.1" fill="#333333"/>
<circle cx="111.1" cy="307.5" r="1.1" fill="#a82c2c"/>
<circle cx="147.4" cy="314.7" r="1.1" fill="#333333"/>
<circle cx="146.8" cy="302.4" r="1.1" fill="#a82c2c"/>
<circle cx="130.1" cy="289.9" r="1.1" fill="#333333"/>
<circle cx="104.1" cy="271.5" r="1.1" fill="#333333"/>
<circle cx="109.9" cy="277.4" r="1.1" fill="#a82c2c"/>
<circle cx="139.0" cy="285.8" r="1.1" fill="#a82c2c"/>
<circle cx="137.3" cy="261.4" r="1.1" fill="#333333"/>
<circle cx="121.1" cy="272.8" r="1.1" fill="#333333"/>
<circle cx="91.5" cy="289.1" r="1.1" fill="#a82c2c"/>
<circle cx="121.8" cy="332.5" r="1.1" fill="#a82c2c"/>
<circle cx="110.2" cy="308.6" r="1.1" fill="#a82c2c"/>
<circle cx="141.5" cy="279.1" r="1.1" fill="#333333"/>
<circle cx="134.6" cy="277.1" r="1.1" fill="#333333"/>
<circle cx="137.0" cy="271.2" r="1.1" fill="#333333"/>
<circle cx="160.7" cy="341.3" r="1.1" fill="#a82c2c"/>
<circle cx="105.2" cy="256.0" r="1.1" fill="#333333"/>
<circle cx="90.8" cy="306.5" r="1.1" fill="#a82c2c"/>
<circle cx="116.1" cy="264.7" r="1.1" fill="#a82c2c"/>
<circle cx="119.9" cy="286.9" r="1.1" fill="#333333"/>
<circle cx="102.0" cy="302.7" r="1.1" fill="#a82c2c"/>
<circle cx="117.4" cy="295.4" r="1.1" fill="#a82c2c"/>
<circle cx="106.1" cy="288.3" r="1.1" fill="#a82c2c"/>
<circle cx="126.0" cy="341.3" r="1.1" fill="#a82c2c"/>
<circle cx="99.3" cy="284.2" r="1.1" fill="#a82c2c"/>
<circle cx="82.2" cy="241.4" r="1.1" fill="#333333"/>
<circle cx="101.0" cy="283.2" r="1.1" fill="#a82c2c"/>
<circle cx="186.5" cy="341.3" r="1.1" fill="#a82c2c"/>
<circle cx="93.3" cy="279.8" r="1.1" fill="#a82c2c"/>
<circle cx="99.5" cy="275.8" r="1.1" fill="#333333"/>
<circle cx="122.6" cy="341.3" r="1.1" fill="#a82c2c"/>
<circle cx="138.5" cy="341.3" r="1.1" fill="#a82c2c"/>
<circle cx="121.4" cy="296.3" r="1.1" fill="#a82c2c"/>
<circle cx="145.4" cy="305.8" r="1.1" fill="#a82c2c"/>
<circle cx="137.3" cy="300.3" r="1.1" fill="#a82c2c"/>
<circle cx="100.3" cy="246.4" r="1.1" fill="#333333"/>
<circle cx="92.7" cy="258.3" r="1.1" fill="#333333"/>
<circle cx="129.6" cy="288.3" r="1.1" fill="#a82c2c"/>
<circle cx="77.2" cy="297.6" r="1.1" fill="#a82c2c"/>
<circle cx="116.4" cy="254.1" r="1.1" fill="#333333"/>
<circle cx="132.5" cy="281.5" r="1.1" fill="#333333"/>
<circle cx="98.5" cy="276.8" r="1.1" fill="#333333"/>
<circle cx="125.7" cy="298.3" r="1.1" fill="#a82c2c"/>
<circle cx="99.4" cy="258.0" r="1.1" fill="#333333"/>
<circle cx="88.8" cy="261.7" r="1.1" fill="#333333"/>
<circle cx="148.3" cy="341.3" r="1.1" fill="#a82c2c"/>
<circle cx="121.1" cy="298.5" r="1.1" fill="#a82c2c"/>
<circle cx="102.0" cy="267.2" r="1.1" fill="#a82c2c"/>
<circle cx="118.5" cy="282.6" r="1.1" fill="#333333"/>
<circle cx="122.2" cy="341.3" r="1.1" fill="#a82c2c"/>
<circle cx="119.0" cy="290.3" r="1.1" fill="#a82c2c"/>
<circle cx="104.5" cy="309.2" r="1.1" fill="#a82c2c"/>
<circle cx="111.5" cy="301.3" r="1.1" fill="#a82c2c"/>
<circle cx="107.0" cy="277.2" r="1.1" fill="#333333"/>
<circle cx="107.6" cy="308.7" r="1.1" fill="#a82c2c"/>
<circle cx="130.3" cy="279.7" r="1.1" fill="#333333"/>
<circle cx="128.2" cy="265.2" r="1.1" fill="#333333"/>
<circle cx="155.5" cy="341.3" r="1.1" fill="#a82c2c"/>
<circle cx="102.3" cy="291.6" r="1.1" fill="#a82c2c"/>
<circle cx="164.2" cy="341.3" r="1.1" fill="#a82c2c"/>
<circle cx="119.6" cy="341.3" r="1.1" fill="#a82c2c"/>
<circle cx="93.8" cy="294.2" r="1.1" fill="#a82c2c"/>
<circle cx="95.4" cy="273.7" r="1.1" fill="#333333"/>
<circle cx="133.4" cy="314.0" r="1.1" fill="#a82c2c"/>
<circle cx="108.7" cy="306.1" r="1.1" fill="#333333"/>
<circle cx="135.8" cy="321.2" r="1.1" fill="#a82c2c"/>
<circle cx="105.4" cy="260.6" r="1.1" fill="#a82c2c"/>
<circle cx="96.7" cy="294.8" r="1.1" fill="#a82c2c"/>
<circle cx="111.8" cy="299.2" r="1.1" fill="#333333"/>
<circle cx="160.4" cy="341.3" r="1.1" fill="#a82c2c"/>
<circle cx="108.9" cy="292.3" r="1.1" fill="#a82c2c"/>
<circle cx="130.7" cy="274.9" r="1.1" fill="#333333"/>
<circle cx="126.1" cy="320.7" r="1.1" fill="#a82c2c"/>
<circle cx="135.8" cy="341.3" r="1.1" fill="#a82c2c"/>
<circle cx="88.5" cy="270.7" r="1.1" fill="#333333"/>
<circle cx="75.6" cy="291.0" r="1.1" fill="#a82c2c"/>
<circle cx="98.8" cy="298.6" r="1.1" fill="#a82c2c"/>
<circle cx="134.6" cy="295.3" r="1.1" fill="#a82c2c"/>
<circle cx="120.7" cy="285.5" r="1.1" fill="#a82c2c"/>
<circle cx="104.4" cy="271.9" r="1.1" fill="#a82c2c"/>
<circle cx="89.9" cy="311.7" r="1.1" fill="#a82c2c"/>
<circle cx="137.2" cy="341.3" r="1.1" fill="#a82c2c"/>
<circle cx="111.8" cy="298.9" r="1.1" fill="#a82c2c"/>
<circle cx="89.6" cy="255.6" r="1.1" fill="#333333"/>
<circle cx="167.1" cy="341.3" r="1.1" fill="#a82c2c"/>
<circle cx="89.1" cy="254.6" r="1.1" fill="#333333"/>
<circle cx="114.3" cy="301.9" r="1.1" fill="#333333"/>
<circle cx="94.8" cy="265.9" r="1.1" fill="#333333"/>
<circle cx="114.4" cy="341.3" r="1.1" fill="#a82c2c"/>
<circle cx="116.4" cy="284.1" r="1.1" fill="#333333"/>
<circle cx="138.8" cy="341.3" r="1.1" fill="#a82c2c"/>
<circle cx="159.7" cy="341.3" r="1.1" fill="#a82c2c"/>
<circle cx="90.2" cy="255.4" r="1.1" fill="#a82c2c"/>
<circle cx="110.4" cy="284.1" r="1.1" fill="#333333"/>
<circle cx="103.8" cy="313.1" r="1.1" fill="#a82c2c"/>
<circle cx="101.3" cy="313.1" r="1.1" fill="#a82c2c"/>
<circle cx="143.0" cy="314.6" r="1.1" fill="#333333"/>
<circle cx="106.8" cy="264.4" r="1.1" fill="#333333"/>
<circle cx="93.9" cy="276.0" r="1.1" fill="#333333"/>
<circle cx="77.0" cy="281.7" r="1.1" fill="#333333"/>
<circle cx="107.3" cy="290.1" r="1.1" fill="#a82c2c"/>
<circle cx="156.1" cy="341.3" r="1.1" fill="#333333"/>
<circle cx="127.6" cy="262.0" r="1.1" fill="#333333"/>
<circle cx="92.7" cy="314.5" r="1.1" fill="#a82c2c"/>
<circle cx="153.1" cy="341.3" r="1.1" fill="#a82c2c"/>
<circle cx="118.3" cy="281.8" r="1.1" fill="#a82c2c"/>
<circle cx="154.6" cy="285.4" r="1.1" fill="#333333"/>
<circle cx="107.4" cy="274.8" r="1.1" fill="#a82c2c"/>
<circle cx="94.4" cy="243.3" r="1.1" fill="#333333"/>
<circle cx="143.5" cy="341.3" r="1.1" fill="#333333"/>
<circle cx="123.1" cy="260.8" r="1.1" fill="#333333"/>
<circle cx="132.1" cy="267.4" r="1.1" fill="#333333"/>
<circle cx="96.7" cy="315.6" r="1.1" fill="#a82c2c"/>
<circle cx="168.1" cy="341.3" r="1.1" fill="#a82c2c"/>
<circle cx="132.0" cy="262.5" r="1.1" fill="#333333"/>
<circle cx="122.2" cy="295.5" r="1.1" fill="#333333"/>
<circle cx="107.0" cy="273.6" r="1.1" fill="#333333"/>
<circle cx="70.7" cy="289.2" r="1.1" fill="#a82c2c"/>
<circle cx="89.6" cy="274.0" r="1.1" fill="#a82c2c"/>
<circle cx="133.8" cy="242.3" r="1.1" fill="#333333"/>
<circle cx="112.4" cy="302.3" r="1.1" fill="#a82c2c"/>
<circle cx="84.0" cy="253.8" r="1.1" fill="#333333"/>
<circle cx="98.8" cy="249.7" r="1.1" fill="#a82c2c"/>
<circle cx="105.0" cy="316.7" r="1.1" fill="#a82c2c"/>
<circle cx="129.2" cy="279.7" r="1.1" fill="#333333"/>
<circle cx="116.7" cy="270.8" r="1.1" fill="#333333"/>
<circle cx="105.8" cy="246.6" r="1.1" fill="#a82c2c"/>
<circle cx="123.1" cy="287.0" r="1.1" fill="#a82c2c"/>
<circle cx="110.8" cy="275.4" r="1.1" fill="#333333"/>
<circle cx="137.9" cy="283.7" r="1.1" fill="#333333"/>
<circle cx="93.5" cy="279.3" r="1.1" fill="#a82c2c"/>
<circle cx="117.9" cy="276.1" r="1.1" fill="#a82c2c"/>
<circle cx="114.9" cy="318.4" r="1.1" fill="#a82c2c"/>
<circle cx="90.2" cy="321.2" r="1.1" fill="#a82c2c"/>
<circle cx="136.9" cy="263.2" r="1.1" fill="#333333"/>
<circle cx="78.2" cy="252.5" r="1.1" fill="#333333"/>
<circle cx="124.5" cy="244.4" r="1.1" fill="#333333"/>
<circle cx="105.2" cy="291.8" r="1.1" fill="#a82c2c"/>
<circle cx="74.1" cy="276.5" r="1.1" fill="#a82c2c"/>
<circle cx="134.2" cy="316.5" r="1.1" fill="#a82c2c"/>
<circle cx="100.5" cy="274.6" r="1.1" fill="#a82c2c"/>
<circle cx="138.5" cy="279.0" r="1.1" fill="#333333"/>
<circle cx="145.6" cy="341.3" r="1.1" fill="#a82c2c"/>
<circle cx="117.7" cy="282.7" r="1.1" fill="#333333"/>
<circle cx="138.5" cy="272.6" r="1.1" fill="#333333"/>
<circle cx="94.9" cy="291.4" r="1.1" fill="#a82c2c"/>
<circle cx="97.7" cy="305.5" r="1.1" fill="#a82c2c"/>
</g>
<line x1="60.2" y1="253.2" x2="186.7" y2="321.1" stroke="#111" stroke-width="2.1"/>
<line x1="63.0" y1="254.5" x2="166.3" y2="341.7" stroke="#c6432f" stroke-width="1.8"/>
<path d="M31.7 206.4 V364.4 H250.0" fill="none" stroke="#6c6c6c" stroke-width="1.2"/>
<line x1="27.7" y1="211.2" x2="31.7" y2="211.2" stroke="#6c6c6c" stroke-width="1"/>
<text x="26.2" y="214.0" class="tk" text-anchor="end">1000</text>
<line x1="27.7" y1="240.8" x2="31.7" y2="240.8" stroke="#6c6c6c" stroke-width="1"/>
<text x="26.2" y="243.3" class="tk" text-anchor="end">100</text>
<line x1="27.7" y1="270.4" x2="31.7" y2="270.4" stroke="#6c6c6c" stroke-width="1"/>
<text x="26.2" y="271.3" class="tk" text-anchor="end">10</text>
<line x1="27.7" y1="300.0" x2="31.7" y2="300.0" stroke="#6c6c6c" stroke-width="1"/>
<text x="26.2" y="301.6" class="tk" text-anchor="end">1.0</text>
<line x1="27.7" y1="329.6" x2="31.7" y2="329.6" stroke="#6c6c6c" stroke-width="1"/>
<text x="26.2" y="335.4" class="tk" text-anchor="end">0.1</text>
<line x1="27.7" y1="359.2" x2="31.7" y2="359.2" stroke="#6c6c6c" stroke-width="1"/>
<text x="26.2" y="362.8" class="tk" text-anchor="end">0.01</text>
<line x1="36.5" y1="364.4" x2="36.5" y2="367.9" stroke="#6c6c6c" stroke-width="1"/>
<text x="36.5" y="376.4" class="tk" text-anchor="middle">1.0</text>
<line x1="107.4" y1="364.4" x2="107.4" y2="367.9" stroke="#6c6c6c" stroke-width="1"/>
<text x="107.4" y="376.4" class="tk" text-anchor="middle">3.2</text>
<line x1="176.9" y1="364.4" x2="176.9" y2="367.9" stroke="#6c6c6c" stroke-width="1"/>
<text x="176.9" y="376.4" class="tk" text-anchor="middle">10</text>
<line x1="247.8" y1="364.4" x2="247.8" y2="367.9" stroke="#6c6c6c" stroke-width="1"/>
<text x="247.8" y="376.4" class="tk" text-anchor="middle">32</text>
<text x="122.6" y="384.3" class="at">sTfR mg/L</text>
<text transform="translate(7.9,286.1) rotate(-90)" class="at" text-anchor="middle">Hepcidin ng/ml</text>
<text x="36.0" y="216.5" class="lt">C</text>
<line x1="126.9" y1="349.2" x2="144.6" y2="349.2" stroke="#111" stroke-width="1.35"/>
<line x1="126.9" y1="358.8" x2="144.6" y2="358.8" stroke="#c6432f" stroke-width="1.35"/>
<text x="148.5" y="351.9" class="lg">Start</text>
<text x="148.5" y="362.3" class="lg">End</text>
<text x="170.0" y="351.9" class="lg"><tspan font-style="italic">r</tspan> = -0.56; p&lt;0.00005</text>
<text x="170.0" y="362.3" class="lg"><tspan font-style="italic">r</tspan> = -0.67; p&lt;0.00005</text>
<g stroke="none">
<circle cx="380.3" cy="262.6" r="1.1" fill="#333333"/>
<circle cx="371.9" cy="268.5" r="1.1" fill="#333333"/>
<circle cx="378.7" cy="284.7" r="1.1" fill="#a82c2c"/>
<circle cx="379.4" cy="280.7" r="1.1" fill="#a82c2c"/>
<circle cx="406.9" cy="293.3" r="1.1" fill="#a82c2c"/>
<circle cx="392.1" cy="271.3" r="1.1" fill="#333333"/>
<circle cx="364.1" cy="266.8" r="1.1" fill="#333333"/>
<circle cx="392.9" cy="295.6" r="1.1" fill="#a82c2c"/>
<circle cx="360.1" cy="253.1" r="1.1" fill="#333333"/>
<circle cx="375.4" cy="281.2" r="1.1" fill="#a82c2c"/>
<circle cx="357.0" cy="298.6" r="1.1" fill="#333333"/>
<circle cx="372.2" cy="256.2" r="1.1" fill="#333333"/>
<circle cx="355.5" cy="260.2" r="1.1" fill="#333333"/>
<circle cx="361.9" cy="260.2" r="1.1" fill="#a82c2c"/>
<circle cx="352.1" cy="265.4" r="1.1" fill="#a82c2c"/>
<circle cx="363.1" cy="261.4" r="1.1" fill="#333333"/>
<circle cx="372.0" cy="263.6" r="1.1" fill="#333333"/>
<circle cx="419.1" cy="322.3" r="1.1" fill="#a82c2c"/>
<circle cx="372.9" cy="267.6" r="1.1" fill="#333333"/>
<circle cx="354.7" cy="278.6" r="1.1" fill="#a82c2c"/>
<circle cx="378.1" cy="282.4" r="1.1" fill="#a82c2c"/>
<circle cx="389.0" cy="288.8" r="1.1" fill="#333333"/>
<circle cx="413.2" cy="293.5" r="1.1" fill="#a82c2c"/>
<circle cx="354.6" cy="239.0" r="1.1" fill="#333333"/>
<circle cx="358.7" cy="275.1" r="1.1" fill="#333333"/>
<circle cx="401.8" cy="300.5" r="1.1" fill="#a82c2c"/>
<circle cx="366.0" cy="258.7" r="1.1" fill="#a82c2c"/>
<circle cx="409.3" cy="274.2" r="1.1" fill="#a82c2c"/>
<circle cx="372.1" cy="264.3" r="1.1" fill="#333333"/>
<circle cx="350.0" cy="274.2" r="1.1" fill="#a82c2c"/>
<circle cx="381.0" cy="276.8" r="1.1" fill="#a82c2c"/>
<circle cx="369.5" cy="256.6" r="1.1" fill="#333333"/>
<circle cx="360.2" cy="264.9" r="1.1" fill="#333333"/>
<circle cx="388.0" cy="268.4" r="1.1" fill="#a82c2c"/>
<circle cx="377.1" cy="341.4" r="1.1" fill="#333333"/>
<circle cx="395.0" cy="271.5" r="1.1" fill="#a82c2c"/>
<circle cx="389.7" cy="293.9" r="1.1" fill="#a82c2c"/>
<circle cx="358.6" cy="264.4" r="1.1" fill="#a82c2c"/>
<circle cx="369.3" cy="264.2" r="1.1" fill="#333333"/>
<circle cx="420.5" cy="280.4" r="1.1" fill="#a82c2c"/>
<circle cx="357.3" cy="240.2" r="1.1" fill="#a82c2c"/>
<circle cx="381.4" cy="273.6" r="1.1" fill="#333333"/>
<circle cx="390.0" cy="293.4" r="1.1" fill="#a82c2c"/>
<circle cx="354.8" cy="260.9" r="1.1" fill="#333333"/>
<circle cx="360.8" cy="239.3" r="1.1" fill="#333333"/>
<circle cx="356.1" cy="235.9" r="1.1" fill="#333333"/>
<circle cx="385.3" cy="341.4" r="1.1" fill="#a82c2c"/>
<circle cx="425.3" cy="307.5" r="1.1" fill="#a82c2c"/>
<circle cx="363.1" cy="256.9" r="1.1" fill="#333333"/>
<circle cx="391.5" cy="341.4" r="1.1" fill="#a82c2c"/>
<circle cx="393.1" cy="285.0" r="1.1" fill="#a82c2c"/>
<circle cx="391.4" cy="257.0" r="1.1" fill="#a82c2c"/>
<circle cx="356.4" cy="274.8" r="1.1" fill="#333333"/>
<circle cx="417.5" cy="313.6" r="1.1" fill="#a82c2c"/>
<circle cx="390.2" cy="324.9" r="1.1" fill="#a82c2c"/>
<circle cx="372.0" cy="295.8" r="1.1" fill="#333333"/>
<circle cx="362.5" cy="257.3" r="1.1" fill="#a82c2c"/>
<circle cx="364.3" cy="256.9" r="1.1" fill="#333333"/>
<circle cx="419.7" cy="329.3" r="1.1" fill="#a82c2c"/>
<circle cx="361.7" cy="270.8" r="1.1" fill="#a82c2c"/>
<circle cx="351.1" cy="256.2" r="1.1" fill="#333333"/>
<circle cx="402.8" cy="330.8" r="1.1" fill="#a82c2c"/>
<circle cx="406.7" cy="307.2" r="1.1" fill="#a82c2c"/>
<circle cx="381.6" cy="270.8" r="1.1" fill="#a82c2c"/>
<circle cx="391.5" cy="284.1" r="1.1" fill="#a82c2c"/>
<circle cx="398.7" cy="341.4" r="1.1" fill="#333333"/>
<circle cx="388.7" cy="241.3" r="1.1" fill="#333333"/>
<circle cx="387.0" cy="277.7" r="1.1" fill="#a82c2c"/>
<circle cx="378.0" cy="270.8" r="1.1" fill="#a82c2c"/>
<circle cx="378.1" cy="267.7" r="1.1" fill="#333333"/>
<circle cx="359.0" cy="260.5" r="1.1" fill="#333333"/>
<circle cx="377.2" cy="284.8" r="1.1" fill="#333333"/>
<circle cx="404.8" cy="301.2" r="1.1" fill="#a82c2c"/>
<circle cx="394.2" cy="249.2" r="1.1" fill="#333333"/>
<circle cx="394.1" cy="269.2" r="1.1" fill="#333333"/>
<circle cx="365.0" cy="246.3" r="1.1" fill="#333333"/>
<circle cx="370.8" cy="278.0" r="1.1" fill="#a82c2c"/>
<circle cx="406.8" cy="282.1" r="1.1" fill="#a82c2c"/>
<circle cx="425.1" cy="305.9" r="1.1" fill="#333333"/>
<circle cx="395.7" cy="269.9" r="1.1" fill="#333333"/>
<circle cx="400.4" cy="291.9" r="1.1" fill="#a82c2c"/>
<circle cx="371.4" cy="288.8" r="1.1" fill="#333333"/>
<circle cx="378.7" cy="266.3" r="1.1" fill="#a82c2c"/>
<circle cx="400.2" cy="306.0" r="1.1" fill="#333333"/>
<circle cx="391.6" cy="282.4" r="1.1" fill="#a82c2c"/>
<circle cx="368.4" cy="269.9" r="1.1" fill="#333333"/>
<circle cx="376.8" cy="264.6" r="1.1" fill="#a82c2c"/>
<circle cx="386.4" cy="341.4" r="1.1" fill="#a82c2c"/>
<circle cx="404.2" cy="297.0" r="1.1" fill="#a82c2c"/>
<circle cx="384.7" cy="307.5" r="1.1" fill="#a82c2c"/>
<circle cx="365.3" cy="273.2" r="1.1" fill="#333333"/>
<circle cx="360.7" cy="246.7" r="1.1" fill="#333333"/>
<circle cx="380.6" cy="270.1" r="1.1" fill="#333333"/>
<circle cx="372.8" cy="274.1" r="1.1" fill="#333333"/>
<circle cx="402.5" cy="305.5" r="1.1" fill="#a82c2c"/>
<circle cx="382.7" cy="265.9" r="1.1" fill="#a82c2c"/>
<circle cx="363.2" cy="281.1" r="1.1" fill="#a82c2c"/>
<circle cx="363.0" cy="264.1" r="1.1" fill="#a82c2c"/>
<circle cx="386.5" cy="275.3" r="1.1" fill="#a82c2c"/>
<circle cx="420.5" cy="314.3" r="1.1" fill="#a82c2c"/>
<circle cx="368.9" cy="257.2" r="1.1" fill="#333333"/>
<circle cx="373.7" cy="271.3" r="1.1" fill="#a82c2c"/>
<circle cx="359.2" cy="247.1" r="1.1" fill="#333333"/>
<circle cx="365.1" cy="284.1" r="1.1" fill="#a82c2c"/>
<circle cx="416.4" cy="341.4" r="1.1" fill="#a82c2c"/>
<circle cx="395.8" cy="270.1" r="1.1" fill="#a82c2c"/>
<circle cx="423.5" cy="315.7" r="1.1" fill="#a82c2c"/>
<circle cx="379.9" cy="269.3" r="1.1" fill="#a82c2c"/>
<circle cx="347.0" cy="245.4" r="1.1" fill="#333333"/>
<circle cx="384.4" cy="341.4" r="1.1" fill="#a82c2c"/>
<circle cx="350.2" cy="258.2" r="1.1" fill="#333333"/>
<circle cx="345.1" cy="283.6" r="1.1" fill="#a82c2c"/>
<circle cx="390.7" cy="291.3" r="1.1" fill="#a82c2c"/>
<circle cx="409.3" cy="284.6" r="1.1" fill="#a82c2c"/>
<circle cx="348.1" cy="306.8" r="1.1" fill="#a82c2c"/>
<circle cx="380.8" cy="266.7" r="1.1" fill="#333333"/>
<circle cx="404.2" cy="296.3" r="1.1" fill="#333333"/>
<circle cx="389.3" cy="291.1" r="1.1" fill="#a82c2c"/>
<circle cx="393.1" cy="263.6" r="1.1" fill="#a82c2c"/>
<circle cx="362.9" cy="263.5" r="1.1" fill="#333333"/>
<circle cx="389.4" cy="279.6" r="1.1" fill="#a82c2c"/>
<circle cx="398.4" cy="294.2" r="1.1" fill="#a82c2c"/>
<circle cx="352.2" cy="255.9" r="1.1" fill="#a82c2c"/>
<circle cx="357.5" cy="261.9" r="1.1" fill="#333333"/>
<circle cx="424.2" cy="316.6" r="1.1" fill="#333333"/>
<circle cx="390.4" cy="255.2" r="1.1" fill="#a82c2c"/>
<circle cx="347.9" cy="264.2" r="1.1" fill="#333333"/>
<circle cx="371.0" cy="274.5" r="1.1" fill="#333333"/>
<circle cx="369.4" cy="273.3" r="1.1" fill="#333333"/>
<circle cx="378.6" cy="312.5" r="1.1" fill="#a82c2c"/>
<circle cx="371.7" cy="259.9" r="1.1" fill="#333333"/>
<circle cx="385.8" cy="277.4" r="1.1" fill="#a82c2c"/>
<circle cx="372.9" cy="257.5" r="1.1" fill="#a82c2c"/>
<circle cx="395.0" cy="341.3" r="1.1" fill="#a82c2c"/>
<circle cx="391.8" cy="307.1" r="1.1" fill="#a82c2c"/>
<circle cx="361.4" cy="341.4" r="1.1" fill="#333333"/>
<circle cx="383.1" cy="281.9" r="1.1" fill="#a82c2c"/>
<circle cx="375.6" cy="330.8" r="1.1" fill="#a82c2c"/>
<circle cx="367.5" cy="267.5" r="1.1" fill="#333333"/>
<circle cx="404.7" cy="299.4" r="1.1" fill="#a82c2c"/>
<circle cx="362.2" cy="238.5" r="1.1" fill="#333333"/>
<circle cx="370.8" cy="244.6" r="1.1" fill="#333333"/>
<circle cx="369.4" cy="251.3" r="1.1" fill="#333333"/>
<circle cx="367.3" cy="278.8" r="1.1" fill="#333333"/>
<circle cx="364.5" cy="235.4" r="1.1" fill="#a82c2c"/>
<circle cx="358.2" cy="259.9" r="1.1" fill="#333333"/>
<circle cx="428.4" cy="297.8" r="1.1" fill="#333333"/>
<circle cx="353.2" cy="250.6" r="1.1" fill="#333333"/>
<circle cx="401.5" cy="269.5" r="1.1" fill="#a82c2c"/>
<circle cx="361.9" cy="256.8" r="1.1" fill="#333333"/>
<circle cx="403.9" cy="258.2" r="1.1" fill="#333333"/>
<circle cx="342.5" cy="246.3" r="1.1" fill="#333333"/>
<circle cx="378.8" cy="284.9" r="1.1" fill="#a82c2c"/>
<circle cx="352.7" cy="271.1" r="1.1" fill="#a82c2c"/>
<circle cx="383.3" cy="274.5" r="1.1" fill="#333333"/>
<circle cx="333.9" cy="243.2" r="1.1" fill="#333333"/>
<circle cx="364.6" cy="264.9" r="1.1" fill="#333333"/>
<circle cx="346.2" cy="261.1" r="1.1" fill="#333333"/>
<circle cx="362.4" cy="245.1" r="1.1" fill="#333333"/>
<circle cx="375.9" cy="309.7" r="1.1" fill="#a82c2c"/>
<circle cx="359.0" cy="247.3" r="1.1" fill="#333333"/>
<circle cx="391.6" cy="283.1" r="1.1" fill="#a82c2c"/>
<circle cx="375.1" cy="297.7" r="1.1" fill="#a82c2c"/>
<circle cx="388.2" cy="255.8" r="1.1" fill="#a82c2c"/>
<circle cx="354.6" cy="312.5" r="1.1" fill="#a82c2c"/>
<circle cx="355.4" cy="276.8" r="1.1" fill="#a82c2c"/>
<circle cx="372.6" cy="263.9" r="1.1" fill="#333333"/>
<circle cx="385.0" cy="262.9" r="1.1" fill="#a82c2c"/>
<circle cx="435.1" cy="302.6" r="1.1" fill="#333333"/>
<circle cx="348.4" cy="261.1" r="1.1" fill="#a82c2c"/>
<circle cx="406.0" cy="278.1" r="1.1" fill="#a82c2c"/>
<circle cx="399.4" cy="308.2" r="1.1" fill="#a82c2c"/>
<circle cx="366.9" cy="272.7" r="1.1" fill="#333333"/>
<circle cx="410.7" cy="277.3" r="1.1" fill="#a82c2c"/>
<circle cx="399.8" cy="294.7" r="1.1" fill="#a82c2c"/>
<circle cx="354.5" cy="256.3" r="1.1" fill="#333333"/>
<circle cx="331.0" cy="277.6" r="1.1" fill="#a82c2c"/>
<circle cx="371.8" cy="303.5" r="1.1" fill="#a82c2c"/>
<circle cx="383.9" cy="283.6" r="1.1" fill="#a82c2c"/>
<circle cx="351.9" cy="262.0" r="1.1" fill="#333333"/>
<circle cx="354.2" cy="258.1" r="1.1" fill="#333333"/>
<circle cx="370.4" cy="257.3" r="1.1" fill="#333333"/>
<circle cx="390.5" cy="265.2" r="1.1" fill="#a82c2c"/>
<circle cx="367.1" cy="255.4" r="1.1" fill="#a82c2c"/>
<circle cx="399.5" cy="299.3" r="1.1" fill="#a82c2c"/>
<circle cx="369.0" cy="241.5" r="1.1" fill="#333333"/>
<circle cx="379.8" cy="293.4" r="1.1" fill="#a82c2c"/>
<circle cx="412.1" cy="263.8" r="1.1" fill="#333333"/>
<circle cx="385.2" cy="284.9" r="1.1" fill="#a82c2c"/>
<circle cx="415.1" cy="341.4" r="1.1" fill="#a82c2c"/>
<circle cx="355.6" cy="249.1" r="1.1" fill="#a82c2c"/>
<circle cx="406.4" cy="306.2" r="1.1" fill="#a82c2c"/>
<circle cx="364.6" cy="256.3" r="1.1" fill="#333333"/>
<circle cx="341.0" cy="259.3" r="1.1" fill="#333333"/>
<circle cx="369.8" cy="259.8" r="1.1" fill="#333333"/>
<circle cx="351.8" cy="261.9" r="1.1" fill="#333333"/>
<circle cx="373.8" cy="281.5" r="1.1" fill="#a82c2c"/>
<circle cx="381.2" cy="261.5" r="1.1" fill="#a82c2c"/>
<circle cx="360.6" cy="252.4" r="1.1" fill="#333333"/>
<circle cx="386.4" cy="260.7" r="1.1" fill="#333333"/>
<circle cx="444.9" cy="303.6" r="1.1" fill="#a82c2c"/>
<circle cx="394.6" cy="260.7" r="1.1" fill="#a82c2c"/>
<circle cx="395.5" cy="291.3" r="1.1" fill="#333333"/>
<circle cx="439.2" cy="341.4" r="1.1" fill="#a82c2c"/>
<circle cx="413.9" cy="293.6" r="1.1" fill="#a82c2c"/>
<circle cx="350.4" cy="249.1" r="1.1" fill="#333333"/>
<circle cx="406.5" cy="274.4" r="1.1" fill="#a82c2c"/>
<circle cx="338.5" cy="240.5" r="1.1" fill="#333333"/>
<circle cx="342.0" cy="264.1" r="1.1" fill="#333333"/>
<circle cx="366.7" cy="273.7" r="1.1" fill="#333333"/>
<circle cx="380.6" cy="268.0" r="1.1" fill="#333333"/>
<circle cx="443.2" cy="312.7" r="1.1" fill="#333333"/>
<circle cx="431.3" cy="313.1" r="1.1" fill="#a82c2c"/>
<circle cx="369.8" cy="267.2" r="1.1" fill="#333333"/>
<circle cx="365.1" cy="341.4" r="1.1" fill="#a82c2c"/>
<circle cx="373.9" cy="259.8" r="1.1" fill="#333333"/>
<circle cx="449.6" cy="314.6" r="1.1" fill="#333333"/>
<circle cx="377.5" cy="282.4" r="1.1" fill="#a82c2c"/>
<circle cx="373.3" cy="247.8" r="1.1" fill="#333333"/>
<circle cx="387.9" cy="292.3" r="1.1" fill="#a82c2c"/>
<circle cx="370.9" cy="261.3" r="1.1" fill="#a82c2c"/>
<circle cx="396.4" cy="262.7" r="1.1" fill="#a82c2c"/>
<circle cx="366.5" cy="276.0" r="1.1" fill="#a82c2c"/>
<circle cx="364.0" cy="308.8" r="1.1" fill="#a82c2c"/>
<circle cx="386.4" cy="274.7" r="1.1" fill="#333333"/>
<circle cx="373.8" cy="276.1" r="1.1" fill="#a82c2c"/>
<circle cx="385.7" cy="341.4" r="1.1" fill="#a82c2c"/>
<circle cx="366.9" cy="258.2" r="1.1" fill="#a82c2c"/>
<circle cx="391.9" cy="299.9" r="1.1" fill="#a82c2c"/>
<circle cx="348.5" cy="263.8" r="1.1" fill="#333333"/>
<circle cx="454.3" cy="302.1" r="1.1" fill="#a82c2c"/>
<circle cx="375.1" cy="252.4" r="1.1" fill="#a82c2c"/>
<circle cx="370.1" cy="285.6" r="1.1" fill="#333333"/>
<circle cx="385.8" cy="284.6" r="1.1" fill="#a82c2c"/>
<circle cx="391.5" cy="279.2" r="1.1" fill="#333333"/>
<circle cx="431.2" cy="261.4" r="1.1" fill="#333333"/>
<circle cx="389.0" cy="276.5" r="1.1" fill="#333333"/>
<circle cx="380.4" cy="271.0" r="1.1" fill="#a82c2c"/>
<circle cx="367.2" cy="249.0" r="1.1" fill="#333333"/>
<circle cx="377.9" cy="283.1" r="1.1" fill="#a82c2c"/>
<circle cx="389.0" cy="269.1" r="1.1" fill="#a82c2c"/>
<circle cx="388.0" cy="265.2" r="1.1" fill="#333333"/>
<circle cx="357.4" cy="258.5" r="1.1" fill="#a82c2c"/>
<circle cx="389.8" cy="273.0" r="1.1" fill="#a82c2c"/>
<circle cx="404.2" cy="327.6" r="1.1" fill="#a82c2c"/>
<circle cx="362.8" cy="266.5" r="1.1" fill="#333333"/>
<circle cx="349.4" cy="249.6" r="1.1" fill="#333333"/>
<circle cx="387.5" cy="266.2" r="1.1" fill="#a82c2c"/>
<circle cx="391.0" cy="266.6" r="1.1" fill="#a82c2c"/>
<circle cx="399.7" cy="328.3" r="1.1" fill="#a82c2c"/>
<circle cx="366.9" cy="258.0" r="1.1" fill="#a82c2c"/>
<circle cx="364.6" cy="262.0" r="1.1" fill="#333333"/>
<circle cx="351.5" cy="271.3" r="1.1" fill="#333333"/>
<circle cx="384.8" cy="260.6" r="1.1" fill="#a82c2c"/>
<circle cx="348.6" cy="262.7" r="1.1" fill="#a82c2c"/>
<circle cx="366.5" cy="277.7" r="1.1" fill="#a82c2c"/>
<circle cx="364.9" cy="256.9" r="1.1" fill="#333333"/>
<circle cx="359.1" cy="260.3" r="1.1" fill="#a82c2c"/>
<circle cx="380.3" cy="260.4" r="1.1" fill="#333333"/>
<circle cx="375.9" cy="282.1" r="1.1" fill="#a82c2c"/>
<circle cx="382.2" cy="279.0" r="1.1" fill="#a82c2c"/>
<circle cx="347.1" cy="249.0" r="1.1" fill="#333333"/>
<circle cx="375.1" cy="277.4" r="1.1" fill="#333333"/>
<circle cx="367.8" cy="273.1" r="1.1" fill="#333333"/>
<circle cx="364.3" cy="293.5" r="1.1" fill="#a82c2c"/>
<circle cx="368.7" cy="252.4" r="1.1" fill="#333333"/>
<circle cx="366.2" cy="275.1" r="1.1" fill="#a82c2c"/>
<circle cx="409.5" cy="316.1" r="1.1" fill="#a82c2c"/>
<circle cx="360.7" cy="267.9" r="1.1" fill="#a82c2c"/>
<circle cx="382.2" cy="266.8" r="1.1" fill="#333333"/>
<circle cx="344.4" cy="258.0" r="1.1" fill="#333333"/>
<circle cx="383.5" cy="246.4" r="1.1" fill="#333333"/>
<circle cx="368.6" cy="263.9" r="1.1" fill="#333333"/>
<circle cx="372.0" cy="311.0" r="1.1" fill="#333333"/>
<circle cx="369.9" cy="286.9" r="1.1" fill="#a82c2c"/>
<circle cx="383.2" cy="290.3" r="1.1" fill="#a82c2c"/>
<circle cx="386.7" cy="271.2" r="1.1" fill="#333333"/>
<circle cx="381.1" cy="279.9" r="1.1" fill="#333333"/>
<circle cx="367.9" cy="288.6" r="1.1" fill="#a82c2c"/>
<circle cx="357.4" cy="271.4" r="1.1" fill="#a82c2c"/>
<circle cx="410.9" cy="284.4" r="1.1" fill="#a82c2c"/>
<circle cx="385.3" cy="259.4" r="1.1" fill="#a82c2c"/>
<circle cx="404.2" cy="279.2" r="1.1" fill="#a82c2c"/>
<circle cx="416.3" cy="335.1" r="1.1" fill="#a82c2c"/>
<circle cx="383.1" cy="267.9" r="1.1" fill="#a82c2c"/>
<circle cx="441.9" cy="338.2" r="1.1" fill="#a82c2c"/>
<circle cx="394.3" cy="287.7" r="1.1" fill="#a82c2c"/>
<circle cx="369.8" cy="276.7" r="1.1" fill="#a82c2c"/>
<circle cx="397.7" cy="288.3" r="1.1" fill="#a82c2c"/>
<circle cx="376.8" cy="276.4" r="1.1" fill="#a82c2c"/>
<circle cx="379.9" cy="283.1" r="1.1" fill="#a82c2c"/>
<circle cx="349.2" cy="240.5" r="1.1" fill="#333333"/>
<circle cx="362.6" cy="263.6" r="1.1" fill="#333333"/>
<circle cx="368.9" cy="292.5" r="1.1" fill="#a82c2c"/>
<circle cx="366.5" cy="253.5" r="1.1" fill="#333333"/>
<circle cx="378.4" cy="279.7" r="1.1" fill="#333333"/>
<circle cx="372.5" cy="263.9" r="1.1" fill="#a82c2c"/>
<circle cx="357.7" cy="265.2" r="1.1" fill="#a82c2c"/>
<circle cx="356.6" cy="256.7" r="1.1" fill="#a82c2c"/>
<circle cx="389.3" cy="249.2" r="1.1" fill="#a82c2c"/>
<circle cx="396.8" cy="283.5" r="1.1" fill="#a82c2c"/>
<circle cx="380.5" cy="275.8" r="1.1" fill="#333333"/>
<circle cx="405.7" cy="263.1" r="1.1" fill="#a82c2c"/>
<circle cx="346.2" cy="269.6" r="1.1" fill="#333333"/>
<circle cx="371.4" cy="260.8" r="1.1" fill="#333333"/>
<circle cx="393.6" cy="304.1" r="1.1" fill="#a82c2c"/>
<circle cx="421.0" cy="295.3" r="1.1" fill="#333333"/>
<circle cx="378.7" cy="292.7" r="1.1" fill="#a82c2c"/>
<circle cx="387.1" cy="288.3" r="1.1" fill="#a82c2c"/>
<circle cx="383.8" cy="252.0" r="1.1" fill="#333333"/>
<circle cx="379.9" cy="262.9" r="1.1" fill="#a82c2c"/>
<circle cx="363.7" cy="253.5" r="1.1" fill="#333333"/>
<circle cx="362.8" cy="234.2" r="1.1" fill="#333333"/>
<circle cx="365.8" cy="262.1" r="1.1" fill="#333333"/>
<circle cx="390.0" cy="274.1" r="1.1" fill="#a82c2c"/>
<circle cx="331.6" cy="256.4" r="1.1" fill="#333333"/>
<circle cx="350.4" cy="264.2" r="1.1" fill="#333333"/>
<circle cx="369.4" cy="285.7" r="1.1" fill="#a82c2c"/>
<circle cx="388.0" cy="293.9" r="1.1" fill="#a82c2c"/>
<circle cx="379.2" cy="249.7" r="1.1" fill="#a82c2c"/>
<circle cx="368.3" cy="268.9" r="1.1" fill="#333333"/>
<circle cx="377.1" cy="263.2" r="1.1" fill="#333333"/>
<circle cx="371.1" cy="275.9" r="1.1" fill="#333333"/>
<circle cx="394.4" cy="257.6" r="1.1" fill="#a82c2c"/>
<circle cx="391.9" cy="258.2" r="1.1" fill="#333333"/>
<circle cx="385.3" cy="269.3" r="1.1" fill="#a82c2c"/>
<circle cx="349.8" cy="261.0" r="1.1" fill="#a82c2c"/>
<circle cx="399.3" cy="277.5" r="1.1" fill="#a82c2c"/>
<circle cx="389.6" cy="268.9" r="1.1" fill="#333333"/>
<circle cx="373.2" cy="275.9" r="1.1" fill="#333333"/>
<circle cx="408.2" cy="267.8" r="1.1" fill="#a82c2c"/>
<circle cx="360.9" cy="244.6" r="1.1" fill="#333333"/>
<circle cx="361.4" cy="266.9" r="1.1" fill="#333333"/>
<circle cx="400.5" cy="284.9" r="1.1" fill="#a82c2c"/>
<circle cx="352.1" cy="250.1" r="1.1" fill="#333333"/>
<circle cx="384.2" cy="252.8" r="1.1" fill="#333333"/>
<circle cx="351.6" cy="249.9" r="1.1" fill="#333333"/>
<circle cx="371.4" cy="297.4" r="1.1" fill="#a82c2c"/>
<circle cx="379.6" cy="275.5" r="1.1" fill="#a82c2c"/>
<circle cx="396.8" cy="266.5" r="1.1" fill="#a82c2c"/>
<circle cx="373.6" cy="290.1" r="1.1" fill="#333333"/>
<circle cx="352.6" cy="255.0" r="1.1" fill="#a82c2c"/>
<circle cx="381.8" cy="276.0" r="1.1" fill="#333333"/>
<circle cx="359.6" cy="269.3" r="1.1" fill="#a82c2c"/>
<circle cx="362.0" cy="252.1" r="1.1" fill="#333333"/>
<circle cx="374.3" cy="249.6" r="1.1" fill="#333333"/>
<circle cx="388.9" cy="341.4" r="1.1" fill="#a82c2c"/>
<circle cx="355.9" cy="254.3" r="1.1" fill="#333333"/>
<circle cx="387.7" cy="259.3" r="1.1" fill="#a82c2c"/>
<circle cx="347.5" cy="277.2" r="1.1" fill="#a82c2c"/>
<circle cx="372.9" cy="262.4" r="1.1" fill="#333333"/>
<circle cx="380.8" cy="285.2" r="1.1" fill="#a82c2c"/>
<circle cx="359.6" cy="298.1" r="1.1" fill="#333333"/>
<circle cx="394.1" cy="270.1" r="1.1" fill="#333333"/>
<circle cx="429.1" cy="308.3" r="1.1" fill="#333333"/>
<circle cx="379.6" cy="277.1" r="1.1" fill="#a82c2c"/>
<circle cx="355.2" cy="248.3" r="1.1" fill="#333333"/>
<circle cx="374.7" cy="293.3" r="1.1" fill="#a82c2c"/>
<circle cx="403.2" cy="308.2" r="1.1" fill="#a82c2c"/>
<circle cx="351.2" cy="259.9" r="1.1" fill="#a82c2c"/>
<circle cx="375.5" cy="294.5" r="1.1" fill="#a82c2c"/>
<circle cx="397.6" cy="274.0" r="1.1" fill="#333333"/>
<circle cx="393.4" cy="255.2" r="1.1" fill="#a82c2c"/>
<circle cx="365.5" cy="277.9" r="1.1" fill="#a82c2c"/>
<circle cx="391.4" cy="295.8" r="1.1" fill="#a82c2c"/>
<circle cx="376.1" cy="306.4" r="1.1" fill="#a82c2c"/>
<circle cx="356.2" cy="262.5" r="1.1" fill="#333333"/>
<circle cx="383.1" cy="290.9" r="1.1" fill="#a82c2c"/>
<circle cx="351.8" cy="284.8" r="1.1" fill="#333333"/>
<circle cx="397.8" cy="278.6" r="1.1" fill="#a82c2c"/>
<circle cx="378.5" cy="274.9" r="1.1" fill="#a82c2c"/>
<circle cx="368.5" cy="261.7" r="1.1" fill="#333333"/>
<circle cx="387.4" cy="294.7" r="1.1" fill="#a82c2c"/>
<circle cx="372.3" cy="257.4" r="1.1" fill="#333333"/>
<circle cx="398.9" cy="289.8" r="1.1" fill="#a82c2c"/>
<circle cx="379.4" cy="288.2" r="1.1" fill="#a82c2c"/>
<circle cx="404.0" cy="291.5" r="1.1" fill="#a82c2c"/>
<circle cx="396.5" cy="341.4" r="1.1" fill="#a82c2c"/>
<circle cx="413.7" cy="293.2" r="1.1" fill="#a82c2c"/>
<circle cx="426.5" cy="337.5" r="1.1" fill="#a82c2c"/>
<circle cx="382.8" cy="268.3" r="1.1" fill="#a82c2c"/>
<circle cx="368.0" cy="261.4" r="1.1" fill="#333333"/>
<circle cx="365.1" cy="280.3" r="1.1" fill="#a82c2c"/>
<circle cx="383.4" cy="264.8" r="1.1" fill="#333333"/>
<circle cx="376.9" cy="274.1" r="1.1" fill="#a82c2c"/>
<circle cx="391.7" cy="274.2" r="1.1" fill="#333333"/>
<circle cx="409.6" cy="295.5" r="1.1" fill="#a82c2c"/>
<circle cx="361.6" cy="264.0" r="1.1" fill="#333333"/>
<circle cx="365.1" cy="285.6" r="1.1" fill="#333333"/>
<circle cx="347.7" cy="264.0" r="1.1" fill="#333333"/>
<circle cx="373.2" cy="244.7" r="1.1" fill="#333333"/>
<circle cx="372.3" cy="271.5" r="1.1" fill="#333333"/>
<circle cx="343.5" cy="262.2" r="1.1" fill="#333333"/>
<circle cx="418.2" cy="310.8" r="1.1" fill="#a82c2c"/>
<circle cx="388.4" cy="275.9" r="1.1" fill="#a82c2c"/>
<circle cx="372.1" cy="262.4" r="1.1" fill="#333333"/>
<circle cx="379.5" cy="275.9" r="1.1" fill="#333333"/>
<circle cx="370.9" cy="275.1" r="1.1" fill="#333333"/>
<circle cx="374.6" cy="254.4" r="1.1" fill="#333333"/>
<circle cx="350.8" cy="259.5" r="1.1" fill="#333333"/>
<circle cx="420.4" cy="285.1" r="1.1" fill="#a82c2c"/>
<circle cx="358.8" cy="303.5" r="1.1" fill="#a82c2c"/>
<circle cx="392.6" cy="289.7" r="1.1" fill="#a82c2c"/>
<circle cx="380.0" cy="273.7" r="1.1" fill="#a82c2c"/>
<circle cx="367.8" cy="294.5" r="1.1" fill="#333333"/>
<circle cx="338.9" cy="250.2" r="1.1" fill="#333333"/>
<circle cx="358.4" cy="255.0" r="1.1" fill="#333333"/>
<circle cx="358.9" cy="264.5" r="1.1" fill="#333333"/>
<circle cx="383.2" cy="300.2" r="1.1" fill="#a82c2c"/>
<circle cx="378.8" cy="286.1" r="1.1" fill="#a82c2c"/>
<circle cx="397.6" cy="298.3" r="1.1" fill="#a82c2c"/>
<circle cx="374.3" cy="296.7" r="1.1" fill="#a82c2c"/>
<circle cx="371.9" cy="252.7" r="1.1" fill="#333333"/>
<circle cx="382.1" cy="257.0" r="1.1" fill="#a82c2c"/>
<circle cx="405.4" cy="297.8" r="1.1" fill="#a82c2c"/>
<circle cx="411.3" cy="298.0" r="1.1" fill="#333333"/>
<circle cx="401.7" cy="282.4" r="1.1" fill="#a82c2c"/>
<circle cx="368.5" cy="251.2" r="1.1" fill="#333333"/>
<circle cx="363.5" cy="257.3" r="1.1" fill="#a82c2c"/>
<circle cx="422.2" cy="337.8" r="1.1" fill="#a82c2c"/>
<circle cx="374.7" cy="264.4" r="1.1" fill="#333333"/>
<circle cx="403.1" cy="294.4" r="1.1" fill="#a82c2c"/>
<circle cx="394.1" cy="270.9" r="1.1" fill="#a82c2c"/>
<circle cx="369.8" cy="261.0" r="1.1" fill="#a82c2c"/>
<circle cx="399.8" cy="292.2" r="1.1" fill="#333333"/>
<circle cx="374.3" cy="263.6" r="1.1" fill="#333333"/>
<circle cx="393.4" cy="285.3" r="1.1" fill="#a82c2c"/>
<circle cx="365.1" cy="262.0" r="1.1" fill="#a82c2c"/>
<circle cx="352.2" cy="245.8" r="1.1" fill="#333333"/>
<circle cx="365.2" cy="257.6" r="1.1" fill="#a82c2c"/>
<circle cx="384.5" cy="341.4" r="1.1" fill="#a82c2c"/>
<circle cx="367.7" cy="250.4" r="1.1" fill="#a82c2c"/>
<circle cx="442.1" cy="288.9" r="1.1" fill="#a82c2c"/>
<circle cx="375.5" cy="260.3" r="1.1" fill="#333333"/>
<circle cx="374.0" cy="269.5" r="1.1" fill="#a82c2c"/>
<circle cx="424.5" cy="301.2" r="1.1" fill="#333333"/>
<circle cx="375.7" cy="252.3" r="1.1" fill="#333333"/>
<circle cx="383.9" cy="297.7" r="1.1" fill="#a82c2c"/>
<circle cx="415.6" cy="264.1" r="1.1" fill="#333333"/>
<circle cx="365.9" cy="266.3" r="1.1" fill="#333333"/>
<circle cx="436.3" cy="320.9" r="1.1" fill="#333333"/>
<circle cx="380.7" cy="264.9" r="1.1" fill="#a82c2c"/>
<circle cx="429.8" cy="293.7" r="1.1" fill="#a82c2c"/>
<circle cx="363.8" cy="254.4" r="1.1" fill="#333333"/>
<circle cx="373.9" cy="251.0" r="1.1" fill="#a82c2c"/>
<circle cx="341.0" cy="247.6" r="1.1" fill="#333333"/>
<circle cx="357.3" cy="256.8" r="1.1" fill="#333333"/>
<circle cx="357.5" cy="325.1" r="1.1" fill="#a82c2c"/>
<circle cx="381.4" cy="271.4" r="1.1" fill="#a82c2c"/>
<circle cx="396.6" cy="261.3" r="1.1" fill="#a82c2c"/>
<circle cx="351.6" cy="237.5" r="1.1" fill="#333333"/>
<circle cx="373.6" cy="259.1" r="1.1" fill="#333333"/>
<circle cx="362.0" cy="247.5" r="1.1" fill="#333333"/>
<circle cx="361.6" cy="280.0" r="1.1" fill="#a82c2c"/>
<circle cx="380.5" cy="272.2" r="1.1" fill="#a82c2c"/>
<circle cx="382.9" cy="254.9" r="1.1" fill="#333333"/>
<circle cx="385.9" cy="291.2" r="1.1" fill="#a82c2c"/>
<circle cx="386.0" cy="317.3" r="1.1" fill="#a82c2c"/>
<circle cx="378.4" cy="266.3" r="1.1" fill="#a82c2c"/>
<circle cx="395.3" cy="280.7" r="1.1" fill="#a82c2c"/>
<circle cx="413.6" cy="278.4" r="1.1" fill="#a82c2c"/>
<circle cx="354.8" cy="262.0" r="1.1" fill="#333333"/>
<circle cx="363.4" cy="265.1" r="1.1" fill="#a82c2c"/>
<circle cx="366.1" cy="256.8" r="1.1" fill="#333333"/>
<circle cx="357.2" cy="236.7" r="1.1" fill="#333333"/>
<circle cx="375.6" cy="277.0" r="1.1" fill="#333333"/>
<circle cx="390.2" cy="293.1" r="1.1" fill="#a82c2c"/>
<circle cx="350.1" cy="255.8" r="1.1" fill="#333333"/>
<circle cx="360.0" cy="243.5" r="1.1" fill="#333333"/>
<circle cx="376.1" cy="302.3" r="1.1" fill="#a82c2c"/>
<circle cx="382.4" cy="297.3" r="1.1" fill="#333333"/>
<circle cx="431.1" cy="328.6" r="1.1" fill="#a82c2c"/>
<circle cx="355.2" cy="275.0" r="1.1" fill="#333333"/>
<circle cx="376.4" cy="265.4" r="1.1" fill="#a82c2c"/>
<circle cx="390.8" cy="270.6" r="1.1" fill="#a82c2c"/>
<circle cx="387.7" cy="262.9" r="1.1" fill="#333333"/>
<circle cx="409.4" cy="323.1" r="1.1" fill="#a82c2c"/>
<circle cx="410.9" cy="320.6" r="1.1" fill="#a82c2c"/>
<circle cx="363.3" cy="255.0" r="1.1" fill="#333333"/>
<circle cx="364.2" cy="285.8" r="1.1" fill="#333333"/>
<circle cx="376.9" cy="252.8" r="1.1" fill="#333333"/>
<circle cx="410.3" cy="295.7" r="1.1" fill="#a82c2c"/>
<circle cx="358.4" cy="254.3" r="1.1" fill="#333333"/>
<circle cx="379.5" cy="288.6" r="1.1" fill="#a82c2c"/>
<circle cx="375.1" cy="341.4" r="1.1" fill="#333333"/>
<circle cx="397.1" cy="307.8" r="1.1" fill="#a82c2c"/>
<circle cx="400.3" cy="273.7" r="1.1" fill="#333333"/>
<circle cx="388.6" cy="272.6" r="1.1" fill="#a82c2c"/>
<circle cx="358.1" cy="261.1" r="1.1" fill="#333333"/>
<circle cx="474.1" cy="319.6" r="1.1" fill="#333333"/>
<circle cx="429.8" cy="285.0" r="1.1" fill="#a82c2c"/>
<circle cx="366.3" cy="242.9" r="1.1" fill="#333333"/>
<circle cx="405.1" cy="272.0" r="1.1" fill="#a82c2c"/>
<circle cx="375.3" cy="253.6" r="1.1" fill="#333333"/>
<circle cx="362.4" cy="254.1" r="1.1" fill="#333333"/>
<circle cx="396.9" cy="267.6" r="1.1" fill="#333333"/>
<circle cx="413.5" cy="291.9" r="1.1" fill="#a82c2c"/>
<circle cx="372.3" cy="265.6" r="1.1" fill="#a82c2c"/>
<circle cx="362.6" cy="275.1" r="1.1" fill="#333333"/>
<circle cx="388.7" cy="303.4" r="1.1" fill="#a82c2c"/>
<circle cx="375.6" cy="275.1" r="1.1" fill="#333333"/>
<circle cx="369.4" cy="265.5" r="1.1" fill="#333333"/>
<circle cx="357.9" cy="248.5" r="1.1" fill="#333333"/>
<circle cx="383.2" cy="288.0" r="1.1" fill="#333333"/>
<circle cx="372.3" cy="242.0" r="1.1" fill="#333333"/>
<circle cx="380.1" cy="309.7" r="1.1" fill="#a82c2c"/>
<circle cx="376.7" cy="255.3" r="1.1" fill="#333333"/>
<circle cx="387.2" cy="298.7" r="1.1" fill="#a82c2c"/>
<circle cx="408.8" cy="314.4" r="1.1" fill="#a82c2c"/>
<circle cx="382.8" cy="269.5" r="1.1" fill="#a82c2c"/>
<circle cx="358.2" cy="253.2" r="1.1" fill="#a82c2c"/>
<circle cx="378.9" cy="270.6" r="1.1" fill="#a82c2c"/>
<circle cx="349.2" cy="280.3" r="1.1" fill="#333333"/>
<circle cx="384.3" cy="270.4" r="1.1" fill="#a82c2c"/>
<circle cx="390.9" cy="283.5" r="1.1" fill="#a82c2c"/>
<circle cx="380.3" cy="294.2" r="1.1" fill="#a82c2c"/>
<circle cx="380.7" cy="275.0" r="1.1" fill="#333333"/>
<circle cx="352.6" cy="271.7" r="1.1" fill="#333333"/>
<circle cx="404.4" cy="262.9" r="1.1" fill="#333333"/>
<circle cx="396.6" cy="268.7" r="1.1" fill="#a82c2c"/>
<circle cx="361.6" cy="261.8" r="1.1" fill="#333333"/>
<circle cx="389.2" cy="244.1" r="1.1" fill="#a82c2c"/>
<circle cx="396.9" cy="284.4" r="1.1" fill="#333333"/>
<circle cx="398.7" cy="295.7" r="1.1" fill="#a82c2c"/>
<circle cx="392.7" cy="273.1" r="1.1" fill="#333333"/>
<circle cx="393.0" cy="293.9" r="1.1" fill="#a82c2c"/>
<circle cx="340.8" cy="254.2" r="1.1" fill="#333333"/>
<circle cx="370.0" cy="306.6" r="1.1" fill="#a82c2c"/>
<circle cx="438.2" cy="302.5" r="1.1" fill="#a82c2c"/>
<circle cx="376.0" cy="263.3" r="1.1" fill="#333333"/>
<circle cx="365.4" cy="250.3" r="1.1" fill="#333333"/>
<circle cx="409.5" cy="277.4" r="1.1" fill="#a82c2c"/>
<circle cx="350.3" cy="264.2" r="1.1" fill="#a82c2c"/>
<circle cx="410.8" cy="291.6" r="1.1" fill="#333333"/>
<circle cx="381.3" cy="291.5" r="1.1" fill="#a82c2c"/>
<circle cx="446.3" cy="272.9" r="1.1" fill="#a82c2c"/>
<circle cx="390.2" cy="284.1" r="1.1" fill="#a82c2c"/>
<circle cx="396.4" cy="313.9" r="1.1" fill="#a82c2c"/>
<circle cx="371.4" cy="267.1" r="1.1" fill="#333333"/>
<circle cx="371.9" cy="264.9" r="1.1" fill="#a82c2c"/>
<circle cx="412.4" cy="269.1" r="1.1" fill="#333333"/>
<circle cx="373.4" cy="299.4" r="1.1" fill="#a82c2c"/>
<circle cx="400.8" cy="299.0" r="1.1" fill="#333333"/>
<circle cx="434.0" cy="301.0" r="1.1" fill="#a82c2c"/>
<circle cx="368.2" cy="282.0" r="1.1" fill="#333333"/>
<circle cx="355.3" cy="269.0" r="1.1" fill="#333333"/>
<circle cx="394.3" cy="287.7" r="1.1" fill="#333333"/>
<circle cx="385.1" cy="295.4" r="1.1" fill="#a82c2c"/>
<circle cx="386.6" cy="236.4" r="1.1" fill="#a82c2c"/>
<circle cx="358.0" cy="249.6" r="1.1" fill="#333333"/>
<circle cx="362.3" cy="252.0" r="1.1" fill="#333333"/>
<circle cx="387.0" cy="265.7" r="1.1" fill="#a82c2c"/>
<circle cx="388.9" cy="280.3" r="1.1" fill="#a82c2c"/>
<circle cx="359.6" cy="254.9" r="1.1" fill="#333333"/>
<circle cx="409.9" cy="277.5" r="1.1" fill="#333333"/>
<circle cx="342.1" cy="261.6" r="1.1" fill="#333333"/>
<circle cx="340.7" cy="243.4" r="1.1" fill="#333333"/>
<circle cx="361.4" cy="250.0" r="1.1" fill="#333333"/>
<circle cx="418.4" cy="300.4" r="1.1" fill="#a82c2c"/>
<circle cx="385.6" cy="275.2" r="1.1" fill="#a82c2c"/>
<circle cx="357.1" cy="274.0" r="1.1" fill="#333333"/>
<circle cx="378.7" cy="256.4" r="1.1" fill="#333333"/>
<circle cx="361.5" cy="254.2" r="1.1" fill="#333333"/>
<circle cx="374.8" cy="263.0" r="1.1" fill="#333333"/>
<circle cx="374.5" cy="286.6" r="1.1" fill="#a82c2c"/>
<circle cx="381.8" cy="266.2" r="1.1" fill="#333333"/>
<circle cx="363.0" cy="275.5" r="1.1" fill="#a82c2c"/>
<circle cx="365.2" cy="267.5" r="1.1" fill="#a82c2c"/>
<circle cx="384.8" cy="279.1" r="1.1" fill="#333333"/>
<circle cx="412.0" cy="326.7" r="1.1" fill="#a82c2c"/>
<circle cx="339.3" cy="256.3" r="1.1" fill="#333333"/>
<circle cx="372.8" cy="273.2" r="1.1" fill="#333333"/>
<circle cx="362.0" cy="277.9" r="1.1" fill="#333333"/>
<circle cx="372.7" cy="269.0" r="1.1" fill="#a82c2c"/>
<circle cx="375.6" cy="254.8" r="1.1" fill="#a82c2c"/>
<circle cx="377.4" cy="271.5" r="1.1" fill="#a82c2c"/>
<circle cx="387.9" cy="257.4" r="1.1" fill="#a82c2c"/>
<circle cx="368.6" cy="268.1" r="1.1" fill="#a82c2c"/>
<circle cx="363.7" cy="251.4" r="1.1" fill="#333333"/>
<circle cx="383.5" cy="289.2" r="1.1" fill="#a82c2c"/>
<circle cx="382.9" cy="280.9" r="1.1" fill="#333333"/>
<circle cx="366.9" cy="264.9" r="1.1" fill="#a82c2c"/>
<circle cx="402.6" cy="280.8" r="1.1" fill="#a82c2c"/>
<circle cx="350.4" cy="248.8" r="1.1" fill="#333333"/>
<circle cx="395.2" cy="270.6" r="1.1" fill="#333333"/>
<circle cx="375.6" cy="240.4" r="1.1" fill="#333333"/>
<circle cx="382.8" cy="254.5" r="1.1" fill="#a82c2c"/>
<circle cx="396.4" cy="311.4" r="1.1" fill="#a82c2c"/>
<circle cx="372.0" cy="259.4" r="1.1" fill="#333333"/>
<circle cx="398.6" cy="341.4" r="1.1" fill="#a82c2c"/>
<circle cx="371.0" cy="271.9" r="1.1" fill="#333333"/>
<circle cx="347.7" cy="276.6" r="1.1" fill="#a82c2c"/>
<circle cx="405.4" cy="270.6" r="1.1" fill="#a82c2c"/>
<circle cx="427.3" cy="305.0" r="1.1" fill="#a82c2c"/>
<circle cx="366.3" cy="237.7" r="1.1" fill="#333333"/>
<circle cx="381.5" cy="291.6" r="1.1" fill="#a82c2c"/>
<circle cx="354.3" cy="259.7" r="1.1" fill="#333333"/>
<circle cx="375.7" cy="265.8" r="1.1" fill="#a82c2c"/>
<circle cx="412.0" cy="325.9" r="1.1" fill="#a82c2c"/>
<circle cx="357.8" cy="241.2" r="1.1" fill="#333333"/>
<circle cx="386.6" cy="341.4" r="1.1" fill="#a82c2c"/>
<circle cx="358.5" cy="242.5" r="1.1" fill="#333333"/>
<circle cx="348.2" cy="254.6" r="1.1" fill="#333333"/>
<circle cx="375.5" cy="271.6" r="1.1" fill="#a82c2c"/>
<circle cx="374.6" cy="269.0" r="1.1" fill="#a82c2c"/>
<circle cx="389.8" cy="289.5" r="1.1" fill="#a82c2c"/>
<circle cx="385.2" cy="341.4" r="1.1" fill="#a82c2c"/>
<circle cx="367.2" cy="310.0" r="1.1" fill="#a82c2c"/>
<circle cx="394.8" cy="268.2" r="1.1" fill="#a82c2c"/>
<circle cx="375.8" cy="274.9" r="1.1" fill="#a82c2c"/>
<circle cx="373.9" cy="259.0" r="1.1" fill="#333333"/>
<circle cx="392.9" cy="270.1" r="1.1" fill="#a82c2c"/>
<circle cx="389.2" cy="268.6" r="1.1" fill="#a82c2c"/>
<circle cx="367.9" cy="285.0" r="1.1" fill="#a82c2c"/>
<circle cx="373.5" cy="267.0" r="1.1" fill="#333333"/>
<circle cx="365.8" cy="256.4" r="1.1" fill="#a82c2c"/>
<circle cx="394.8" cy="271.9" r="1.1" fill="#a82c2c"/>
<circle cx="366.4" cy="263.4" r="1.1" fill="#333333"/>
<circle cx="439.9" cy="275.5" r="1.1" fill="#333333"/>
<circle cx="365.4" cy="285.1" r="1.1" fill="#333333"/>
<circle cx="362.2" cy="261.7" r="1.1" fill="#333333"/>
<circle cx="349.5" cy="255.1" r="1.1" fill="#333333"/>
<circle cx="398.3" cy="272.4" r="1.1" fill="#333333"/>
<circle cx="325.1" cy="290.2" r="1.1" fill="#333333"/>
<circle cx="386.4" cy="260.7" r="1.1" fill="#333333"/>
<circle cx="375.8" cy="308.4" r="1.1" fill="#a82c2c"/>
<circle cx="344.0" cy="242.5" r="1.1" fill="#333333"/>
<circle cx="359.7" cy="273.8" r="1.1" fill="#a82c2c"/>
<circle cx="344.3" cy="239.9" r="1.1" fill="#333333"/>
<circle cx="402.7" cy="277.6" r="1.1" fill="#a82c2c"/>
<circle cx="345.3" cy="271.4" r="1.1" fill="#333333"/>
<circle cx="396.4" cy="275.3" r="1.1" fill="#333333"/>
<circle cx="390.9" cy="274.6" r="1.1" fill="#a82c2c"/>
<circle cx="417.3" cy="339.0" r="1.1" fill="#a82c2c"/>
<circle cx="382.7" cy="243.5" r="1.1" fill="#333333"/>
<circle cx="363.5" cy="255.3" r="1.1" fill="#333333"/>
<circle cx="374.5" cy="254.9" r="1.1" fill="#333333"/>
<circle cx="367.8" cy="261.2" r="1.1" fill="#333333"/>
<circle cx="371.4" cy="266.9" r="1.1" fill="#a82c2c"/>
<circle cx="372.3" cy="295.2" r="1.1" fill="#a82c2c"/>
<circle cx="422.7" cy="297.9" r="1.1" fill="#333333"/>
<circle cx="391.1" cy="281.9" r="1.1" fill="#a82c2c"/>
<circle cx="372.7" cy="265.6" r="1.1" fill="#333333"/>
<circle cx="352.7" cy="261.8" r="1.1" fill="#333333"/>
<circle cx="382.8" cy="250.8" r="1.1" fill="#333333"/>
<circle cx="356.3" cy="270.9" r="1.1" fill="#333333"/>
<circle cx="377.4" cy="250.9" r="1.1" fill="#333333"/>
<circle cx="349.2" cy="239.0" r="1.1" fill="#333333"/>
<circle cx="438.0" cy="269.3" r="1.1" fill="#333333"/>
<circle cx="388.0" cy="282.6" r="1.1" fill="#a82c2c"/>
<circle cx="366.7" cy="274.6" r="1.1" fill="#333333"/>
<circle cx="368.0" cy="256.0" r="1.1" fill="#a82c2c"/>
<circle cx="385.3" cy="252.7" r="1.1" fill="#a82c2c"/>
<circle cx="362.9" cy="254.6" r="1.1" fill="#333333"/>
<circle cx="413.6" cy="331.4" r="1.1" fill="#a82c2c"/>
<circle cx="370.4" cy="250.9" r="1.1" fill="#a82c2c"/>
<circle cx="390.1" cy="260.8" r="1.1" fill="#a82c2c"/>
<circle cx="364.3" cy="273.6" r="1.1" fill="#333333"/>
<circle cx="408.2" cy="286.3" r="1.1" fill="#333333"/>
<circle cx="391.9" cy="300.2" r="1.1" fill="#a82c2c"/>
<circle cx="388.0" cy="266.1" r="1.1" fill="#333333"/>
<circle cx="369.7" cy="245.0" r="1.1" fill="#333333"/>
<circle cx="363.4" cy="260.4" r="1.1" fill="#a82c2c"/>
<circle cx="377.1" cy="255.7" r="1.1" fill="#333333"/>
<circle cx="359.1" cy="267.0" r="1.1" fill="#333333"/>
<circle cx="369.1" cy="263.4" r="1.1" fill="#333333"/>
<circle cx="364.5" cy="262.0" r="1.1" fill="#333333"/>
<circle cx="372.2" cy="281.9" r="1.1" fill="#333333"/>
<circle cx="369.2" cy="262.1" r="1.1" fill="#333333"/>
<circle cx="342.2" cy="245.7" r="1.1" fill="#333333"/>
<circle cx="375.7" cy="341.4" r="1.1" fill="#a82c2c"/>
<circle cx="393.7" cy="274.4" r="1.1" fill="#a82c2c"/>
<circle cx="370.1" cy="255.7" r="1.1" fill="#333333"/>
<circle cx="362.6" cy="272.1" r="1.1" fill="#333333"/>
<circle cx="357.8" cy="270.6" r="1.1" fill="#333333"/>
<circle cx="400.0" cy="285.2" r="1.1" fill="#a82c2c"/>
<circle cx="388.0" cy="288.7" r="1.1" fill="#333333"/>
<circle cx="384.9" cy="247.2" r="1.1" fill="#a82c2c"/>
<circle cx="352.8" cy="254.2" r="1.1" fill="#333333"/>
<circle cx="382.2" cy="274.3" r="1.1" fill="#a82c2c"/>
<circle cx="377.8" cy="320.6" r="1.1" fill="#a82c2c"/>
<circle cx="342.4" cy="260.8" r="1.1" fill="#333333"/>
<circle cx="365.9" cy="244.1" r="1.1" fill="#333333"/>
<circle cx="420.1" cy="273.8" r="1.1" fill="#a82c2c"/>
<circle cx="384.9" cy="280.7" r="1.1" fill="#a82c2c"/>
<circle cx="390.7" cy="271.5" r="1.1" fill="#333333"/>
<circle cx="362.3" cy="272.4" r="1.1" fill="#a82c2c"/>
<circle cx="402.0" cy="334.7" r="1.1" fill="#a82c2c"/>
<circle cx="363.2" cy="275.4" r="1.1" fill="#333333"/>
<circle cx="407.8" cy="259.2" r="1.1" fill="#333333"/>
<circle cx="411.9" cy="255.0" r="1.1" fill="#a82c2c"/>
<circle cx="371.7" cy="258.4" r="1.1" fill="#a82c2c"/>
<circle cx="390.5" cy="263.6" r="1.1" fill="#a82c2c"/>
<circle cx="375.2" cy="264.0" r="1.1" fill="#333333"/>
<circle cx="359.0" cy="269.1" r="1.1" fill="#333333"/>
<circle cx="376.1" cy="269.8" r="1.1" fill="#333333"/>
<circle cx="405.2" cy="341.4" r="1.1" fill="#a82c2c"/>
<circle cx="374.4" cy="258.0" r="1.1" fill="#333333"/>
<circle cx="350.7" cy="289.7" r="1.1" fill="#a82c2c"/>
<circle cx="353.7" cy="242.0" r="1.1" fill="#333333"/>
<circle cx="395.8" cy="279.0" r="1.1" fill="#a82c2c"/>
<circle cx="353.6" cy="270.9" r="1.1" fill="#333333"/>
<circle cx="363.4" cy="253.0" r="1.1" fill="#333333"/>
<circle cx="400.9" cy="299.8" r="1.1" fill="#a82c2c"/>
<circle cx="380.6" cy="261.5" r="1.1" fill="#333333"/>
<circle cx="382.9" cy="311.6" r="1.1" fill="#a82c2c"/>
<circle cx="416.7" cy="299.2" r="1.1" fill="#a82c2c"/>
<circle cx="363.0" cy="266.5" r="1.1" fill="#333333"/>
<circle cx="356.0" cy="250.0" r="1.1" fill="#a82c2c"/>
<circle cx="355.7" cy="267.9" r="1.1" fill="#a82c2c"/>
<circle cx="360.8" cy="245.4" r="1.1" fill="#a82c2c"/>
<circle cx="341.2" cy="245.9" r="1.1" fill="#333333"/>
<circle cx="398.8" cy="282.4" r="1.1" fill="#a82c2c"/>
<circle cx="347.4" cy="262.4" r="1.1" fill="#333333"/>
<circle cx="389.0" cy="268.2" r="1.1" fill="#a82c2c"/>
<circle cx="397.1" cy="296.1" r="1.1" fill="#a82c2c"/>
<circle cx="358.1" cy="239.3" r="1.1" fill="#333333"/>
<circle cx="367.2" cy="259.8" r="1.1" fill="#333333"/>
<circle cx="347.4" cy="269.8" r="1.1" fill="#333333"/>
<circle cx="377.9" cy="263.9" r="1.1" fill="#333333"/>
<circle cx="376.2" cy="255.5" r="1.1" fill="#333333"/>
<circle cx="388.2" cy="274.5" r="1.1" fill="#a82c2c"/>
<circle cx="384.5" cy="255.2" r="1.1" fill="#333333"/>
<circle cx="369.8" cy="263.1" r="1.1" fill="#333333"/>
<circle cx="391.4" cy="284.5" r="1.1" fill="#333333"/>
<circle cx="424.2" cy="281.2" r="1.1" fill="#a82c2c"/>
<circle cx="384.9" cy="286.7" r="1.1" fill="#333333"/>
<circle cx="422.8" cy="314.0" r="1.1" fill="#a82c2c"/>
<circle cx="379.4" cy="282.2" r="1.1" fill="#a82c2c"/>
<circle cx="366.5" cy="262.8" r="1.1" fill="#333333"/>
<circle cx="396.0" cy="295.9" r="1.1" fill="#a82c2c"/>
<circle cx="376.5" cy="265.9" r="1.1" fill="#a82c2c"/>
<circle cx="366.6" cy="269.9" r="1.1" fill="#a82c2c"/>
<circle cx="406.7" cy="316.4" r="1.1" fill="#a82c2c"/>
<circle cx="385.5" cy="261.6" r="1.1" fill="#a82c2c"/>
<circle cx="368.1" cy="267.1" r="1.1" fill="#333333"/>
<circle cx="372.6" cy="259.3" r="1.1" fill="#a82c2c"/>
<circle cx="432.9" cy="258.9" r="1.1" fill="#333333"/>
<circle cx="411.7" cy="311.5" r="1.1" fill="#a82c2c"/>
<circle cx="370.3" cy="265.4" r="1.1" fill="#a82c2c"/>
<circle cx="345.8" cy="266.1" r="1.1" fill="#333333"/>
<circle cx="358.1" cy="319.0" r="1.1" fill="#a82c2c"/>
<circle cx="417.6" cy="322.3" r="1.1" fill="#a82c2c"/>
<circle cx="353.7" cy="259.4" r="1.1" fill="#333333"/>
<circle cx="388.8" cy="254.3" r="1.1" fill="#333333"/>
<circle cx="356.5" cy="245.4" r="1.1" fill="#333333"/>
<circle cx="369.1" cy="264.3" r="1.1" fill="#a82c2c"/>
<circle cx="371.4" cy="244.4" r="1.1" fill="#333333"/>
<circle cx="339.8" cy="257.5" r="1.1" fill="#333333"/>
<circle cx="358.3" cy="243.2" r="1.1" fill="#333333"/>
<circle cx="408.4" cy="262.1" r="1.1" fill="#a82c2c"/>
<circle cx="355.0" cy="267.7" r="1.1" fill="#333333"/>
<circle cx="395.2" cy="281.5" r="1.1" fill="#333333"/>
<circle cx="369.9" cy="290.8" r="1.1" fill="#a82c2c"/>
<circle cx="376.3" cy="265.6" r="1.1" fill="#a82c2c"/>
<circle cx="406.9" cy="310.1" r="1.1" fill="#a82c2c"/>
<circle cx="393.7" cy="314.2" r="1.1" fill="#333333"/>
<circle cx="369.3" cy="263.8" r="1.1" fill="#333333"/>
<circle cx="367.9" cy="284.2" r="1.1" fill="#333333"/>
<circle cx="386.9" cy="260.7" r="1.1" fill="#a82c2c"/>
<circle cx="357.1" cy="282.2" r="1.1" fill="#a82c2c"/>
<circle cx="382.6" cy="300.9" r="1.1" fill="#a82c2c"/>
<circle cx="374.9" cy="314.8" r="1.1" fill="#a82c2c"/>
<circle cx="361.1" cy="268.8" r="1.1" fill="#333333"/>
<circle cx="397.1" cy="263.4" r="1.1" fill="#333333"/>
<circle cx="361.6" cy="242.5" r="1.1" fill="#a82c2c"/>
<circle cx="392.8" cy="292.3" r="1.1" fill="#a82c2c"/>
<circle cx="434.0" cy="258.7" r="1.1" fill="#333333"/>
<circle cx="392.4" cy="307.7" r="1.1" fill="#333333"/>
<circle cx="395.6" cy="282.8" r="1.1" fill="#a82c2c"/>
<circle cx="395.7" cy="290.1" r="1.1" fill="#a82c2c"/>
<circle cx="348.9" cy="257.2" r="1.1" fill="#333333"/>
<circle cx="377.2" cy="279.4" r="1.1" fill="#333333"/>
<circle cx="402.7" cy="286.1" r="1.1" fill="#a82c2c"/>
<circle cx="358.5" cy="270.4" r="1.1" fill="#333333"/>
<circle cx="334.9" cy="242.1" r="1.1" fill="#333333"/>
<circle cx="369.8" cy="237.5" r="1.1" fill="#333333"/>
<circle cx="423.7" cy="283.1" r="1.1" fill="#a82c2c"/>
<circle cx="390.5" cy="294.4" r="1.1" fill="#a82c2c"/>
<circle cx="410.7" cy="308.1" r="1.1" fill="#a82c2c"/>
<circle cx="394.8" cy="253.9" r="1.1" fill="#333333"/>
<circle cx="373.4" cy="270.0" r="1.1" fill="#a82c2c"/>
<circle cx="370.2" cy="251.3" r="1.1" fill="#a82c2c"/>
<circle cx="356.9" cy="262.2" r="1.1" fill="#333333"/>
<circle cx="368.4" cy="274.2" r="1.1" fill="#333333"/>
<circle cx="372.8" cy="314.3" r="1.1" fill="#a82c2c"/>
<circle cx="386.1" cy="281.9" r="1.1" fill="#a82c2c"/>
<circle cx="366.6" cy="264.2" r="1.1" fill="#333333"/>
<circle cx="371.9" cy="273.1" r="1.1" fill="#333333"/>
<circle cx="367.5" cy="252.0" r="1.1" fill="#333333"/>
<circle cx="422.4" cy="279.0" r="1.1" fill="#333333"/>
<circle cx="365.4" cy="237.8" r="1.1" fill="#333333"/>
<circle cx="360.9" cy="317.9" r="1.1" fill="#a82c2c"/>
<circle cx="380.5" cy="260.6" r="1.1" fill="#a82c2c"/>
<circle cx="381.5" cy="283.9" r="1.1" fill="#a82c2c"/>
<circle cx="358.4" cy="295.3" r="1.1" fill="#a82c2c"/>
<circle cx="421.4" cy="272.2" r="1.1" fill="#333333"/>
<circle cx="411.8" cy="304.7" r="1.1" fill="#a82c2c"/>
<circle cx="382.5" cy="257.2" r="1.1" fill="#a82c2c"/>
<circle cx="366.5" cy="250.1" r="1.1" fill="#a82c2c"/>
<circle cx="336.3" cy="269.4" r="1.1" fill="#333333"/>
<circle cx="359.0" cy="240.3" r="1.1" fill="#333333"/>
<circle cx="374.4" cy="264.7" r="1.1" fill="#333333"/>
<circle cx="365.3" cy="257.2" r="1.1" fill="#333333"/>
<circle cx="418.7" cy="297.8" r="1.1" fill="#a82c2c"/>
<circle cx="398.0" cy="293.8" r="1.1" fill="#a82c2c"/>
<circle cx="369.1" cy="318.3" r="1.1" fill="#a82c2c"/>
<circle cx="402.1" cy="297.7" r="1.1" fill="#a82c2c"/>
<circle cx="379.0" cy="299.8" r="1.1" fill="#333333"/>
<circle cx="450.0" cy="260.4" r="1.1" fill="#a82c2c"/>
<circle cx="400.4" cy="318.2" r="1.1" fill="#333333"/>
<circle cx="407.7" cy="291.6" r="1.1" fill="#a82c2c"/>
<circle cx="406.6" cy="287.8" r="1.1" fill="#a82c2c"/>
<circle cx="361.3" cy="254.5" r="1.1" fill="#333333"/>
<circle cx="377.8" cy="265.4" r="1.1" fill="#333333"/>
<circle cx="365.2" cy="249.6" r="1.1" fill="#333333"/>
<circle cx="370.4" cy="286.2" r="1.1" fill="#333333"/>
<circle cx="398.2" cy="289.7" r="1.1" fill="#a82c2c"/>
<circle cx="377.9" cy="259.3" r="1.1" fill="#333333"/>
<circle cx="396.6" cy="302.9" r="1.1" fill="#a82c2c"/>
<circle cx="385.3" cy="341.4" r="1.1" fill="#a82c2c"/>
<circle cx="391.9" cy="273.9" r="1.1" fill="#a82c2c"/>
<circle cx="375.7" cy="282.1" r="1.1" fill="#a82c2c"/>
<circle cx="376.5" cy="256.4" r="1.1" fill="#333333"/>
<circle cx="380.9" cy="262.7" r="1.1" fill="#333333"/>
<circle cx="390.0" cy="270.0" r="1.1" fill="#333333"/>
<circle cx="445.9" cy="321.5" r="1.1" fill="#a82c2c"/>
<circle cx="387.9" cy="298.4" r="1.1" fill="#a82c2c"/>
<circle cx="362.5" cy="272.1" r="1.1" fill="#333333"/>
<circle cx="353.3" cy="244.4" r="1.1" fill="#333333"/>
<circle cx="352.9" cy="264.5" r="1.1" fill="#333333"/>
<circle cx="355.8" cy="252.2" r="1.1" fill="#333333"/>
<circle cx="360.5" cy="255.7" r="1.1" fill="#333333"/>
<circle cx="366.0" cy="271.7" r="1.1" fill="#333333"/>
<circle cx="355.7" cy="261.3" r="1.1" fill="#333333"/>
<circle cx="365.8" cy="243.2" r="1.1" fill="#333333"/>
<circle cx="382.9" cy="341.4" r="1.1" fill="#a82c2c"/>
<circle cx="404.2" cy="332.6" r="1.1" fill="#a82c2c"/>
<circle cx="407.1" cy="318.9" r="1.1" fill="#a82c2c"/>
<circle cx="378.8" cy="261.2" r="1.1" fill="#333333"/>
<circle cx="406.2" cy="293.8" r="1.1" fill="#a82c2c"/>
<circle cx="371.9" cy="254.7" r="1.1" fill="#333333"/>
<circle cx="362.6" cy="273.2" r="1.1" fill="#333333"/>
<circle cx="392.6" cy="263.3" r="1.1" fill="#a82c2c"/>
<circle cx="367.8" cy="259.2" r="1.1" fill="#a82c2c"/>
<circle cx="403.3" cy="341.4" r="1.1" fill="#a82c2c"/>
<circle cx="360.9" cy="257.7" r="1.1" fill="#a82c2c"/>
<circle cx="412.1" cy="322.3" r="1.1" fill="#a82c2c"/>
<circle cx="376.1" cy="320.2" r="1.1" fill="#a82c2c"/>
<circle cx="354.1" cy="261.5" r="1.1" fill="#333333"/>
<circle cx="350.8" cy="259.4" r="1.1" fill="#333333"/>
<circle cx="327.0" cy="254.2" r="1.1" fill="#333333"/>
<circle cx="365.5" cy="272.6" r="1.1" fill="#a82c2c"/>
<circle cx="344.6" cy="278.8" r="1.1" fill="#a82c2c"/>
<circle cx="385.8" cy="258.3" r="1.1" fill="#a82c2c"/>
<circle cx="358.0" cy="267.1" r="1.1" fill="#333333"/>
<circle cx="355.1" cy="252.1" r="1.1" fill="#333333"/>
<circle cx="347.2" cy="264.4" r="1.1" fill="#333333"/>
<circle cx="359.5" cy="278.4" r="1.1" fill="#a82c2c"/>
<circle cx="410.2" cy="279.1" r="1.1" fill="#a82c2c"/>
<circle cx="390.6" cy="264.4" r="1.1" fill="#a82c2c"/>
<circle cx="395.8" cy="269.7" r="1.1" fill="#a82c2c"/>
<circle cx="382.5" cy="316.9" r="1.1" fill="#333333"/>
<circle cx="367.4" cy="341.4" r="1.1" fill="#333333"/>
<circle cx="400.2" cy="290.9" r="1.1" fill="#a82c2c"/>
<circle cx="392.0" cy="271.2" r="1.1" fill="#333333"/>
<circle cx="388.4" cy="258.5" r="1.1" fill="#333333"/>
<circle cx="367.9" cy="247.7" r="1.1" fill="#333333"/>
<circle cx="428.9" cy="318.0" r="1.1" fill="#a82c2c"/>
<circle cx="340.9" cy="273.4" r="1.1" fill="#333333"/>
<circle cx="404.2" cy="263.0" r="1.1" fill="#a82c2c"/>
<circle cx="381.2" cy="272.2" r="1.1" fill="#a82c2c"/>
<circle cx="342.8" cy="305.3" r="1.1" fill="#a82c2c"/>
<circle cx="420.5" cy="341.4" r="1.1" fill="#a82c2c"/>
<circle cx="361.4" cy="264.1" r="1.1" fill="#333333"/>
<circle cx="405.7" cy="282.9" r="1.1" fill="#a82c2c"/>
<circle cx="419.0" cy="308.0" r="1.1" fill="#a82c2c"/>
<circle cx="377.2" cy="269.3" r="1.1" fill="#a82c2c"/>
<circle cx="385.0" cy="293.1" r="1.1" fill="#a82c2c"/>
<circle cx="365.6" cy="281.3" r="1.1" fill="#a82c2c"/>
<circle cx="346.0" cy="236.2" r="1.1" fill="#333333"/>
<circle cx="386.7" cy="303.1" r="1.1" fill="#a82c2c"/>
<circle cx="362.9" cy="236.7" r="1.1" fill="#333333"/>
<circle cx="358.1" cy="251.9" r="1.1" fill="#a82c2c"/>
<circle cx="389.6" cy="341.4" r="1.1" fill="#a82c2c"/>
<circle cx="364.6" cy="278.4" r="1.1" fill="#333333"/>
<circle cx="373.9" cy="261.5" r="1.1" fill="#333333"/>
<circle cx="352.1" cy="271.8" r="1.1" fill="#a82c2c"/>
<circle cx="370.2" cy="281.6" r="1.1" fill="#333333"/>
<circle cx="353.5" cy="269.6" r="1.1" fill="#333333"/>
<circle cx="372.4" cy="245.4" r="1.1" fill="#333333"/>
<circle cx="395.9" cy="321.4" r="1.1" fill="#a82c2c"/>
<circle cx="428.8" cy="304.8" r="1.1" fill="#333333"/>
<circle cx="433.7" cy="294.6" r="1.1" fill="#a82c2c"/>
<circle cx="379.3" cy="265.2" r="1.1" fill="#a82c2c"/>
<circle cx="402.1" cy="308.4" r="1.1" fill="#a82c2c"/>
<circle cx="388.6" cy="299.9" r="1.1" fill="#a82c2c"/>
<circle cx="385.8" cy="269.2" r="1.1" fill="#a82c2c"/>
<circle cx="374.5" cy="291.2" r="1.1" fill="#a82c2c"/>
<circle cx="343.1" cy="249.6" r="1.1" fill="#333333"/>
<circle cx="385.1" cy="279.9" r="1.1" fill="#a82c2c"/>
<circle cx="370.2" cy="273.7" r="1.1" fill="#333333"/>
<circle cx="368.6" cy="261.8" r="1.1" fill="#a82c2c"/>
<circle cx="366.1" cy="269.6" r="1.1" fill="#a82c2c"/>
<circle cx="378.3" cy="261.6" r="1.1" fill="#333333"/>
<circle cx="362.5" cy="261.0" r="1.1" fill="#333333"/>
<circle cx="371.7" cy="289.9" r="1.1" fill="#a82c2c"/>
<circle cx="366.9" cy="276.3" r="1.1" fill="#a82c2c"/>
<circle cx="385.9" cy="298.8" r="1.1" fill="#a82c2c"/>
<circle cx="421.3" cy="307.5" r="1.1" fill="#a82c2c"/>
<circle cx="342.7" cy="279.4" r="1.1" fill="#a82c2c"/>
<circle cx="386.9" cy="276.8" r="1.1" fill="#a82c2c"/>
<circle cx="384.4" cy="299.1" r="1.1" fill="#333333"/>
<circle cx="345.9" cy="264.0" r="1.1" fill="#333333"/>
<circle cx="362.0" cy="260.1" r="1.1" fill="#333333"/>
<circle cx="381.0" cy="260.0" r="1.1" fill="#333333"/>
<circle cx="368.4" cy="284.9" r="1.1" fill="#a82c2c"/>
<circle cx="376.6" cy="264.4" r="1.1" fill="#333333"/>
<circle cx="378.8" cy="267.0" r="1.1" fill="#a82c2c"/>
<circle cx="361.0" cy="248.2" r="1.1" fill="#a82c2c"/>
<circle cx="413.5" cy="277.8" r="1.1" fill="#333333"/>
<circle cx="367.0" cy="271.4" r="1.1" fill="#a82c2c"/>
<circle cx="406.0" cy="280.5" r="1.1" fill="#333333"/>
<circle cx="384.9" cy="283.4" r="1.1" fill="#333333"/>
<circle cx="374.3" cy="277.3" r="1.1" fill="#a82c2c"/>
<circle cx="417.0" cy="296.8" r="1.1" fill="#a82c2c"/>
<circle cx="363.2" cy="263.7" r="1.1" fill="#333333"/>
<circle cx="379.5" cy="273.3" r="1.1" fill="#333333"/>
<circle cx="367.0" cy="317.0" r="1.1" fill="#a82c2c"/>
<circle cx="421.1" cy="260.1" r="1.1" fill="#333333"/>
<circle cx="419.1" cy="289.0" r="1.1" fill="#a82c2c"/>
<circle cx="380.6" cy="269.9" r="1.1" fill="#333333"/>
<circle cx="363.1" cy="248.7" r="1.1" fill="#333333"/>
<circle cx="372.2" cy="261.5" r="1.1" fill="#333333"/>
<circle cx="360.4" cy="253.4" r="1.1" fill="#333333"/>
<circle cx="354.0" cy="266.1" r="1.1" fill="#333333"/>
<circle cx="378.3" cy="256.3" r="1.1" fill="#a82c2c"/>
<circle cx="383.5" cy="265.6" r="1.1" fill="#333333"/>
<circle cx="400.3" cy="277.6" r="1.1" fill="#a82c2c"/>
<circle cx="396.7" cy="294.8" r="1.1" fill="#a82c2c"/>
<circle cx="422.8" cy="322.9" r="1.1" fill="#a82c2c"/>
<circle cx="359.5" cy="243.0" r="1.1" fill="#333333"/>
<circle cx="368.7" cy="265.1" r="1.1" fill="#333333"/>
<circle cx="418.7" cy="276.0" r="1.1" fill="#a82c2c"/>
<circle cx="401.6" cy="336.1" r="1.1" fill="#a82c2c"/>
<circle cx="386.9" cy="266.4" r="1.1" fill="#a82c2c"/>
<circle cx="430.7" cy="311.7" r="1.1" fill="#a82c2c"/>
<circle cx="345.0" cy="250.8" r="1.1" fill="#333333"/>
<circle cx="366.2" cy="267.1" r="1.1" fill="#333333"/>
<circle cx="382.3" cy="262.9" r="1.1" fill="#333333"/>
<circle cx="378.1" cy="256.0" r="1.1" fill="#333333"/>
<circle cx="372.7" cy="260.5" r="1.1" fill="#333333"/>
<circle cx="428.1" cy="273.2" r="1.1" fill="#a82c2c"/>
<circle cx="378.0" cy="250.4" r="1.1" fill="#333333"/>
<circle cx="434.3" cy="321.1" r="1.1" fill="#a82c2c"/>
<circle cx="379.8" cy="281.6" r="1.1" fill="#a82c2c"/>
<circle cx="385.0" cy="254.9" r="1.1" fill="#333333"/>
<circle cx="356.8" cy="272.1" r="1.1" fill="#a82c2c"/>
<circle cx="406.3" cy="314.5" r="1.1" fill="#a82c2c"/>
<circle cx="375.4" cy="259.6" r="1.1" fill="#a82c2c"/>
<circle cx="437.2" cy="304.0" r="1.1" fill="#333333"/>
<circle cx="373.6" cy="253.2" r="1.1" fill="#a82c2c"/>
<circle cx="369.6" cy="257.8" r="1.1" fill="#333333"/>
<circle cx="363.4" cy="275.9" r="1.1" fill="#333333"/>
<circle cx="352.5" cy="239.8" r="1.1" fill="#a82c2c"/>
<circle cx="340.2" cy="264.6" r="1.1" fill="#333333"/>
<circle cx="371.5" cy="262.0" r="1.1" fill="#333333"/>
<circle cx="384.6" cy="257.0" r="1.1" fill="#333333"/>
<circle cx="389.7" cy="262.3" r="1.1" fill="#333333"/>
<circle cx="385.4" cy="249.0" r="1.1" fill="#333333"/>
<circle cx="380.0" cy="255.7" r="1.1" fill="#333333"/>
<circle cx="376.2" cy="266.8" r="1.1" fill="#333333"/>
<circle cx="363.9" cy="302.9" r="1.1" fill="#a82c2c"/>
<circle cx="350.6" cy="245.0" r="1.1" fill="#333333"/>
<circle cx="350.7" cy="267.2" r="1.1" fill="#333333"/>
<circle cx="348.2" cy="247.3" r="1.1" fill="#333333"/>
<circle cx="390.9" cy="306.3" r="1.1" fill="#a82c2c"/>
<circle cx="373.5" cy="274.0" r="1.1" fill="#333333"/>
<circle cx="395.6" cy="272.6" r="1.1" fill="#333333"/>
<circle cx="417.3" cy="341.4" r="1.1" fill="#a82c2c"/>
<circle cx="375.3" cy="250.9" r="1.1" fill="#333333"/>
<circle cx="397.4" cy="341.4" r="1.1" fill="#a82c2c"/>
<circle cx="361.9" cy="272.5" r="1.1" fill="#a82c2c"/>
<circle cx="370.2" cy="265.6" r="1.1" fill="#333333"/>
<circle cx="390.9" cy="296.0" r="1.1" fill="#a82c2c"/>
<circle cx="412.1" cy="299.9" r="1.1" fill="#a82c2c"/>
<circle cx="355.0" cy="282.4" r="1.1" fill="#a82c2c"/>
<circle cx="361.7" cy="278.2" r="1.1" fill="#a82c2c"/>
<circle cx="363.3" cy="254.6" r="1.1" fill="#333333"/>
<circle cx="376.1" cy="253.9" r="1.1" fill="#a82c2c"/>
<circle cx="398.7" cy="290.1" r="1.1" fill="#a82c2c"/>
<circle cx="370.8" cy="280.1" r="1.1" fill="#333333"/>
<circle cx="383.2" cy="288.1" r="1.1" fill="#333333"/>
<circle cx="376.2" cy="238.0" r="1.1" fill="#a82c2c"/>
<circle cx="369.7" cy="279.5" r="1.1" fill="#333333"/>
<circle cx="401.8" cy="332.4" r="1.1" fill="#a82c2c"/>
<circle cx="413.4" cy="309.8" r="1.1" fill="#a82c2c"/>
<circle cx="387.9" cy="299.3" r="1.1" fill="#a82c2c"/>
<circle cx="438.6" cy="305.5" r="1.1" fill="#333333"/>
<circle cx="369.3" cy="256.6" r="1.1" fill="#333333"/>
<circle cx="356.9" cy="260.8" r="1.1" fill="#333333"/>
<circle cx="391.7" cy="288.3" r="1.1" fill="#a82c2c"/>
<circle cx="384.8" cy="274.2" r="1.1" fill="#a82c2c"/>
<circle cx="414.7" cy="284.0" r="1.1" fill="#a82c2c"/>
<circle cx="397.0" cy="259.4" r="1.1" fill="#a82c2c"/>
<circle cx="370.5" cy="270.0" r="1.1" fill="#333333"/>
<circle cx="393.9" cy="281.4" r="1.1" fill="#a82c2c"/>
<circle cx="356.2" cy="277.3" r="1.1" fill="#333333"/>
<circle cx="364.6" cy="274.6" r="1.1" fill="#a82c2c"/>
<circle cx="367.9" cy="267.2" r="1.1" fill="#333333"/>
<circle cx="407.8" cy="305.1" r="1.1" fill="#a82c2c"/>
<circle cx="372.4" cy="308.1" r="1.1" fill="#a82c2c"/>
<circle cx="380.6" cy="261.3" r="1.1" fill="#a82c2c"/>
<circle cx="375.9" cy="330.0" r="1.1" fill="#a82c2c"/>
<circle cx="357.0" cy="258.2" r="1.1" fill="#333333"/>
<circle cx="375.2" cy="282.1" r="1.1" fill="#333333"/>
<circle cx="370.5" cy="284.2" r="1.1" fill="#a82c2c"/>
<circle cx="346.6" cy="260.2" r="1.1" fill="#333333"/>
<circle cx="359.7" cy="280.4" r="1.1" fill="#a82c2c"/>
<circle cx="404.6" cy="286.8" r="1.1" fill="#a82c2c"/>
<circle cx="439.5" cy="313.4" r="1.1" fill="#333333"/>
<circle cx="401.4" cy="294.8" r="1.1" fill="#333333"/>
<circle cx="381.8" cy="268.1" r="1.1" fill="#333333"/>
<circle cx="352.3" cy="255.7" r="1.1" fill="#333333"/>
<circle cx="409.2" cy="297.4" r="1.1" fill="#a82c2c"/>
<circle cx="415.7" cy="285.5" r="1.1" fill="#a82c2c"/>
<circle cx="386.0" cy="276.8" r="1.1" fill="#a82c2c"/>
<circle cx="380.7" cy="262.0" r="1.1" fill="#a82c2c"/>
<circle cx="363.8" cy="251.7" r="1.1" fill="#333333"/>
<circle cx="349.9" cy="263.4" r="1.1" fill="#333333"/>
<circle cx="399.6" cy="271.0" r="1.1" fill="#a82c2c"/>
<circle cx="355.8" cy="253.2" r="1.1" fill="#333333"/>
<circle cx="356.2" cy="257.4" r="1.1" fill="#a82c2c"/>
<circle cx="385.5" cy="265.0" r="1.1" fill="#333333"/>
<circle cx="378.8" cy="267.5" r="1.1" fill="#333333"/>
<circle cx="371.0" cy="268.6" r="1.1" fill="#a82c2c"/>
<circle cx="354.6" cy="248.1" r="1.1" fill="#333333"/>
<circle cx="384.9" cy="263.9" r="1.1" fill="#a82c2c"/>
<circle cx="370.3" cy="272.3" r="1.1" fill="#333333"/>
<circle cx="425.0" cy="314.9" r="1.1" fill="#a82c2c"/>
<circle cx="377.3" cy="325.2" r="1.1" fill="#a82c2c"/>
<circle cx="370.9" cy="235.8" r="1.1" fill="#333333"/>
<circle cx="369.7" cy="303.4" r="1.1" fill="#a82c2c"/>
<circle cx="362.9" cy="270.5" r="1.1" fill="#333333"/>
<circle cx="375.7" cy="272.1" r="1.1" fill="#333333"/>
<circle cx="382.5" cy="248.3" r="1.1" fill="#333333"/>
<circle cx="384.8" cy="250.1" r="1.1" fill="#a82c2c"/>
<circle cx="395.0" cy="341.4" r="1.1" fill="#333333"/>
<circle cx="376.6" cy="257.8" r="1.1" fill="#a82c2c"/>
<circle cx="385.9" cy="249.8" r="1.1" fill="#a82c2c"/>
<circle cx="368.8" cy="279.9" r="1.1" fill="#333333"/>
<circle cx="365.0" cy="267.1" r="1.1" fill="#333333"/>
<circle cx="364.6" cy="245.4" r="1.1" fill="#333333"/>
<circle cx="376.6" cy="274.9" r="1.1" fill="#a82c2c"/>
<circle cx="355.1" cy="249.3" r="1.1" fill="#a82c2c"/>
<circle cx="344.3" cy="269.2" r="1.1" fill="#333333"/>
<circle cx="360.5" cy="262.2" r="1.1" fill="#333333"/>
<circle cx="366.7" cy="253.1" r="1.1" fill="#333333"/>
<circle cx="364.7" cy="269.2" r="1.1" fill="#333333"/>
<circle cx="408.8" cy="292.6" r="1.1" fill="#333333"/>
<circle cx="368.9" cy="260.3" r="1.1" fill="#333333"/>
<circle cx="410.6" cy="294.3" r="1.1" fill="#333333"/>
<circle cx="361.2" cy="305.5" r="1.1" fill="#a82c2c"/>
<circle cx="404.5" cy="244.0" r="1.1" fill="#a82c2c"/>
<circle cx="346.3" cy="270.0" r="1.1" fill="#333333"/>
<circle cx="377.5" cy="260.7" r="1.1" fill="#333333"/>
<circle cx="386.9" cy="257.6" r="1.1" fill="#a82c2c"/>
<circle cx="360.3" cy="240.9" r="1.1" fill="#333333"/>
<circle cx="398.7" cy="266.0" r="1.1" fill="#a82c2c"/>
<circle cx="371.4" cy="269.0" r="1.1" fill="#a82c2c"/>
<circle cx="376.7" cy="271.7" r="1.1" fill="#333333"/>
<circle cx="375.8" cy="266.1" r="1.1" fill="#333333"/>
<circle cx="368.3" cy="251.3" r="1.1" fill="#333333"/>
<circle cx="375.0" cy="256.7" r="1.1" fill="#a82c2c"/>
<circle cx="387.0" cy="324.6" r="1.1" fill="#a82c2c"/>
<circle cx="356.6" cy="241.0" r="1.1" fill="#333333"/>
<circle cx="416.5" cy="319.4" r="1.1" fill="#a82c2c"/>
<circle cx="352.1" cy="254.1" r="1.1" fill="#333333"/>
<circle cx="361.7" cy="257.3" r="1.1" fill="#333333"/>
<circle cx="380.6" cy="274.6" r="1.1" fill="#a82c2c"/>
<circle cx="399.9" cy="295.0" r="1.1" fill="#a82c2c"/>
<circle cx="408.3" cy="312.4" r="1.1" fill="#a82c2c"/>
<circle cx="396.9" cy="258.2" r="1.1" fill="#a82c2c"/>
<circle cx="402.7" cy="292.3" r="1.1" fill="#a82c2c"/>
<circle cx="383.7" cy="271.0" r="1.1" fill="#333333"/>
<circle cx="419.6" cy="325.4" r="1.1" fill="#a82c2c"/>
<circle cx="390.3" cy="256.4" r="1.1" fill="#333333"/>
<circle cx="389.6" cy="278.5" r="1.1" fill="#a82c2c"/>
<circle cx="355.8" cy="262.2" r="1.1" fill="#333333"/>
<circle cx="357.5" cy="259.1" r="1.1" fill="#333333"/>
<circle cx="343.0" cy="258.7" r="1.1" fill="#a82c2c"/>
<circle cx="417.7" cy="305.0" r="1.1" fill="#a82c2c"/>
<circle cx="425.0" cy="283.1" r="1.1" fill="#a82c2c"/>
<circle cx="361.1" cy="259.8" r="1.1" fill="#333333"/>
<circle cx="387.1" cy="255.4" r="1.1" fill="#a82c2c"/>
<circle cx="373.8" cy="258.8" r="1.1" fill="#a82c2c"/>
<circle cx="372.8" cy="255.4" r="1.1" fill="#a82c2c"/>
<circle cx="377.0" cy="269.6" r="1.1" fill="#333333"/>
<circle cx="399.2" cy="277.3" r="1.1" fill="#a82c2c"/>
<circle cx="365.5" cy="270.4" r="1.1" fill="#a82c2c"/>
<circle cx="426.8" cy="320.7" r="1.1" fill="#a82c2c"/>
<circle cx="390.4" cy="289.9" r="1.1" fill="#a82c2c"/>
<circle cx="381.3" cy="274.1" r="1.1" fill="#a82c2c"/>
<circle cx="377.1" cy="265.8" r="1.1" fill="#a82c2c"/>
<circle cx="372.3" cy="270.1" r="1.1" fill="#a82c2c"/>
<circle cx="376.2" cy="273.0" r="1.1" fill="#a82c2c"/>
<circle cx="382.2" cy="297.3" r="1.1" fill="#a82c2c"/>
<circle cx="363.9" cy="261.1" r="1.1" fill="#a82c2c"/>
<circle cx="357.2" cy="271.3" r="1.1" fill="#333333"/>
<circle cx="399.1" cy="304.6" r="1.1" fill="#a82c2c"/>
<circle cx="382.4" cy="258.3" r="1.1" fill="#a82c2c"/>
<circle cx="367.1" cy="243.5" r="1.1" fill="#333333"/>
<circle cx="353.7" cy="268.9" r="1.1" fill="#333333"/>
<circle cx="401.2" cy="298.2" r="1.1" fill="#a82c2c"/>
<circle cx="396.1" cy="287.3" r="1.1" fill="#333333"/>
<circle cx="367.8" cy="264.9" r="1.1" fill="#a82c2c"/>
<circle cx="389.0" cy="264.1" r="1.1" fill="#a82c2c"/>
<circle cx="395.1" cy="312.8" r="1.1" fill="#a82c2c"/>
<circle cx="401.5" cy="285.8" r="1.1" fill="#a82c2c"/>
<circle cx="364.8" cy="271.0" r="1.1" fill="#333333"/>
<circle cx="389.5" cy="303.3" r="1.1" fill="#333333"/>
<circle cx="390.8" cy="341.4" r="1.1" fill="#a82c2c"/>
<circle cx="367.2" cy="260.2" r="1.1" fill="#333333"/>
<circle cx="360.9" cy="249.7" r="1.1" fill="#333333"/>
<circle cx="355.8" cy="246.4" r="1.1" fill="#333333"/>
<circle cx="382.8" cy="283.7" r="1.1" fill="#a82c2c"/>
<circle cx="363.1" cy="282.9" r="1.1" fill="#333333"/>
<circle cx="351.2" cy="241.4" r="1.1" fill="#333333"/>
<circle cx="383.7" cy="272.2" r="1.1" fill="#333333"/>
<circle cx="344.3" cy="246.3" r="1.1" fill="#333333"/>
<circle cx="382.3" cy="272.8" r="1.1" fill="#a82c2c"/>
<circle cx="381.0" cy="325.2" r="1.1" fill="#333333"/>
<circle cx="384.7" cy="282.1" r="1.1" fill="#333333"/>
<circle cx="399.3" cy="285.3" r="1.1" fill="#a82c2c"/>
<circle cx="379.0" cy="273.6" r="1.1" fill="#a82c2c"/>
<circle cx="388.1" cy="278.3" r="1.1" fill="#a82c2c"/>
<circle cx="370.0" cy="341.4" r="1.1" fill="#a82c2c"/>
<circle cx="370.5" cy="256.4" r="1.1" fill="#333333"/>
<circle cx="406.7" cy="296.7" r="1.1" fill="#a82c2c"/>
<circle cx="334.0" cy="251.5" r="1.1" fill="#333333"/>
<circle cx="358.4" cy="295.0" r="1.1" fill="#a82c2c"/>
<circle cx="374.0" cy="251.1" r="1.1" fill="#333333"/>
<circle cx="378.4" cy="265.4" r="1.1" fill="#333333"/>
<circle cx="367.6" cy="275.0" r="1.1" fill="#a82c2c"/>
<circle cx="421.0" cy="299.9" r="1.1" fill="#a82c2c"/>
</g>
<line x1="320.8" y1="244.7" x2="456.7" y2="303.8" stroke="#111" stroke-width="2.1"/>
<line x1="315.8" y1="250.2" x2="478.9" y2="321.5" stroke="#c6432f" stroke-width="1.8"/>
<path d="M296.0 206.4 V364.5 H514.0" fill="none" stroke="#6c6c6c" stroke-width="1.2"/>
<line x1="292.0" y1="211.2" x2="296.0" y2="211.2" stroke="#6c6c6c" stroke-width="1"/>
<text x="290.5" y="214.0" class="tk" text-anchor="end">1000</text>
<line x1="292.0" y1="240.8" x2="296.0" y2="240.8" stroke="#6c6c6c" stroke-width="1"/>
<text x="290.5" y="243.3" class="tk" text-anchor="end">100</text>
<line x1="292.0" y1="270.4" x2="296.0" y2="270.4" stroke="#6c6c6c" stroke-width="1"/>
<text x="290.5" y="271.3" class="tk" text-anchor="end">10</text>
<line x1="292.0" y1="300.0" x2="296.0" y2="300.0" stroke="#6c6c6c" stroke-width="1"/>
<text x="290.5" y="301.6" class="tk" text-anchor="end">1.0</text>
<line x1="292.0" y1="329.6" x2="296.0" y2="329.6" stroke="#6c6c6c" stroke-width="1"/>
<text x="290.5" y="335.4" class="tk" text-anchor="end">0.1</text>
<line x1="292.0" y1="359.2" x2="296.0" y2="359.2" stroke="#6c6c6c" stroke-width="1"/>
<text x="290.5" y="362.8" class="tk" text-anchor="end">0.01</text>
<line x1="300.4" y1="364.5" x2="300.4" y2="368.0" stroke="#6c6c6c" stroke-width="1"/>
<text x="300.4" y="376.4" class="tk" text-anchor="middle">1.0</text>
<line x1="371.3" y1="364.5" x2="371.3" y2="368.0" stroke="#6c6c6c" stroke-width="1"/>
<text x="371.3" y="376.4" class="tk" text-anchor="middle">3.2</text>
<line x1="440.7" y1="364.5" x2="440.7" y2="368.0" stroke="#6c6c6c" stroke-width="1"/>
<text x="440.7" y="376.4" class="tk" text-anchor="middle">10</text>
<line x1="511.6" y1="364.5" x2="511.6" y2="368.0" stroke="#6c6c6c" stroke-width="1"/>
<text x="511.6" y="376.4" class="tk" text-anchor="middle">32</text>
<text x="385.9" y="384.5" class="at">sTfR mg/L</text>
<text transform="translate(271.5,289.5) rotate(-90)" class="at" text-anchor="middle">Hepcidin ng/ml</text>
<text x="301.6" y="216.1" class="lt">D</text>
<line x1="391.1" y1="349.2" x2="409.2" y2="349.2" stroke="#111" stroke-width="1.35"/>
<line x1="391.1" y1="358.8" x2="409.2" y2="358.8" stroke="#c6432f" stroke-width="1.35"/>
<text x="412.0" y="351.9" class="lg">Start</text>
<text x="412.0" y="362.3" class="lg">End</text>
<text x="432.6" y="351.9" class="lg"><tspan font-style="italic">r</tspan> = -0.43; p&lt;0.00005</text>
<text x="432.6" y="362.3" class="lg"><tspan font-style="italic">r</tspan> = -0.42; p&lt;0.00005</text>
</svg></body></html>
